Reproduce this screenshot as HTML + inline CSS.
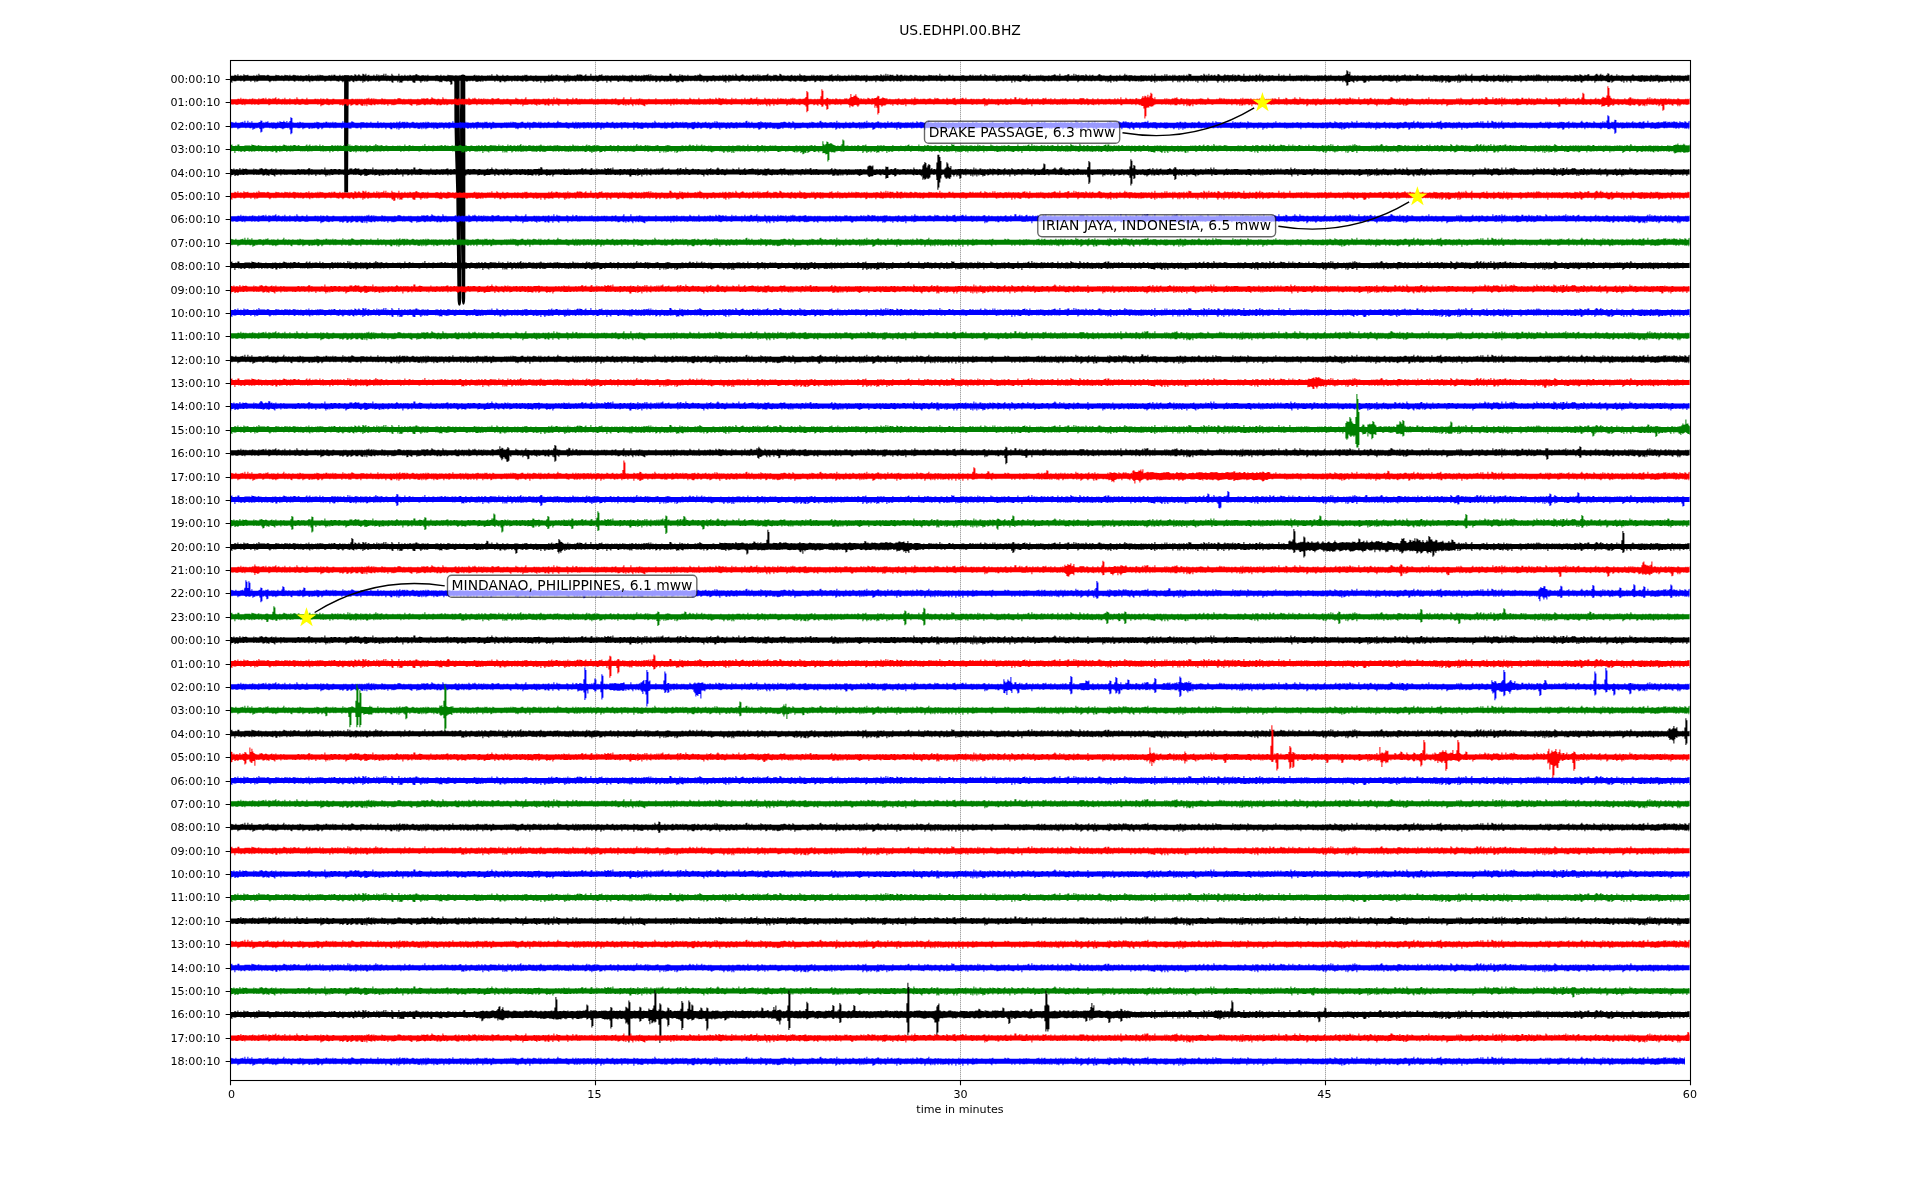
<!DOCTYPE html><html><head><meta charset="utf-8"><title>US.EDHPI.00.BHZ dayplot</title>
<style>html,body{margin:0;padding:0;background:#fff;overflow:hidden}svg{display:block}text{font-family:"DejaVu Sans","Liberation Sans",sans-serif;fill:#000}svg{will-change:transform}</style></head><body>
<svg width="1920" height="1200" viewBox="0 0 1920 1200">
<rect width="1920" height="1200" fill="#fff"/>
<defs><path id="nb0" d="M0 0v-2.5h4v-1h1v.5h1v.5h1v-1.5h1v1.5h2v-.5h1v.5h2v-1.5h1v1h3v-.5h1v1h5v-.5h1v.5h2v-1h1v1h1v-2h1v1.5h6v.5h1v-.5h1v-.5h1v.5h1v.5h6v-1h1v.5h3v.5h2v-.5h1v.5h2v-1h1v.5h3v.5h1v-1h1v1h2v-.5h1v-.5h1v.5h2v.5h1v-.5h1v.5h2v-.5h1v.5h4v-.5h2v.5h1v-1.5h1v1.5h2v-.5h1v.5h3v-.5h1v.5h1v-1h1v1h1v-1h1v.5h3v.5h5v-.5h2v.5h1v-1h1v1h1v-1h2v1h4v-1h1v1h2v-.5h1v.5h1v-.5h1v.5h3v-.5h1v.5h1v-.5h2v.5h2v-1.5h1v.5h1v1h1v-.5h1v-1h1v1h1v.5h2v-2h1v.5h1v1h1v-1.5h1v2h1v-.5h1v-.5h1v1h4v-1h1v1h2v-1.5h1v1.5h1v-1h1v1h1v-.5h3v-1.5h1v2h1v-2h1v2h1v-.5h1v.5h3v-2h1v1.5h1v.5h5v-2h1v2h2v-.5h1v.5h2v-1h1v1h2v-.5h1v.5h1v-1h1v.5h1v.5h1v-.5h3v-1h2v1h2v.5h2v-.5h3v.5h1v-.5h1v.5h1v-1h1v1h7v-.5h3v.5h2v-1h1v1h2v-.5h1v.5h3v-1h1v.5h2v.5h2v-.5h1v.5h2v-.5h1v.5h3v-.5h1v.5h3v-.5h1v.5h9v-.5h1v-.5h1v1h1v-.5h1v.5h1v-.5h1v.5h2v-.5h1v.5h5v-.5h1v.5h1v-.5h1v.5h1v-1.5h1v1.5h4v-1.5h1v1h1v.5h4v-1h1v1h3v-.5h2v.5h6v-.5h1v.5h2v-.5h1v.5h4v-.5h1v.5h1v-1h1v.5h1v-.5h1v1h3v-.5h1v.5h4v-.5h1v.5h12v-1h1v1h1v-.5h1v-1h1v1.5h1v-.5h1v.5h1v-1h2v.5h1v.5h1v-.5h1v.5h3v-.5h1v.5h1v-.5h1v.5h1v-1.5h1v1.5h1v-.5h1v.5h4v-.5h1v.5h1v-1h1v-.5h1v1h1v-1h1v.5h2v1h2v-.5h1v-1h1v1.5h4v-2h1v2h4v-.5h1v.5h2v-.5h1v-.5h1v.5h1v-1h1v1.5h3v-.5h1v.5h1v-.5h1v.5h3v-.5h1v.5h2v-.5h1v.5h1v-.5h1v.5h2v-.5h1v.5h2v-1h1v1h1v-.5h1v.5h4v-.5h1v.5h1v-1h1v.5h1v.5h2v-1h1v1h2v-.5h1v.5h2v-.5h1v.5h1v-1h1v.5h2v-.5h1v.5h1v-1h1v1.5h1v-1.5h1v1.5h1v-.5h1v.5h2v-.5h1v.5h5v-.5h1v.5h7v-2h2v1.5h1v.5h2v-.5h1v.5h4v-1.5h1v1.5h1v-1h1v.5h1v.5h1v-.5h1v.5h2v-1h1v1h6v-.5h2v.5h1v-1h1v.5h1v-1.5h1v1h1v.5h1v.5h10v-.5h2v.5h5v-.5h1v.5h2v-1h1v1h1v-.5h1v-.5h1v1h2v-1h1v.5h2v.5h1v-1h1v1h2v-2h1v1.5h1v.5h3v-.5h1v-.5h1v-.5h1v1h1v.5h2v-.5h1v.5h2v-.5h1v.5h2v-1h2v1h1v-1h1v1h1v-1.5h1v1.5h1v-1h1v1h2v-.5h4v-.5h1v-1h1v2h1v-.5h1v.5h3v-1h1v.5h1v-.5h1v.5h1v.5h2v-2h1v.5h1v1h1v.5h1v-.5h1v.5h3v-.5h1v.5h2v-.5h1v-.5h1v1h2v-.5h1v.5h2v-.5h1v.5h1v-2h1v1.5h2v.5h1v-.5h2v.5h6v-1h1v1h1v-1h1v1h2v-.5h2v.5h1v-.5h2v.5h1v-.5h1v.5h6v-1h1v.5h1v-1h1v1.5h3v-.5h1v.5h1v-1.5h1v1.5h1v-.5h1v.5h4v-.5h1v.5h3v-1h1v1h2v-1h1v1h1v-.5h1v.5h1v-1h1v.5h3v.5h2v-.5h1v.5h1v-.5h2v.5h1v-1h1v1h6v-.5h1v.5h1v-.5h3v.5h2v-1.5h1v1h1v.5h1v-1h1v1h1v-2h1v2h1v-1.5h1v1.5h1v-1h2v.5h1v-.5h1v1h3v-1.5h1v.5h1v1h1v-.5h1v-.5h2v1h2v-1h1v1h1v-.5h1v.5h2v-.5h1v-.5h1v.5h1v.5h2v-1h1v.5h2v.5h2v-.5h1v.5h3v-.5h1v.5h4v-1h1v.5h3v.5h1v-.5h1v.5h1v-.5h2v.5h2v-2h1v2h1v-.5h1v.5h6v-1h2v1h2v-1h1v1h8v-.5h3v.5h5v-1h1v.5h1v.5h1v-1h1v1h2v-.5h1v.5h1v-.5h1v.5h1v-.5h1v-1h1v1.5h3v-1.5h1v1h2v.5h2v-.5h1v.5h2v-1.5h1v1.5h1v-1.5h1v1.5h2v-.5h1v.5h1v-.5h2v.5h3v-.5h3v.5h1v-1h1v1h1v-.5h1v.5h1v-.5h2v.5h1v-.5h1v.5h1v-.5h2v.5h3v-1h2v-.5h1v1.5h1v-1h1v1h2v-1.5h1v1.5h6v-.5h1v.5h1v-.5h1v.5h1v-1h1v1h1v-.5h1v.5h5v-.5h1v.5h2v-.5h2v-.5h1v-.5h1v1h1v.5h1v-.5h1v.5h1v-2h1v2h4v-.5h3v-1h2v1.5h2v-.5h1v.5h1v-2h1v2h1v-1.5h1v1h2v-.5h1v1h1v-.5h4v.5h1v-1.5h1v1h1v.5h2v-1h1v1h1v-.5h1v-.5h1v1h4v-.5h1v-1h2v1h2v.5h1v-.5h1v.5h5v-.5h1v-.5h1v1h5v-.5h1v.5h2v-1h1v1h3v-.5h1v-1.5h1v1.5h1v-.5h1v1h1v-.5h4v.5h2v-.5h1v.5h5v-.5h2v.5h1v-.5h1v.5h1v-.5h1v.5h2v-.5h1v.5h2v-1h1v1h2v-2h1v2h6v-.5h1v.5h2v-1.5h1v1.5h1v-1.5h1v1.5h2v-.5h1v.5h2v-1h1v1h1v-1h1v1h3v-.5h2v.5h1v-.5h1v.5h1v-1h1v1h2v-1h1v1h1v-2h1v.5h2v1.5h9v-.5h2v.5h1v-2h1v1h1v1h1v-1h1v1h1v-2h1v2h1v-.5h1v-.5h1v1h1v-.5h1v-.5h1v1h2v-1.5h2v1h1v.5h3v-.5h1v-1h1v1h2v-.5h1v.5h4v-1h1v1.5h1v-1h1v.5h1v.5h1v-1h2v.5h1v.5h3v-2h1v2h5v-1h1v1h2v-.5h1v.5h2v-1h2v1h1v-.5h1v-1.5h1v2h1v-1h1v.5h1v.5h3v-.5h1v.5h1v-.5h2v.5h1v-.5h2v.5h5v-2h1v2h2v-.5h1v.5h1v-1h1v1h5v-2h1v2h6v-.5h1v.5h1v-.5h1v.5h1v-.5h2v.5h2v-1h1v1h1v-1h1v1h1v-.5h1v.5h8v-.5h1v.5h1v-.5h1v.5h1v-.5h1v.5h2v-1h1v.5h1v.5h2v-.5h1v.5h1v-1h1v1h7v-.5h1v.5h4v-.5h1v.5h1v-.5h1v.5h1v-1h1v1h1v-.5h1v.5h1v-.5h1v.5h2v-.5h1v.5h2v-.5h1v.5h4v-.5h1v.5h1v-.5h1v.5h4v-.5h2v.5h3v-.5h1v.5h3v-.5h2v-.5h1v1h2v-.5h4v.5h1v-1h1v.5h1v.5h1v-.5h1v.5h1v-1h1v1h2v-.5h1v-.5h1v1h3v-.5h3v-1h1v1h1v.5h1v-.5h1v.5h1v-1h1v.5h1v.5h1v-.5h1v.5h3v-1.5h2v1.5h1v-.5h1v.5h1v-.5h1v-.5h1v1h6v-.5h1v.5h3v-1h1v.5h3v.5h3v-.5h3v.5h2v-.5h1v.5h1v-.5h2v.5h6v-.5h1v.5h1v-.5h1v-1h1v1h1v.5h1v-1h1v1h1v-1h1v1h1v-2h1v1.5h1v.5h3v-.5h1v-1.5h1v2h9v-.5h2v-.5h1v1h2v-1.5h1v1.5h6v-1h1v1h3v-.5h1v-.5h1v1h1v-.5h1v.5h2v-1.5h1v1.5h2v-1h1v1h1v-.5h1v.5h1v-.5h1v.5h8v-.5h2v.5h4v-.5h1v.5h1v-1h1v.5h1v.5h1v-.5h2v.5h1v-1h1v1h1v-.5h1v-1h1v1h1v-1h1v1h2v.5h2v-.5h1v.5h2v-1h1v1h1v-.5h1v.5h2v-.5h2v.5h1v-.5h1v.5h1v-.5h1v.5h1v-.5h2v.5h3v-.5h1v.5h1v-.5h3v.5h1v-.5h1v.5h4v-1h1v.5h3v.5h1v-1.5h1v.5h1v.5h1v.5h2v-1h1v.5h2v-1h2v1.5h5v-.5h1v-1h1v-.5h1v1h1v1h1v-1h1v-1h1v1.5h1v-.5h1v1h3v-1h1v1h3v-.5h1v-.5h1v1h4v-1.5h1v1.5h1v-.5h1v.5h2v-.5h2v.5h8v-.5h1v-1h1v1h1v.5h4v-.5h1v.5h1v-.5h3v.5h1v-.5h1v.5h1v-.5h1v.5h3v-1h1v.5h1v.5h1v-.5h1v.5h1v-1h1v.5h1v-.5h1v1h1v-.5h1v.5h7v-.5h1v.5h3v-1h1v.5h1v.5h1v-.5h1v.5h2v-.5h1v.5h1v-.5h1v.5h5v-.5h1v.5h1v-1h1v.5h1v-.5h1v8h-1v-2h-2v.5h-1v-.5h-2v1h-1v-.5h-1v-.5h-2v1.5h-1v-1.5h-1v.5h-1v-.5h-1v.5h-1v-.5h-1v1.5h-1v-1.5h-2v2h-1v-1.5h-1v-.5h-2v.5h-2v.5h-1v-1h-1v1h-2v-.5h-1v.5h-1v1h-1v-1.5h-1v-.5h-1v.5h-3v.5h-1v-1h-1v1h-2v-1h-1v.5h-3v.5h-2v-1h-1v1h-3v-.5h-2v-.5h-3v.5h-1v-.5h-2v2h-1v-1.5h-1v-.5h-2v1.5h-1v-1.5h-2v2h-1v-2h-1v1h-1v-.5h-1v-.5h-6v.5h-1v.5h-1v1h-1v-2h-1v1.5h-3v-1h-2v-.5h-3v.5h-2v-.5h-1v.5h-1v-.5h-1v.5h-2v1.5h-1v-2h-2v.5h-1v-.5h-3v.5h-1v-.5h-3v.5h-2v1.5h-1v-.5h-1v-1.5h-1v.5h-2v-.5h-1v1h-2v-.5h-3v.5h-1v-1h-2v1h-1v-1h-4v.5h-1v.5h-1v-1h-1v.5h-1v-.5h-1v.5h-1v-.5h-2v.5h-1v-.5h-2v.5h-1v-.5h-3v2h-1v-2h-1v.5h-1v-.5h-1v.5h-1v-.5h-2v.5h-1v-.5h-1v.5h-1v-.5h-1v.5h-2v-.5h-1v1h-1v-1h-6v.5h-2v-.5h-3v.5h-1v1h-1v-1.5h-1v.5h-1v-.5h-6v2h-1v-2h-1v.5h-2v1.5h-1v-1.5h-1v.5h-1v-1h-1v.5h-1v1h-1v-1h-1v.5h-2v-.5h-1v-.5h-2v.5h-2v1h-1v-1h-1v-.5h-1v1h-1v-1h-2v1h-2v-.5h-3v-.5h-2v.5h-1v1h-1v-1h-1v-.5h-1v.5h-1v-.5h-1v.5h-1v-.5h-2v2h-1v-1.5h-1v-.5h-1v.5h-1v-.5h-1v.5h-2v-.5h-2v.5h-1v-.5h-1v1h-1v1h-1v-2h-1v2h-1v-2h-2v1h-1v-1h-1v.5h-1v-.5h-1v1h-1v.5h-1v.5h-1v-1h-1v-.5h-1v1.5h-1v-2h-2v1h-1v1h-1v-2h-1v1.5h-1v-1.5h-1v1h-1v-.5h-1v.5h-1v-.5h-1v-.5h-1v1h-1v-1h-1v1h-1v-1h-2v.5h-1v-.5h-1v.5h-1v-.5h-2v.5h-2v-.5h-10v.5h-1v-.5h-1v.5h-1v-.5h-1v.5h-1v-.5h-6v.5h-1v.5h-1v-1h-1v2h-1v-1.5h-1v-.5h-2v.5h-2v.5h-1v-.5h-2v-.5h-4v.5h-1v.5h-1v-1h-13v1h-1v-1h-2v1.5h-1v.5h-2v-1.5h-1v-.5h-4v.5h-1v.5h-1v-1h-2v2h-1v-1h-1v-.5h-2v-.5h-4v.5h-1v-.5h-2v1.5h-1v-1.5h-2v.5h-1v-.5h-3v.5h-2v-.5h-5v.5h-1v-.5h-1v1h-1v-.5h-1v-.5h-3v.5h-1v-.5h-2v.5h-2v-.5h-2v1h-1v-1h-4v.5h-1v-.5h-1v.5h-2v-.5h-2v.5h-1v-.5h-1v.5h-2v-.5h-4v.5h-1v-.5h-1v.5h-2v-.5h-1v.5h-1v-.5h-4v.5h-2v.5h-1v-1h-1v.5h-2v-.5h-1v.5h-1v-.5h-4v.5h-1v-.5h-3v.5h-2v.5h-1v-1h-1v.5h-1v-.5h-1v.5h-1v1h-1v-1.5h-2v1h-1v-1h-2v1h-2v-.5h-1v-.5h-1v.5h-2v-.5h-1v.5h-1v.5h-1v-.5h-2v.5h-3v-.5h-2v.5h-1v-1h-3v.5h-2v.5h-1v-1h-1v.5h-2v-.5h-1v.5h-1v1h-1v-1.5h-2v.5h-1v-.5h-1v2h-1v-2h-1v1h-1v-1h-2v.5h-1v1.5h-1v-1.5h-1v-.5h-9v1.5h-1v-1.5h-2v1.5h-1v-1.5h-1v.5h-1v-.5h-3v2h-1v-2h-1v1h-1v-1h-2v.5h-1v-.5h-1v.5h-1v-.5h-2v1h-1v-1h-3v1.5h-1v-1.5h-3v1.5h-1v-1.5h-1v1.5h-1v-1.5h-4v1.5h-1v-1.5h-6v.5h-1v-.5h-1v.5h-1v-.5h-1v1h-1v-1h-1v.5h-1v-.5h-2v1h-1v-1h-1v2h-1v-1.5h-1v-.5h-1v1h-2v-1h-3v.5h-1v-.5h-2v.5h-3v.5h-1v-1h-1v1h-1v-1h-1v.5h-3v-.5h-1v.5h-1v-.5h-2v1h-1v-.5h-1v-.5h-3v.5h-1v-.5h-7v1h-1v-.5h-1v-.5h-1v1h-1v-1h-2v2h-1v-1.5h-2v1h-1v-1.5h-1v1h-1v-1h-3v.5h-3v-.5h-4v.5h-1v-.5h-2v.5h-2v-.5h-1v.5h-1v-.5h-3v.5h-2v-.5h-4v.5h-1v1h-1v-1.5h-9v1h-1v-.5h-1v-.5h-6v.5h-2v-.5h-1v.5h-1v-.5h-1v.5h-1v-.5h-2v.5h-2v-.5h-1v.5h-2v-.5h-2v1h-1v-.5h-2v-.5h-3v.5h-1v-.5h-1v.5h-1v-.5h-4v.5h-1v-.5h-1v.5h-1v.5h-1v-.5h-1v-.5h-1v.5h-1v-.5h-4v1h-2v-.5h-2v-.5h-2v1.5h-1v-1.5h-2v2h-1v-2h-4v.5h-1v-.5h-2v.5h-2v-.5h-3v.5h-1v-.5h-1v1h-1v-.5h-1v-.5h-8v.5h-1v-.5h-2v.5h-1v-.5h-16v.5h-1v.5h-1v-1h-1v.5h-1v-.5h-1v.5h-1v-.5h-1v.5h-1v-.5h-4v.5h-2v-.5h-8v1h-1v-1h-2v.5h-2v-.5h-3v.5h-1v-.5h-7v.5h-1v-.5h-4v.5h-1v.5h-1v-1h-1v.5h-2v-.5h-1v.5h-1v-.5h-3v.5h-1v-.5h-2v.5h-1v-.5h-1v.5h-1v-.5h-1v.5h-1v-.5h-3v.5h-1v-.5h-1v1h-1v-.5h-1v-.5h-1v.5h-2v-.5h-2v1h-1v-1h-2v.5h-2v-.5h-3v.5h-1v-.5h-1v.5h-1v.5h-1v-.5h-3v-.5h-3v1.5h-1v-1.5h-3v.5h-1v-.5h-1v.5h-1v-.5h-2v1h-1v.5h-1v-1.5h-4v.5h-1v-.5h-4v.5h-1v-.5h-8v.5h-2v-.5h-2v.5h-2v-.5h-1v1h-1v-1h-2v.5h-1v-.5h-3v1h-1v-.5h-1v-.5h-1v.5h-2v-.5h-5v1h-1v-1h-1v1h-1v-.5h-1v-.5h-3v1h-1v.5h-1v-1.5h-4v.5h-1v-.5h-2v.5h-1v.5h-3v-1h-1v.5h-3v-.5h-3v1h-1v-.5h-2v-.5h-2v1h-1v-.5h-2v-.5h-5v.5h-2v-.5h-3v.5h-2v-.5h-2v.5h-1v-.5h-2v1h-1v-1h-3v.5h-1v-.5h-2v.5h-1v-.5h-2v.5h-1v-.5h-1v1h-1v-1h-5v1h-1v-1h-2v.5h-1v.5h-1v-1h-2v.5h-1v-.5h-5v1h-1v-.5h-1v-.5h-7v.5h-1v-.5h-1v1.5h-1v-1.5h-2v2h-1v-1.5h-1v.5h-1v-1h-4v.5h-1v-.5h-3v1h-1v-1h-2v.5h-2v-.5h-2v1h-1v.5h-1v-1.5h-2v1.5h-1v-1.5h-1v.5h-3v-.5h-2v.5h-1v-.5h-1v.5h-1v-.5h-3v.5h-1v-.5h-2v.5h-1v-.5h-1v.5h-1v-.5h-1v.5h-1v1h-1v-.5h-1v-.5h-1v-.5h-1v1.5h-1v-.5h-1v1h-1v-1.5h-1v-.5h-2v.5h-1v-.5h-1v1h-1v-1h-1v.5h-2v.5h-1v-1h-1v1h-1v-.5h-1v-.5h-2v.5h-1v1h-1v-1.5h-2v1h-1v.5h-1v-1.5h-2v.5h-1v-.5h-2v1h-1v-1h-1v.5h-1v-.5h-2v.5h-1v.5h-1v-1h-1v.5h-1v.5h-1v-1h-1v.5h-4v-.5h-3v1.5h-1v-1h-1v1h-1v-1h-3v-.5h-1v.5h-2v-.5h-2v.5h-1v-.5h-1v1h-2v-1h-6v1.5h-1v-1h-1v-.5h-2v2h-1v-2h-3v.5h-1v-.5h-3v.5h-1v.5h-2v-1h-2v.5h-2v-.5h-4v.5h-1v-.5h-1v.5h-2v-.5h-2v.5h-2v-.5h-1v.5h-1v-.5h-2v1h-1v-.5h-1v-.5h-1v.5h-1v-.5h-2v.5h-1v.5h-1v-1h-1v1h-1v-.5h-1v1.5h-1v-1.5h-1v-.5h-4v1h-1v-1h-5v1h-1v-.5h-3v.5h-1v-.5h-3v1.5h-1v-1.5h-1v-.5h-2v2h-1v-2h-1v.5h-2v.5h-1v-.5h-1v-.5h-1v1h-1v-.5h-1v-.5h-4v.5h-2v.5h-1v-1h-2v1h-1v-.5h-2v-.5h-2v.5h-2v-.5h-1v.5h-1v-.5h-2v1h-1v-1h-2v.5h-1v-.5h-1v.5h-2v1h-1v-1h-2v-.5h-1v1.5h-2v-1.5h-1v.5h-1v-.5h-2v1h-1v-1h-8v.5h-1v-.5h-2v1h-1v-1h-1v1h-1v-.5h-2v.5h-3v-1h-2v.5h-1v-.5h-2v.5h-1v-.5h-1v.5h-1v.5h-1v-.5h-1v-.5h-9v.5h-1v.5h-1v-.5h-1v-.5h-4v.5h-2v.5h-1v-.5h-2v-.5h-2v1.5h-1v-.5h-1v.5h-1v-1h-2v-.5h-1v.5h-1v-.5h-7v.5h-1v.5h-1v-1h-1v1h-1v-1h-1v.5h-2v1.5h-1v-1.5h-1v-.5h-4v2h-2v-.5h-1v-1.5h-4v.5h-1v-.5h-4v.5h-1v1.5h-1v-.5h-1v.5h-1v-2h-1v1.5h-1v-1.5h-4v2h-1v-.5h-1v-1.5h-1v.5h-1v-.5h-2v.5h-1v-.5h-6v.5h-1v.5h-1v-1h-2v.5h-1v-.5h-4v.5h-1v-.5h-1v.5h-1v.5h-1v-1h-2v1h-1v-.5h-1v1.5h-1v-2h-1v.5h-1v-.5h-3v.5h-2v-.5h-1v1.5h-1v-.5h-1v-1h-2v1h-1v-.5h-2v-.5h-3v.5h-1v1h-1v-1h-1v-.5h-2v1h-1v-.5h-2v-.5h-5v.5h-1v-.5h-4v.5h-1v.5h-1v-1h-5v.5h-1v-.5h-1v.5h-1v-.5h-3v.5h-2v-.5h-1v1.5h-1v-1h-1v-.5h-1v.5h-1v-.5h-2v.5h-1v.5h-1v-1h-1v.5h-1v-.5h-1v.5h-1v-.5h-3v1h-1v-.5h-1v-.5h-4v.5h-1v-.5h-4v.5h-1v-.5h-7v.5h-1v-.5h-1v.5h-1v-.5h-2v.5h-1v1h-1v-1h-1v-.5h-10v.5h-1v.5h-1v-1h-1v1.5h-1v-1.5h-3v1h-1v-1h-5v.5h-1v.5h-1v-1h-2v.5h-1v-.5h-4v.5h-3v-.5h-1v2h-1v-1h-1z"/><path id="nb1" d="M0 0v-3.5h1v.5h2v.5h2v-1h1v1h4v-.5h2v-.5h1v1h1v-2h1v2h2v-2h1v2h1v-.5h1v.5h1v-1.5h1v1.5h6v-.5h3v.5h2v-.5h1v.5h1v-1h1v.5h1v-1h1v1.5h3v-.5h1v.5h1v-.5h1v.5h3v-1h1v1h4v-.5h1v-1.5h1v2h1v-.5h1v.5h2v-.5h1v.5h3v-.5h1v.5h4v-.5h1v.5h1v-1h1v.5h1v.5h1v-.5h1v.5h11v-.5h1v.5h1v-1h1v.5h2v.5h4v-.5h1v.5h1v-1h2v1h1v-.5h1v.5h1v-.5h1v.5h1v-1h1v1h1v-.5h2v.5h6v-1.5h1v1.5h1v-.5h1v.5h3v-.5h1v.5h1v-.5h1v-1h1v.5h1v.5h1v.5h6v-.5h4v.5h2v-.5h1v.5h3v-1h1v1h6v-1.5h1v1.5h2v-.5h1v.5h2v-.5h1v.5h6v-.5h1v.5h2v-.5h1v.5h2v-1h1v1h1v-.5h1v-1h1v1.5h1v-.5h1v-.5h1v.5h1v-.5h1v1h1v-1h1v.5h1v.5h3v-.5h1v-.5h1v.5h1v.5h2v-.5h1v.5h3v-.5h1v.5h1v-.5h2v.5h1v-1h1v1h1v-1h1v.5h1v.5h2v-.5h1v.5h1v-.5h1v.5h1v-.5h1v.5h3v-.5h1v.5h1v-.5h1v.5h3v-.5h1v.5h2v-.5h2v.5h2v-1.5h1v1.5h6v-.5h2v.5h1v-.5h1v.5h2v-1h1v1h1v-.5h1v.5h4v-.5h1v.5h2v-.5h2v-.5h1v.5h1v.5h1v-.5h1v.5h1v-.5h1v.5h1v-1h1v.5h1v-.5h1v1h2v-.5h1v.5h2v-1h1v.5h1v.5h10v-.5h1v.5h1v-.5h1v.5h1v-.5h1v.5h1v-1h1v1h1v-1h1v.5h3v.5h4v-.5h1v-.5h2v1h4v-1h1v1h1v-.5h1v.5h2v-.5h1v-.5h1v.5h2v.5h2v-1h1v1h1v-1h1v1h3v-.5h1v.5h2v-.5h1v-.5h1v1h4v-.5h1v.5h2v-.5h1v-1.5h1v1.5h3v.5h4v-.5h2v.5h5v-1h1v1h2v-1h1v1h1v-.5h2v.5h1v-.5h1v.5h1v-.5h3v.5h1v-.5h3v.5h1v-1h1v1h2v-.5h1v.5h2v-.5h3v.5h2v-.5h1v.5h4v-1h1v.5h1v.5h3v-.5h1v-.5h1v1h3v-.5h1v.5h3v-.5h2v.5h1v-.5h3v.5h1v-.5h1v.5h5v-1h1v.5h1v.5h1v-.5h2v.5h3v-.5h1v.5h3v-.5h1v.5h6v-.5h1v.5h1v-2h1v1.5h1v.5h2v-.5h1v.5h5v-1h1v1h2v-.5h1v.5h3v-.5h1v-.5h1v1h2v-1h1v.5h2v.5h1v-.5h2v.5h1v-1h1v1h1v-.5h3v.5h4v-.5h3v-.5h1v1h2v-1h1v.5h1v.5h3v-.5h1v.5h1v-.5h1v-.5h1v1h2v-.5h1v.5h3v-.5h1v.5h1v-1.5h1v1.5h1v-1.5h1v1h1v.5h1v-.5h1v.5h1v-.5h1v.5h1v-.5h1v.5h3v-.5h1v.5h2v-.5h2v.5h3v-.5h2v.5h2v-.5h1v.5h3v-.5h1v.5h1v-1.5h1v-.5h1v2h1v-1h1v1h2v-1h1v1h6v-.5h1v.5h1v-1.5h1v1h2v.5h1v-.5h2v.5h1v-.5h1v.5h1v-.5h2v.5h9v-.5h3v-.5h2v.5h1v.5h2v-1h1v.5h1v.5h2v-1.5h1v1h1v.5h8v-.5h1v.5h6v-.5h1v.5h1v-1h1v.5h2v.5h3v-.5h1v.5h1v-1.5h1v-.5h1v1.5h2v.5h1v-.5h2v.5h3v-.5h3v.5h1v-.5h2v.5h1v-2h1v2h1v-.5h1v.5h6v-1h1v1h3v-.5h1v.5h2v-1h1v.5h1v.5h4v-.5h2v.5h1v-.5h1v.5h1v-.5h1v-.5h1v1h1v-2h1v2h1v-.5h1v.5h2v-.5h2v.5h2v-.5h2v-1h1v.5h1v1h1v-.5h1v.5h3v-.5h1v.5h2v-1.5h1v1.5h2v-.5h1v-.5h1v1h2v-.5h1v.5h1v-.5h2v-.5h1v1h1v-.5h1v.5h4v-.5h1v.5h1v-.5h1v.5h2v-.5h1v.5h1v-1h1v1h3v-1.5h1v1h1v.5h1v-.5h1v-.5h1v.5h2v.5h3v-.5h2v-1.5h1v2h1v-.5h1v.5h3v-.5h2v.5h1v-.5h2v.5h1v-.5h1v.5h4v-.5h1v.5h2v-.5h1v.5h3v-.5h1v.5h5v-1h1v1h3v-.5h1v.5h4v-.5h1v.5h4v-1h1v1h2v-.5h2v.5h4v-.5h1v.5h7v-.5h1v.5h1v-.5h1v-.5h1v1h11v-1h1v.5h1v.5h1v-1h1v.5h1v.5h10v-.5h1v.5h3v-.5h1v.5h1v-.5h2v.5h1v-.5h1v.5h7v-.5h2v-.5h1v1h2v-1h1v1h1v-.5h1v-.5h1v1h5v-.5h1v.5h4v-1h1v1h2v-.5h1v.5h1v-1h1v1h1v-.5h1v.5h1v-1h1v1h2v-.5h1v.5h2v-.5h2v.5h3v-2h1v1.5h1v-.5h1v1h2v-.5h2v.5h3v-.5h1v.5h1v-.5h1v-1h1v1.5h2v-.5h2v.5h1v-1.5h1v1.5h2v-.5h1v.5h9v-1h1v1h1v-1.5h1v1h2v.5h1v-.5h4v.5h1v-1.5h1v1h2v.5h1v-1h1v-.5h1v1h1v-1h1v1h3v.5h1v-.5h1v-.5h1v1h3v-.5h2v.5h1v-.5h1v.5h2v-.5h3v-.5h2v.5h1v-1.5h1v2h2v-.5h1v.5h1v-.5h4v.5h4v-.5h1v.5h3v-.5h1v.5h1v-.5h1v.5h9v-.5h2v.5h1v-1h2v1h1v-.5h1v.5h1v-1h1v.5h1v.5h5v-.5h2v.5h1v-.5h1v.5h2v-.5h1v-1h1v1h1v.5h5v-1h1v1h2v-.5h1v.5h3v-1.5h1v1.5h2v-1.5h1v1h5v.5h11v-1.5h1v1.5h1v-.5h2v.5h1v-.5h1v.5h1v-.5h1v-.5h1v1h1v-.5h1v.5h1v-.5h1v.5h2v-1.5h1v1h1v.5h1v-.5h1v.5h7v-.5h1v.5h1v-.5h1v.5h6v-.5h1v.5h5v-.5h1v.5h1v-1.5h1v1.5h3v-.5h1v.5h4v-.5h1v.5h7v-.5h1v.5h3v-.5h2v.5h2v-.5h1v.5h6v-.5h2v.5h3v-.5h1v.5h9v-.5h1v.5h2v-.5h1v.5h1v-.5h1v.5h1v-1h1v.5h1v.5h3v-1.5h1v1h2v.5h2v-.5h3v.5h2v-.5h1v.5h1v-.5h2v.5h3v-1.5h1v1h1v.5h1v-.5h1v.5h1v-2h1v2h3v-.5h2v.5h1v-.5h1v.5h2v-.5h1v.5h1v-1h1v.5h1v.5h1v-.5h1v.5h4v-1h1v1h1v-.5h1v.5h4v-.5h1v-.5h1v1h4v-.5h1v.5h1v-.5h1v.5h5v-.5h1v.5h1v-.5h2v.5h2v-.5h1v-.5h2v.5h1v.5h1v-.5h1v.5h1v-.5h3v-1.5h1v2h2v-.5h1v-1h1v1h1v.5h1v-1h1v1h2v-.5h1v.5h2v-.5h1v.5h1v-.5h1v.5h2v-1.5h1v1.5h4v-.5h1v-.5h1v.5h1v-.5h1v-1h1v2h3v-.5h3v.5h1v-.5h2v.5h3v-.5h1v.5h2v-.5h1v.5h1v-1h1v.5h1v.5h3v-.5h1v.5h5v-.5h1v.5h3v-.5h1v.5h1v-.5h2v-.5h1v1h2v-1.5h1v1.5h1v-1.5h1v1.5h4v-2h1v2h3v-2h1v.5h1v1h2v-.5h1v1h2v-1h1v1h1v-.5h1v-1.5h1v2h1v-.5h1v.5h1v-.5h1v.5h1v-.5h2v.5h3v-.5h1v.5h1v-1h1v.5h1v.5h3v-.5h1v.5h1v-.5h1v.5h3v-.5h1v.5h13v-.5h1v-.5h1v1h4v-1h1v1h1v-1h1v1h1v-1h1v.5h1v.5h3v-.5h1v.5h2v-.5h1v.5h1v-1h1v.5h1v-.5h1v1h1v-.5h1v.5h2v-.5h2v-1h1v1.5h3v-1h1v1h1v-.5h1v.5h5v-1h1v-1h1v1.5h1v.5h2v-.5h1v-.5h1v.5h1v.5h1v-.5h1v.5h3v-1.5h1v1h1v.5h5v-.5h1v.5h1v-1.5h1v1.5h1v-1h1v1h2v-1h1v.5h1v.5h2v-1h1v.5h1v.5h2v-.5h1v.5h1v-.5h1v.5h2v-.5h1v.5h1v-.5h1v.5h3v-1h1v1h1v-.5h1v.5h2v-.5h1v-1h1v1.5h1v-.5h1v.5h3v-.5h1v-.5h1v.5h1v.5h1v-1h1v-.5h1v1.5h3v-2h1v2h3v-.5h2v.5h3v-.5h2v-.5h1v1h1v-.5h3v-1h1v.5h1v-.5h1v1.5h1v-1h1v.5h1v-.5h1v1h1v-1h1v.5h1v-1h1v.5h1v.5h1v-.5h1v1h2v-1.5h1v1h3v.5h1v-1.5h1v.5h1v1h2v-1.5h1v-.5h1v7h-1v1.5h-1v-1.5h-1v1h-1v-.5h-1v.5h-1v-1h-1v.5h-1v-.5h-3v1h-1v-1h-1v.5h-1v.5h-1v-1h-1v.5h-1v-.5h-6v.5h-1v-.5h-1v.5h-2v-.5h-3v.5h-2v.5h-1v-.5h-1v.5h-2v-.5h-3v.5h-1v-1h-6v1h-1v-.5h-1v.5h-1v-.5h-3v-.5h-1v.5h-2v-.5h-1v.5h-2v-.5h-2v.5h-1v-.5h-1v.5h-2v-.5h-1v.5h-3v.5h-1v-1h-2v.5h-1v-.5h-3v.5h-1v-.5h-1v1h-1v-.5h-2v1h-1v-1h-1v-.5h-3v.5h-1v-.5h-2v.5h-1v1h-1v-1h-2v-.5h-1v.5h-1v-.5h-2v.5h-1v-.5h-1v.5h-1v-.5h-3v.5h-1v-.5h-2v1.5h-1v-1.5h-2v.5h-1v-.5h-4v1h-1v-1h-2v.5h-1v-.5h-4v1h-1v-1h-8v.5h-2v.5h-1v-1h-7v.5h-1v.5h-1v-.5h-1v-.5h-2v.5h-1v-.5h-1v.5h-1v-.5h-5v1h-1v-1h-1v.5h-1v-.5h-2v.5h-1v-.5h-1v1h-1v-1h-2v.5h-1v-.5h-3v.5h-1v-.5h-7v.5h-1v-.5h-1v.5h-1v-.5h-1v.5h-1v-.5h-6v1h-2v-1h-3v1h-1v-1h-2v1h-1v-1h-1v1h-1v-1h-4v.5h-2v-.5h-3v.5h-2v-.5h-10v.5h-1v-.5h-3v.5h-1v.5h-1v-1h-1v.5h-1v-.5h-2v2h-1v-2h-4v1h-1v-1h-1v.5h-1v-.5h-1v1h-1v-1h-1v.5h-1v-.5h-4v.5h-2v-.5h-2v1.5h-2v-1.5h-1v1h-1v-1h-1v.5h-1v-.5h-2v.5h-1v-.5h-2v.5h-1v.5h-1v-1h-5v.5h-1v.5h-1v-.5h-2v.5h-1v-1h-4v1h-1v-1h-1v.5h-2v-.5h-1v1.5h-1v.5h-1v-2h-4v.5h-2v-.5h-2v.5h-2v1h-1v-.5h-1v-1h-1v.5h-3v-.5h-2v1h-1v-.5h-1v-.5h-2v1h-1v-1h-5v1h-1v-.5h-3v1.5h-1v-2h-1v.5h-1v-.5h-2v1h-1v-1h-1v.5h-1v-.5h-1v.5h-2v-.5h-9v.5h-1v-.5h-1v.5h-1v-.5h-4v1h-1v-1h-2v.5h-1v.5h-1v.5h-1v-1.5h-1v2h-1v-1.5h-1v.5h-1v-.5h-2v-.5h-1v.5h-1v-.5h-1v.5h-3v-.5h-3v.5h-1v.5h-1v-1h-2v.5h-4v-.5h-2v1h-1v-1h-1v.5h-1v-.5h-1v.5h-2v-.5h-6v.5h-1v-.5h-4v1.5h-1v-1.5h-1v.5h-1v-.5h-5v.5h-1v-.5h-1v.5h-1v-.5h-1v.5h-1v-.5h-1v1h-1v-1h-1v.5h-1v-.5h-11v.5h-2v-.5h-4v1h-1v-1h-1v.5h-2v1.5h-1v-2h-4v1h-1v-1h-3v1h-1v-1h-4v.5h-1v-.5h-1v1.5h-1v-1.5h-6v.5h-4v-.5h-1v1h-1v-1h-2v.5h-2v-.5h-9v.5h-1v-.5h-2v.5h-1v-.5h-3v.5h-2v-.5h-1v.5h-1v-.5h-2v.5h-1v.5h-1v-1h-1v.5h-1v-.5h-2v.5h-2v-.5h-1v.5h-1v-.5h-3v.5h-2v-.5h-1v.5h-2v-.5h-2v.5h-1v-.5h-1v.5h-1v.5h-1v-.5h-1v1.5h-1v-2h-1v1h-1v-1h-1v2h-1v-2h-1v.5h-1v-.5h-1v.5h-1v1h-1v-1h-1v-.5h-1v.5h-1v-.5h-2v.5h-2v.5h-1v-.5h-2v-.5h-3v.5h-1v-.5h-2v1.5h-1v-1h-2v-.5h-1v.5h-1v-.5h-3v.5h-1v.5h-1v-1h-1v.5h-1v-.5h-1v.5h-1v-.5h-3v1.5h-1v-1.5h-5v2h-1v-1h-1v-1h-2v1.5h-1v-1h-2v-.5h-5v1.5h-1v-1.5h-2v.5h-1v-.5h-1v.5h-2v.5h-1v-.5h-1v-.5h-3v1h-1v.5h-1v-1h-3v-.5h-1v.5h-2v-.5h-3v.5h-1v-.5h-1v1.5h-2v-1.5h-1v2h-1v-1.5h-1v-.5h-3v.5h-1v1h-1v-1h-1v-.5h-3v.5h-1v.5h-1v1h-1v-2h-1v.5h-1v-.5h-1v1h-1v-1h-2v.5h-2v-.5h-4v.5h-1v-.5h-1v.5h-1v-.5h-1v.5h-1v1h-1v-1.5h-3v1.5h-1v-1h-1v.5h-1v-1h-1v.5h-1v-.5h-2v1h-1v-1h-1v1h-1v-1h-1v.5h-1v-.5h-1v.5h-3v-.5h-1v1h-1v-1h-1v.5h-2v-.5h-1v.5h-1v-.5h-2v1h-1v-1h-6v.5h-1v-.5h-1v.5h-3v-.5h-2v1h-1v-1h-4v1h-1v-1h-2v1h-1v-1h-15v.5h-1v-.5h-3v1.5h-1v-1h-1v-.5h-4v.5h-1v-.5h-8v.5h-1v-.5h-1v.5h-2v.5h-1v-.5h-1v-.5h-3v1.5h-1v-1.5h-4v2h-1v-2h-2v.5h-1v.5h-1v-1h-2v2h-1v-2h-3v1.5h-1v-1.5h-2v1.5h-1v-1h-1v-.5h-1v.5h-3v.5h-1v-1h-1v1h-1v-1h-2v1h-1v-1h-2v1.5h-1v-1.5h-1v1h-1v-1h-1v1.5h-1v-1h-1v-.5h-1v.5h-1v-.5h-1v.5h-1v1.5h-1v-2h-2v.5h-2v-.5h-3v.5h-1v-.5h-2v.5h-1v-.5h-1v1h-1v-1h-4v.5h-1v-.5h-1v.5h-1v-.5h-3v1h-2v-1h-2v2h-1v-2h-1v.5h-1v-.5h-8v1h-1v-.5h-1v-.5h-3v1h-1v-1h-1v.5h-1v-.5h-3v1h-1v.5h-1v.5h-1v-2h-5v.5h-2v-.5h-1v1h-1v-1h-1v1h-1v-1h-1v1.5h-1v-1.5h-2v.5h-2v-.5h-4v.5h-3v-.5h-2v.5h-1v-.5h-1v1h-1v-.5h-1v-.5h-2v1h-1v-.5h-1v-.5h-1v1h-1v1h-1v-2h-2v.5h-1v-.5h-5v.5h-1v-.5h-4v1h-1v-1h-3v.5h-1v-.5h-4v.5h-1v-.5h-2v.5h-1v-.5h-1v1h-1v-.5h-1v-.5h-5v.5h-6v1.5h-1v-2h-3v1h-1v-1h-1v.5h-1v-.5h-5v1h-1v-1h-1v.5h-1v.5h-2v.5h-1v-.5h-1v-1h-1v1h-1v-.5h-1v.5h-1v-1h-2v.5h-1v-.5h-2v1h-1v.5h-1v-1.5h-4v1h-1v-1h-1v.5h-1v-.5h-2v.5h-1v-.5h-1v1h-1v-1h-3v.5h-1v-.5h-2v.5h-1v-.5h-9v1h-1v-1h-1v.5h-3v-.5h-2v1h-1v-.5h-1v-.5h-1v1h-2v-1h-3v.5h-1v-.5h-1v2h-1v-1.5h-1v-.5h-1v.5h-2v-.5h-3v.5h-1v.5h-1v.5h-1v-1.5h-1v.5h-2v-.5h-4v.5h-1v.5h-1v-1h-2v.5h-2v-.5h-1v.5h-1v1h-2v-.5h-1v-1h-1v.5h-1v-.5h-1v1.5h-1v-1.5h-3v.5h-1v-.5h-5v.5h-1v-.5h-3v.5h-2v.5h-1v-1h-4v1h-1v-.5h-1v.5h-1v-1h-1v.5h-3v-.5h-5v.5h-1v-.5h-1v.5h-2v-.5h-3v1h-1v-1h-4v1h-3v-.5h-2v.5h-1v-1h-3v2h-1v-2h-5v1h-1v-1h-5v1.5h-1v-1.5h-3v.5h-2v-.5h-1v1h-1v-.5h-1v-.5h-2v.5h-1v-.5h-6v1h-1v-1h-1v.5h-1v1.5h-1v-2h-3v.5h-1v1h-1v-1.5h-3v1h-1v-1h-2v.5h-1v-.5h-2v.5h-1v-.5h-1v1h-1v-1h-3v1h-1v-1h-1v.5h-1v.5h-1v-1h-1v1h-1v-.5h-1v-.5h-4v1h-1v-.5h-2v-.5h-9v.5h-1v-.5h-1v.5h-1v-.5h-7v.5h-1v-.5h-2v.5h-1v-.5h-2v.5h-2v-.5h-6v.5h-1v-.5h-2v2h-1v-2h-3v1h-1v-.5h-1v-.5h-3v.5h-1v-.5h-1v.5h-1v1h-1v-1h-1v.5h-1v-1h-8v.5h-1v-.5h-4v.5h-2v-.5h-4v.5h-1v-.5h-1v.5h-1v-.5h-1v1h-1v.5h-1v-1.5h-2v.5h-2v-.5h-1v.5h-1v-.5h-1v1.5h-1v-1.5h-5v1.5h-1v-1.5h-2v1h-1v-1h-2v1h-1v-1h-1v.5h-1v.5h-1v-.5h-1v-.5h-2v1h-1v-1h-2v1h-1v-1h-3v.5h-1v-.5h-2v.5h-1v-.5h-3v.5h-1v.5h-1v-1h-1v.5h-1v-.5h-2v1.5h-1v-1.5h-3v.5h-1v-.5h-1v1h-2v-.5h-1v-.5h-1v1.5h-1v-1.5h-1v.5h-1v-.5h-3v.5h-2v1h-1v-1.5h-1v1h-1v-1h-1v1.5h-1v-1.5h-1v1h-3v-1h-1v.5h-3v-.5h-3v1h-1v-1h-2v.5h-1v-.5h-1v.5h-1v.5h-1v-1h-2v.5h-2v1.5h-1v-2h-1v1.5h-1v-1.5h-1v.5h-2v-.5h-1v1.5h-2v-1h-1v-.5h-3v1.5h-1v-1.5h-3v.5h-1v-.5h-2v.5h-2v-.5h-1v.5h-1v-.5h-2v.5h-1v-.5h-5v.5h-1v-.5h-5v1.5h-1v-1.5h-2v.5h-3v-.5h-4v1h-1v-.5h-1v.5h-1v-1h-2v.5h-1v-.5h-3v1h-1v-1h-5v.5h-1v-.5h-1v.5h-1v-.5h-3v.5h-1v-.5h-6v.5h-1v1h-1v-1.5h-2v1h-1v.5h-1v-1h-1v-.5h-1v.5h-3v.5h-1v-1h-1v1h-2v-1h-3v.5h-2v1h-1v-1.5h-2v.5h-3v-.5h-5v1.5h-1v-.5h-1v-1h-2v.5h-1v-.5h-2v.5h-1v-.5h-6v.5h-2v1h-1v-1h-2v.5h-1v-.5h-1v-.5h-1v.5h-1v-.5h-5v.5h-1v.5h-1v-1h-5v.5h-1v-.5h-1v1h-2v1h-1v-2h-1v.5h-2v-.5h-3v.5h-1v-.5h-5v.5h-2v1h-1v-1.5h-5v.5h-1v-.5h-1z"/><path id="nb2" d="M0 0v-3h2v.5h1v-1h1v1h2v-.5h1v.5h2v-1.5h1v1.5h2v-1h1v.5h2v-.5h1v.5h1v.5h6v-1h1v1h1v-.5h1v.5h3v-1h2v-.5h1v1h1v.5h1v-.5h1v-.5h1v.5h1v.5h3v-.5h1v-.5h1v1h1v-.5h1v.5h1v-1h1v1h4v-.5h1v.5h2v-.5h1v.5h13v-.5h2v.5h2v-.5h1v.5h1v-.5h1v.5h3v-.5h1v-1h1v.5h1v1h1v-.5h1v.5h9v-.5h1v.5h2v-2h1v2h5v-.5h2v.5h1v-.5h3v.5h2v-.5h2v.5h4v-.5h1v.5h4v-1h3v1h1v-.5h1v-.5h1v-.5h1v1h1v-.5h2v1h4v-.5h1v-.5h1v.5h2v.5h1v-.5h1v.5h1v-.5h1v.5h1v-2h1v2h2v-.5h1v.5h6v-.5h1v.5h5v-.5h1v.5h2v-.5h1v.5h3v-.5h1v-1h1v1h1v.5h2v-.5h1v.5h2v-.5h1v.5h1v-.5h1v.5h1v-.5h1v.5h3v-.5h1v.5h1v-2h2v2h3v-.5h1v-.5h1v.5h2v.5h8v-1h1v1h5v-.5h1v.5h4v-.5h1v.5h1v-.5h1v.5h1v-.5h1v-.5h2v1h2v-.5h1v.5h2v-.5h2v.5h1v-.5h1v.5h4v-.5h1v.5h5v-.5h2v.5h1v-.5h1v.5h1v-.5h3v.5h3v-.5h2v.5h6v-.5h1v-.5h1v1h1v-.5h2v-1.5h1v1.5h1v.5h2v-1h1v.5h1v.5h4v-.5h1v.5h2v-1h1v.5h1v.5h1v-1h1v1h1v-.5h1v.5h3v-.5h1v.5h1v-.5h2v.5h2v-.5h1v.5h1v-.5h2v.5h1v-.5h1v.5h2v-.5h2v.5h1v-.5h1v.5h2v-.5h5v-.5h1v.5h1v.5h1v-.5h1v.5h4v-.5h1v.5h8v-.5h1v.5h2v-.5h1v.5h2v-.5h1v.5h1v-1h1v.5h1v.5h1v-.5h1v.5h1v-1h1v1h6v-.5h1v.5h2v-.5h1v.5h1v-.5h1v-1h1v.5h1v1h1v-.5h1v-.5h1v1h4v-1h1v-.5h1v1.5h4v-1h1v1h1v-.5h1v.5h2v-.5h1v.5h2v-1.5h1v1h2v-1h1v.5h1v.5h1v-1h1v1.5h1v-2h1v2h6v-.5h2v.5h2v-.5h2v.5h2v-.5h1v.5h1v-.5h1v-.5h1v1h1v-.5h2v.5h3v-1.5h1v1.5h1v-.5h1v.5h2v-.5h1v.5h1v-1.5h1v1.5h1v-1.5h1v1.5h3v-1h1v1h3v-.5h1v.5h1v-1h1v1h1v-1h1v1h1v-1h2v-1h1v2h2v-.5h1v.5h1v-.5h1v-.5h1v1h7v-.5h1v-1h1v1.5h1v-1h1v-.5h1v1.5h1v-.5h2v.5h1v-2h1v1.5h2v.5h3v-.5h1v-.5h1v.5h1v.5h1v-.5h1v.5h1v-.5h2v.5h7v-1h1v1h1v-.5h2v-1h1v1.5h1v-.5h1v.5h3v-1h1v-1h1v1h1v1h2v-.5h2v.5h3v-1h1v1h5v-1h1v.5h1v.5h2v-.5h1v.5h1v-2h1v2h4v-.5h1v-1h1v1.5h3v-.5h3v-.5h2v.5h1v.5h1v-.5h1v.5h1v-1h1v1h2v-.5h1v.5h3v-1h1v.5h2v-.5h2v1h3v-.5h1v.5h6v-.5h1v-.5h1v.5h2v-.5h2v1h5v-.5h1v.5h5v-.5h1v.5h4v-.5h2v.5h2v-1h1v1h1v-.5h1v.5h1v-1h1v-.5h1v1.5h2v-.5h1v.5h1v-.5h2v.5h13v-.5h1v-1h1v1.5h2v-1h1v.5h1v.5h3v-.5h1v.5h5v-.5h1v.5h2v-.5h1v.5h6v-.5h1v.5h1v-.5h1v.5h1v-.5h2v.5h2v-.5h1v.5h3v-.5h1v.5h8v-.5h1v.5h2v-.5h1v.5h2v-.5h1v.5h2v-.5h1v.5h4v-.5h2v.5h1v-.5h2v.5h2v-.5h1v.5h4v-.5h3v.5h2v-.5h1v.5h2v-.5h1v.5h2v-2h1v1.5h1v.5h1v-.5h1v.5h2v-.5h1v.5h2v-.5h3v.5h1v-.5h1v.5h3v-.5h1v-1h1v1.5h1v-.5h2v.5h1v-1h2v1h2v-.5h1v.5h4v-.5h1v.5h1v-.5h1v.5h7v-.5h1v.5h1v-.5h3v.5h1v-.5h2v.5h1v-.5h1v-.5h1v1h1v-.5h1v.5h2v-.5h1v.5h2v-2h1v2h1v-1h1v1h3v-1h2v1h1v-.5h1v.5h1v-.5h1v.5h2v-.5h1v.5h1v-1h1v.5h1v.5h1v-1h1v.5h2v.5h2v-1h1v.5h2v.5h3v-.5h1v-1h1v1.5h3v-.5h1v.5h2v-1.5h1v1h1v.5h4v-.5h2v.5h2v-.5h1v-.5h1v.5h1v.5h3v-1.5h1v1.5h1v-.5h1v.5h2v-.5h1v-.5h1v1h7v-.5h2v.5h3v-.5h2v.5h4v-.5h1v-.5h1v-1h1v1h1v1h3v-1.5h1v1.5h1v-.5h1v.5h1v-1h1v1h4v-.5h2v.5h3v-1h1v1h2v-.5h1v-.5h1v.5h1v.5h8v-1.5h1v1.5h9v-.5h1v.5h1v-.5h1v.5h2v-.5h1v.5h1v-.5h1v.5h1v-.5h1v.5h1v-.5h1v.5h3v-1h1v1h8v-.5h1v.5h5v-.5h1v.5h2v-.5h1v.5h1v-.5h1v.5h2v-.5h1v.5h6v-.5h1v.5h4v-.5h2v-.5h1v1h2v-1.5h1v1.5h3v-1h1v1h2v-.5h1v-.5h1v1h6v-.5h2v-1h1v1h1v.5h2v-1h1v1h2v-.5h1v.5h2v-.5h1v.5h2v-.5h1v.5h7v-.5h1v.5h1v-.5h1v-.5h1v1h6v-.5h1v.5h4v-1h1v1h1v-.5h2v.5h1v-2h1v1.5h1v.5h1v-2h1v2h1v-.5h1v.5h9v-.5h1v-.5h1v1h1v-.5h1v.5h2v-.5h1v.5h1v-.5h5v.5h9v-.5h3v.5h3v-.5h1v.5h4v-1h1v1h3v-.5h1v.5h3v-.5h2v.5h3v-.5h1v.5h2v-1h1v1h2v-1h1v1h2v-1h1v1h4v-.5h3v.5h2v-2h1v1.5h1v.5h1v-.5h1v-1h1v1.5h1v-.5h1v.5h1v-.5h1v.5h2v-.5h1v.5h1v-.5h1v.5h2v-.5h1v.5h2v-.5h2v.5h2v-1h2v1h1v-.5h2v.5h3v-.5h1v.5h2v-1h1v.5h2v.5h3v-.5h1v.5h1v-.5h1v.5h1v-.5h1v.5h2v-1h1v1h7v-.5h1v.5h3v-.5h1v.5h8v-.5h2v.5h5v-.5h2v.5h1v-.5h2v.5h1v-.5h1v.5h2v-.5h1v.5h1v-1.5h1v1.5h5v-.5h1v-.5h1v1h1v-.5h1v.5h8v-1.5h1v.5h1v1h2v-.5h1v-.5h1v1h2v-1h1v.5h1v.5h2v-2h1v1.5h1v.5h7v-.5h1v.5h1v-.5h1v.5h1v-.5h1v-1h2v1.5h1v-.5h1v.5h2v-1h1v1h5v-1h1v1h4v-.5h2v.5h5v-.5h1v.5h2v-.5h3v.5h1v-.5h2v.5h4v-.5h1v.5h6v-.5h1v.5h10v-.5h1v.5h3v-1h1v1h1v-.5h1v.5h1v-.5h1v-1.5h1v1h1v1h1v-1h2v1h1v-.5h1v.5h1v-.5h1v-1h1v1h1v-.5h3v.5h1v.5h2v-2h1v2h3v-2h1v2h1v-.5h1v.5h1v-1h2v-.5h1v1h1v-1.5h1v1h1v.5h2v.5h4v-.5h1v.5h5v-.5h1v.5h5v-1h1v.5h1v.5h1v-2h1v1.5h2v.5h1v-1h1v.5h1v.5h1v-1.5h1v1h1v.5h1v-.5h2v-.5h1v1h2v-.5h1v.5h1v-2h1v1h2v1h2v-.5h1v.5h1v-1.5h1v1.5h1v-1.5h2v1.5h1v-.5h1v-1.5h1v2h1v-.5h1v.5h1v-.5h1v-.5h1v-.5h1v.5h1v-.5h1v1h1v.5h4v-.5h2v.5h1v-1.5h1v1h1v.5h2v-.5h1v.5h2v-1h2v1h2v-.5h1v.5h3v-.5h1v-1h1v1.5h4v-.5h1v-.5h1v1h8v-.5h1v-.5h1v1h3v-1h1v1h2v-.5h2v.5h1v-.5h1v.5h3v-2h1v1.5h1v-.5h1v1h2v-.5h2v.5h4v-.5h1v.5h3v-1h1v1h1v-.5h1v.5h4v-.5h1v.5h1v-.5h1v.5h2v-.5h2v.5h1v-.5h2v.5h1v-.5h1v.5h1v-1h1v1h1v-.5h1v.5h4v-.5h2v.5h10v-.5h1v.5h4v-.5h1v.5h1v5h-3v1.5h-1v-1.5h-3v1h-1v-1h-2v.5h-1v-.5h-3v.5h-1v-.5h-2v.5h-2v1.5h-1v-2h-1v1h-1v-1h-3v.5h-1v-.5h-2v.5h-3v-.5h-6v1h-1v-1h-1v.5h-3v-.5h-3v.5h-1v-.5h-6v.5h-2v.5h-1v-1h-1v.5h-1v-.5h-5v.5h-1v-.5h-1v.5h-1v-.5h-1v1h-1v-.5h-1v1.5h-1v-1.5h-1v-.5h-1v.5h-2v1h-1v-1h-1v-.5h-1v.5h-2v-.5h-4v1h-1v1h-1v-2h-5v1h-1v-1h-1v.5h-1v-.5h-1v.5h-1v-.5h-7v.5h-1v-.5h-1v1h-1v-1h-2v.5h-2v-.5h-1v.5h-1v-.5h-1v1.5h-1v-1.5h-1v1.5h-1v-1.5h-3v.5h-1v-.5h-3v.5h-2v-.5h-2v.5h-2v1h-1v-.5h-1v-1h-1v.5h-1v-.5h-2v1.5h-1v-1.5h-1v.5h-1v.5h-1v-.5h-2v-.5h-7v.5h-1v-.5h-9v.5h-1v.5h-1v-1h-4v.5h-1v-.5h-1v.5h-1v-.5h-1v.5h-1v-.5h-2v.5h-1v-.5h-2v.5h-1v-.5h-4v1h-1v-1h-1v.5h-1v-.5h-3v.5h-1v-.5h-3v.5h-1v-.5h-1v.5h-2v.5h-1v-.5h-1v-.5h-4v.5h-1v1h-1v-1h-1v-.5h-2v.5h-1v-.5h-12v.5h-2v1.5h-1v-2h-2v.5h-1v-.5h-2v.5h-1v-.5h-2v.5h-1v-.5h-6v.5h-2v-.5h-6v.5h-1v-.5h-1v1h-1v-1h-9v.5h-1v-.5h-2v.5h-1v-.5h-2v1h-1v-.5h-1v-.5h-3v.5h-1v1h-1v-1.5h-1v1h-1v-1h-2v1h-2v-.5h-1v.5h-1v-1h-2v2h-1v-1h-1v-1h-2v.5h-1v.5h-2v-.5h-1v-.5h-1v.5h-1v-.5h-1v.5h-2v-.5h-6v.5h-1v-.5h-3v1h-1v-1h-1v.5h-1v.5h-1v-.5h-1v-.5h-1v.5h-1v-.5h-2v1h-1v-1h-2v1h-1v-.5h-1v1h-1v-1.5h-1v1h-1v-1h-2v.5h-2v1h-1v-1.5h-1v2h-1v-2h-5v.5h-2v1h-1v-.5h-1v-1h-1v.5h-1v-.5h-1v1h-1v-.5h-1v-.5h-3v.5h-1v-.5h-2v.5h-1v-.5h-2v.5h-1v.5h-1v-.5h-1v-.5h-2v1h-1v-1h-8v.5h-1v-.5h-1v1h-1v-1h-2v.5h-1v-.5h-2v.5h-1v-.5h-3v.5h-1v-.5h-4v.5h-1v1h-1v-1.5h-5v.5h-4v-.5h-4v1.5h-1v-1.5h-5v2h-1v-1.5h-1v-.5h-1v.5h-1v-.5h-3v.5h-1v-.5h-10v.5h-1v-.5h-2v.5h-2v-.5h-2v.5h-1v-.5h-1v.5h-1v-.5h-1v1h-1v-1h-1v1h-1v-1h-1v.5h-1v-.5h-3v.5h-1v-.5h-3v1.5h-1v-1h-2v-.5h-1v.5h-2v-.5h-3v.5h-1v-.5h-1v.5h-1v-.5h-1v.5h-1v-.5h-2v.5h-1v-.5h-1v.5h-1v-.5h-1v.5h-1v-.5h-2v.5h-2v-.5h-1v.5h-1v.5h-1v-1h-6v.5h-3v-.5h-2v1.5h-1v-1.5h-8v.5h-1v-.5h-3v.5h-1v.5h-1v-1h-1v2h-1v-1h-1v-.5h-2v-.5h-3v.5h-1v-.5h-1v2h-1v-2h-1v.5h-2v-.5h-1v1.5h-1v-1h-1v-.5h-1v1h-1v-1h-1v.5h-1v.5h-1v-1h-1v1.5h-1v-1.5h-5v.5h-2v-.5h-1v.5h-1v-.5h-1v1h-1v-1h-3v1h-1v-.5h-2v-.5h-1v1h-2v-1h-1v1h-1v-1h-2v.5h-1v.5h-1v1h-1v-1.5h-1v.5h-1v-.5h-1v-.5h-2v.5h-1v-.5h-2v.5h-2v-.5h-1v.5h-2v-.5h-1v.5h-2v-.5h-1v1h-1v-.5h-1v-.5h-3v1h-1v-1h-2v.5h-2v.5h-1v-1h-3v1h-1v.5h-1v-1.5h-2v1h-1v-1h-2v.5h-1v-.5h-2v1h-1v-.5h-1v1.5h-1v-2h-9v.5h-2v-.5h-2v1h-1v.5h-1v-1.5h-1v.5h-1v-.5h-2v.5h-1v-.5h-1v.5h-1v-.5h-2v.5h-1v-.5h-1v.5h-1v-.5h-1v1h-1v-.5h-1v-.5h-3v1h-1v-.5h-2v.5h-1v-.5h-1v-.5h-5v.5h-1v-.5h-2v.5h-1v-.5h-6v1h-1v-1h-6v.5h-1v-.5h-1v.5h-3v-.5h-1v.5h-1v1h-1v-1.5h-3v.5h-1v-.5h-8v1h-1v-1h-4v.5h-1v-.5h-1v1.5h-1v-1.5h-4v2h-1v-2h-1v.5h-1v-.5h-3v1h-1v-1h-2v.5h-1v-.5h-1v.5h-1v.5h-1v-1h-4v1h-1v-1h-3v.5h-1v.5h-1v-1h-2v1.5h-1v-.5h-1v1h-1v-1.5h-2v-.5h-1v1h-1v-1h-1v2h-1v-2h-1v1h-1v-1h-1v2h-1v-2h-1v1.5h-1v-1.5h-4v1h-1v-1h-1v.5h-1v-.5h-5v.5h-1v1.5h-1v-2h-1v.5h-1v1.5h-1v-1.5h-1v-.5h-2v.5h-1v-.5h-1v.5h-1v1h-1v-1.5h-1v1h-1v-1h-2v.5h-2v-.5h-1v2h-1v-1h-1v1h-1v-2h-2v.5h-1v-.5h-3v.5h-1v.5h-1v-.5h-1v-.5h-2v.5h-1v-.5h-1v.5h-1v1.5h-1v-1h-1v-.5h-1v-.5h-1v.5h-3v-.5h-1v1h-1v-.5h-1v-.5h-6v.5h-1v-.5h-5v.5h-1v-.5h-3v.5h-1v.5h-1v-.5h-2v-.5h-2v.5h-7v-.5h-2v1h-1v-.5h-1v-.5h-3v.5h-3v-.5h-4v1.5h-1v-1.5h-6v.5h-2v1h-1v-.5h-1v-.5h-1v-.5h-3v.5h-1v-.5h-1v.5h-1v-.5h-1v.5h-1v-.5h-1v.5h-1v.5h-1v-1h-3v1h-1v-1h-1v1h-1v-1h-1v1h-3v-1h-1v1h-2v.5h-1v-1.5h-3v.5h-1v-.5h-5v.5h-1v-.5h-3v.5h-2v-.5h-1v.5h-1v-.5h-1v.5h-1v-.5h-1v.5h-2v-.5h-5v.5h-1v-.5h-3v1h-1v-1h-1v.5h-1v-.5h-5v1h-1v-1h-1v1h-1v-1h-1v1h-1v-.5h-1v-.5h-2v.5h-1v-.5h-2v1h-1v-1h-3v.5h-2v-.5h-1v.5h-1v-.5h-1v.5h-1v.5h-1v-.5h-2v-.5h-2v1h-3v-.5h-1v.5h-1v-1h-2v.5h-2v.5h-1v-1h-1v.5h-1v-.5h-9v.5h-2v-.5h-1v.5h-1v-.5h-1v.5h-2v-.5h-13v.5h-1v.5h-1v-.5h-1v-.5h-1v.5h-1v-.5h-2v.5h-3v-.5h-3v.5h-1v-.5h-1v.5h-1v-.5h-2v1h-1v-.5h-1v-.5h-2v2h-1v-1.5h-2v-.5h-3v.5h-1v-.5h-7v.5h-2v-.5h-3v.5h-1v-.5h-4v.5h-1v-.5h-1v1h-1v-1h-6v.5h-1v-.5h-4v.5h-1v-.5h-6v.5h-1v-.5h-2v.5h-1v-.5h-4v1h-1v-.5h-1v-.5h-2v1h-1v-1h-2v.5h-1v-.5h-1v2h-1v-2h-1v.5h-2v1h-1v-1.5h-1v1h-1v-.5h-4v1.5h-2v-1.5h-1v-.5h-1v.5h-1v-.5h-3v.5h-1v-.5h-1v.5h-1v.5h-1v-1h-1v.5h-1v-.5h-1v.5h-2v-.5h-3v.5h-1v-.5h-1v.5h-1v-.5h-1v.5h-2v-.5h-8v.5h-1v-.5h-2v.5h-1v-.5h-1v.5h-3v-.5h-6v.5h-1v-.5h-5v.5h-1v-.5h-2v.5h-1v-.5h-2v.5h-2v-.5h-1v.5h-5v-.5h-2v.5h-1v-.5h-6v.5h-1v1.5h-1v-2h-1v.5h-1v.5h-1v-.5h-2v1h-1v-1h-1v-.5h-5v.5h-1v1h-1v-1.5h-2v1h-1v-1h-2v1h-2v-.5h-3v.5h-1v-1h-1v.5h-2v-.5h-3v.5h-2v-.5h-2v.5h-1v-.5h-4v.5h-2v.5h-1v-1h-2v.5h-1v-.5h-2v1h-1v-.5h-1v-.5h-3v1h-1v-.5h-1v-.5h-2v1.5h-1v-1.5h-4v.5h-5v1h-1v-.5h-1v-1h-1v.5h-1v-.5h-1v.5h-2v.5h-1v-1h-7v.5h-1v-.5h-3v1h-2v-.5h-2v.5h-1v-1h-2v.5h-1v1h-1v-1h-1v-.5h-5v.5h-1v-.5h-2v1h-1v-1h-4v.5h-1v-.5h-2v.5h-1v-.5h-3v.5h-2v-.5h-1v.5h-1v-.5h-3v1h-1v-1h-1v.5h-1v-.5h-5v.5h-2v-.5h-1v.5h-1v-.5h-1v.5h-1v-.5h-3v1h-1v-1h-2v.5h-1v.5h-1v-1h-4v2h-1v-2h-3v.5h-1v-.5h-2v.5h-2v-.5h-1v.5h-1v-.5h-3v.5h-1v.5h-1v-1h-1v.5h-1v-.5h-1v1h-1v-.5h-1v.5h-1v-1h-1v1.5h-1v-.5h-1v-1h-1v.5h-2v.5h-1v-1h-1v.5h-1v-.5h-3v.5h-2v1h-1v-.5h-1v.5h-1v-1.5h-2v.5h-1v1h-1v-1h-2v-.5h-2v.5h-1v-.5h-1v.5h-1v-.5h-4v.5h-2v.5h-1v1h-1v-2h-1v.5h-1v-.5h-4v.5h-1v-.5h-5v.5h-2v-.5h-1v1h-1v-1h-1v1h-1v-.5h-1v1.5h-1v-1.5h-1v-.5h-4v.5h-1v-.5h-3v1.5h-1v-1.5h-3v.5h-1v-.5h-2v1h-1v-1h-3v.5h-1v-.5h-4v.5h-1v-.5h-3v.5h-2v-.5h-1v.5h-1v-.5h-5v.5h-1v-.5h-1v.5h-1v-.5h-3v1h-1v-1h-3v.5h-1v-.5h-1v2h-1v-1h-1v-.5h-2v-.5h-2v1.5h-1v-1h-1v.5h-1v-1h-1v.5h-1v.5h-2v-1h-3v.5h-1v-.5h-1v.5h-1v-.5h-2v.5h-1v-.5h-6v.5h-1v-.5h-2v.5h-2v-.5h-1v.5h-1v-.5h-1v.5h-1v1h-1v-1h-1v.5h-1v.5h-1v-1.5h-1v.5h-2v1.5h-1z"/><path id="nb3" d="M0 0v-2.5h7v-.5h2v.5h1v-1.5h1v1.5h1v-.5h2v.5h1v-.5h1v.5h3v-.5h1v.5h1v-.5h1v-.5h1v1h1v-.5h1v.5h3v-1h1v1h1v-.5h2v-.5h2v1h1v-1.5h1v1.5h2v-1h1v.5h2v.5h1v-1h1v.5h1v-.5h1v-1h1v2h1v-.5h1v-.5h1v1h3v-.5h1v.5h1v-1.5h1v1.5h4v-1h1v1h4v-.5h1v.5h1v-2h1v1.5h1v.5h3v-.5h2v.5h3v-1.5h1v1.5h7v-.5h2v.5h1v-.5h1v.5h2v-1h1v1h1v-.5h2v.5h2v-1h1v.5h1v.5h4v-.5h2v.5h9v-.5h1v.5h1v-.5h1v.5h5v-.5h2v.5h2v-.5h1v.5h1v-.5h1v.5h1v-.5h1v.5h1v-.5h1v.5h2v-.5h1v.5h1v-1h1v.5h1v-1h1v1.5h1v-.5h1v-.5h1v1h1v-1h1v1h1v-.5h1v.5h5v-1h1v.5h1v.5h1v-.5h1v.5h9v-.5h1v.5h2v-1h3v.5h1v.5h2v-.5h1v.5h4v-.5h1v.5h1v-.5h1v.5h6v-.5h1v.5h3v-1h1v.5h1v-.5h1v.5h2v-.5h2v1h2v-.5h1v-1.5h1v1h1v.5h2v.5h2v-.5h2v.5h3v-2h1v1.5h1v.5h1v-.5h1v.5h8v-.5h1v-.5h1v1h2v-1h1v1h2v-.5h2v.5h1v-.5h1v.5h1v-.5h1v.5h1v-1.5h1v1h1v.5h2v-1h1v.5h1v-1h1v1h1v.5h2v-1h1v1h1v-.5h2v.5h1v-1h1v1h1v-.5h1v.5h1v-.5h1v.5h3v-1h2v.5h1v.5h1v-.5h2v-.5h2v1h4v-.5h1v.5h2v-.5h2v.5h7v-1.5h1v1h2v.5h3v-.5h1v.5h2v-.5h1v-1.5h1v2h7v-.5h2v.5h1v-.5h1v.5h1v-.5h1v.5h3v-.5h2v.5h1v-.5h1v.5h1v-.5h1v-.5h1v1h2v-.5h1v.5h1v-2h1v2h2v-1.5h1v1h3v.5h6v-1h1v.5h1v.5h4v-1.5h1v1.5h2v-1h2v1h2v-.5h1v.5h1v-.5h1v.5h2v-.5h1v.5h4v-.5h1v.5h1v-1h1v1h5v-.5h1v.5h3v-.5h1v.5h1v-.5h2v.5h1v-.5h1v.5h4v-.5h2v.5h1v-.5h1v-.5h1v1h6v-.5h1v-1.5h1v2h6v-2h1v2h5v-.5h1v.5h1v-.5h1v-.5h1v1h1v-.5h1v.5h6v-.5h1v.5h6v-1h1v1h8v-.5h1v.5h2v-.5h1v.5h2v-.5h1v.5h1v-.5h3v.5h1v-1h1v1h4v-.5h1v.5h1v-.5h1v.5h5v-1.5h1v1h1v.5h2v-.5h1v.5h4v-1.5h1v1.5h5v-.5h1v.5h2v-.5h1v.5h1v-1h1v.5h1v.5h1v-.5h1v.5h2v-1.5h1v1h1v.5h1v-1.5h1v.5h1v.5h2v-.5h1v.5h1v.5h1v-1h1v1h5v-1.5h1v1.5h1v-.5h1v.5h1v-1h1v1h5v-.5h1v.5h2v-1.5h1v1.5h2v-.5h1v.5h1v-.5h1v-1h1v.5h1v1h1v-.5h3v-1.5h1v2h1v-.5h1v.5h5v-1.5h1v1h1v.5h1v-.5h3v.5h2v-1h1v1h1v-.5h1v.5h2v-1.5h1v1.5h1v-.5h1v-.5h1v.5h3v.5h1v-1h1v1h2v-.5h1v.5h1v-1h1v.5h1v-1h1v1h1v-.5h1v1h3v-.5h3v.5h1v-.5h2v-.5h2v1h2v-.5h1v.5h1v-.5h1v.5h3v-.5h1v.5h2v-.5h1v.5h1v-.5h1v.5h9v-.5h1v.5h2v-.5h1v.5h2v-1h1v.5h1v.5h2v-.5h1v.5h4v-1h1v.5h1v-.5h1v1h2v-.5h2v.5h5v-.5h1v.5h3v-1h1v.5h1v.5h1v-1h1v1h1v-.5h1v.5h1v-1.5h1v.5h1v.5h1v.5h1v-1h2v.5h1v-.5h1v1h2v-.5h1v.5h2v-.5h1v.5h1v-.5h2v-.5h1v.5h1v-.5h1v1h2v-.5h1v.5h5v-.5h1v.5h1v-.5h1v-.5h1v1h3v-.5h1v.5h1v-1h1v.5h1v.5h5v-1h1v1h1v-.5h1v-1.5h1v1.5h3v.5h2v-.5h1v.5h1v-.5h3v.5h2v-.5h2v-.5h1v.5h1v.5h3v-1.5h1v1h1v-.5h2v.5h1v.5h3v-.5h2v.5h2v-1.5h1v1h1v.5h1v-.5h1v.5h2v-1h2v-.5h1v1.5h2v-.5h1v.5h1v-.5h2v-.5h1v-.5h1v1h1v.5h1v-1.5h1v1.5h4v-.5h2v.5h1v-.5h1v.5h2v-.5h1v.5h1v-.5h1v.5h3v-.5h1v-.5h2v1h3v-1h1v1h2v-.5h1v.5h5v-.5h1v.5h2v-.5h1v.5h3v-.5h1v-.5h1v1h4v-1h1v1h3v-2h2v2h2v-.5h1v-1h1v1.5h1v-1h1v1h3v-1h1v-.5h1v1.5h2v-.5h1v.5h2v-1h1v1h2v-.5h1v.5h1v-1h1v1h4v-1h2v.5h1v-1h1v1.5h2v-.5h1v.5h1v-1h1v1h3v-1h1v1h5v-.5h1v.5h1v-1h1v1h1v-.5h1v-.5h1v1h3v-.5h1v.5h3v-1h1v1h5v-1h5v1h2v-1h1v.5h1v.5h4v-1h1v1h4v-1h1v1h3v-.5h1v.5h3v-.5h1v.5h2v-.5h2v.5h4v-1h1v1h2v-1h1v1h2v-2h1v2h4v-1.5h1v1h1v.5h2v-.5h2v.5h1v-.5h1v.5h2v-1h2v1h1v-.5h1v.5h2v-.5h1v-1h1v1.5h1v-2h1v1h1v-1h2v2h1v-.5h1v.5h2v-.5h1v.5h1v-2h1v2h9v-1h1v1h1v-1h1v1h1v-.5h1v.5h2v-.5h1v-.5h1v.5h1v-1h1v.5h1v-1h1v1.5h1v.5h2v-1h2v1h1v-.5h1v.5h2v-1h1v1h1v-.5h1v.5h3v-.5h1v.5h3v-.5h1v.5h1v-.5h2v-.5h1v.5h2v.5h4v-1.5h1v1h1v.5h7v-.5h1v.5h1v-.5h1v-1h1v1h1v-.5h1v1h1v-1h1v.5h1v.5h1v-.5h1v.5h1v-.5h1v.5h2v-.5h1v.5h2v-.5h2v.5h4v-1h1v1h1v-1.5h1v1.5h1v-.5h5v.5h1v-1h1v1h2v-.5h1v.5h2v-.5h2v.5h1v-1h1v1h1v-.5h1v.5h1v-1.5h1v1.5h2v-.5h1v.5h1v-.5h1v.5h1v-.5h2v-.5h1v1h1v-1h1v.5h1v.5h2v-2h1v2h4v-.5h1v.5h1v-1.5h1v.5h1v1h5v-.5h2v-1.5h1v1.5h2v.5h2v-2h1v1.5h4v.5h2v-.5h2v.5h4v-.5h2v.5h1v-.5h1v.5h1v-1h1v1h5v-.5h1v-1h1v1.5h5v-.5h1v.5h3v-.5h1v-1h1v1.5h1v-.5h2v-.5h1v.5h1v.5h1v-1h1v.5h1v-.5h1v1h1v-1h1v.5h2v-1.5h1v1h1v1h1v-1h1v1h1v-.5h1v.5h3v-2h1v2h4v-.5h1v-.5h1v1h1v-.5h2v.5h1v-1h1v-.5h1v1h1v.5h2v-1h1v1h2v-.5h2v.5h1v-.5h1v.5h1v-.5h1v.5h5v-.5h2v-1.5h2v1h1v.5h2v.5h1v-.5h2v.5h1v-1.5h1v1.5h1v-.5h3v.5h2v-1h2v1h1v-.5h1v.5h1v-1h1v.5h1v.5h8v-.5h2v.5h2v-.5h2v.5h1v-2h1v2h2v-.5h1v.5h3v-.5h1v.5h6v-.5h2v.5h12v-1h1v1h1v-1h1v1h1v-1.5h1v1h1v.5h9v-.5h1v-1h1v1.5h2v-.5h2v.5h1v-.5h2v.5h1v-1h1v.5h1v.5h3v-.5h2v.5h4v-2h1v2h1v-.5h1v-.5h2v1h1v-1h2v1h1v-2h1v1.5h2v-1h1v1.5h1v-.5h1v.5h2v-.5h1v.5h2v-1h1v1h1v-.5h2v-.5h1v.5h2v.5h2v-1.5h2v1.5h1v-.5h3v.5h1v-1.5h1v1h1v.5h1v-1h1v1h1v-.5h1v.5h2v-1h2v1h1v-1h1v.5h1v.5h4v-2h1v1h1v1h2v-.5h1v.5h1v-.5h1v.5h2v-1h1v1h1v-.5h1v.5h1v-1h1v.5h1v.5h1v-.5h2v-.5h1v.5h1v-1.5h1v2h1v-1h1v1h1v-.5h2v.5h1v-1h2v1h2v-.5h1v-.5h1v-.5h1v1.5h4v-.5h2v.5h5v-.5h1v.5h3v-.5h1v-1h1v1.5h1v-.5h2v.5h3v-.5h1v.5h2v-.5h1v-.5h1v.5h1v.5h5v-1h1v1h3v-.5h1v.5h6v-1h1v1h3v-1h1v1h1v-1h1v1h1v-1h1v1h1v-.5h1v.5h2v-.5h1v.5h8v-.5h1v-1h1v1.5h1v-2h1v2h1v-1h1v1h1v-.5h1v-.5h1v.5h1v.5h1v-.5h1v.5h2v-1h1v1h3v-.5h1v-.5h1v1h2v-1h1v1h1v-.5h1v.5h2v-.5h1v.5h3v-1h1v.5h1v.5h6v-.5h1v.5h1v-.5h1v.5h1v-1h1v6h-2v.5h-3v-.5h-1v.5h-1v-.5h-2v.5h-1v1.5h-1v-1.5h-1v1.5h-1v-1.5h-1v-.5h-3v1.5h-1v-.5h-1v-1h-1v.5h-1v-.5h-2v.5h-3v-.5h-4v1h-1v1h-1v-2h-1v1h-1v-.5h-1v-.5h-1v.5h-3v-.5h-1v.5h-1v-.5h-2v1.5h-1v-1.5h-1v2h-1v-1h-1v.5h-1v-1.5h-1v1h-1v.5h-1v.5h-1v-1.5h-1v-.5h-2v1h-2v-.5h-2v-.5h-2v1h-1v-.5h-3v-.5h-2v.5h-2v-.5h-2v1h-1v-.5h-1v-.5h-3v1h-1v.5h-1v-1.5h-2v1h-1v-.5h-3v-.5h-1v.5h-2v-.5h-3v.5h-2v-.5h-2v.5h-1v-.5h-4v1h-1v-.5h-1v-.5h-2v.5h-2v-.5h-6v.5h-1v-.5h-2v1h-1v-1h-8v.5h-2v-.5h-13v.5h-1v-.5h-7v.5h-1v-.5h-7v.5h-2v.5h-1v-1h-1v.5h-2v-.5h-2v.5h-1v.5h-1v-1h-5v.5h-3v.5h-2v-1h-2v.5h-1v-.5h-1v.5h-1v-.5h-5v.5h-1v-.5h-1v.5h-1v-.5h-1v2h-1v-2h-2v.5h-1v-.5h-1v.5h-3v-.5h-7v.5h-3v-.5h-4v.5h-1v.5h-1v-1h-6v.5h-2v.5h-1v-.5h-1v-.5h-1v.5h-1v.5h-1v-1h-2v.5h-2v-.5h-1v1h-1v-1h-4v.5h-1v-.5h-1v.5h-5v.5h-1v1h-1v-2h-4v1h-1v-1h-3v.5h-2v-.5h-2v.5h-1v-.5h-5v.5h-1v-.5h-3v.5h-1v-.5h-3v1h-1v-1h-2v.5h-1v-.5h-8v.5h-1v.5h-1v.5h-1v-1.5h-1v1.5h-1v-1h-1v-.5h-1v.5h-3v-.5h-1v.5h-1v-.5h-5v.5h-3v.5h-1v-1h-1v.5h-2v-.5h-2v.5h-1v-.5h-1v.5h-1v-.5h-1v.5h-1v1.5h-1v-1.5h-2v-.5h-5v.5h-1v.5h-1v-1h-6v.5h-2v-.5h-6v.5h-1v-.5h-4v.5h-3v-.5h-5v1h-1v-.5h-1v-.5h-5v.5h-1v-.5h-2v.5h-1v-.5h-2v.5h-1v-.5h-2v.5h-1v-.5h-1v.5h-3v-.5h-2v.5h-1v1h-1v-1h-1v-.5h-1v.5h-1v-.5h-1v.5h-1v-.5h-2v1h-1v1h-1v-2h-2v.5h-1v-.5h-4v.5h-3v-.5h-1v.5h-1v-.5h-3v.5h-1v-.5h-3v1h-1v-1h-1v.5h-1v-.5h-5v.5h-1v-.5h-4v.5h-1v-.5h-1v.5h-2v-.5h-5v.5h-2v.5h-1v-1h-4v1h-1v-1h-1v.5h-1v-.5h-3v2h-1v-2h-1v.5h-1v.5h-1v-1h-3v1h-1v-1h-1v1h-1v.5h-1v-1.5h-1v1.5h-1v-1.5h-2v1h-1v-1h-4v1h-1v-1h-4v.5h-1v-.5h-13v.5h-2v-.5h-5v.5h-2v-.5h-1v.5h-1v-.5h-1v.5h-1v-.5h-3v.5h-2v-.5h-2v2h-1v-2h-1v1h-1v1h-1v-.5h-1v-1h-1v1.5h-1v-2h-2v1.5h-1v-1.5h-3v.5h-1v-.5h-2v1h-3v-1h-1v.5h-1v-.5h-1v1h-1v-1h-1v.5h-1v-.5h-2v.5h-1v-.5h-3v.5h-1v-.5h-6v.5h-1v-.5h-1v.5h-1v-.5h-2v1h-1v-1h-3v1h-1v-1h-2v.5h-1v-.5h-2v1h-1v-.5h-1v-.5h-2v1h-1v-1h-3v.5h-1v-.5h-9v1h-2v-1h-4v.5h-1v-.5h-1v.5h-1v-.5h-2v.5h-1v-.5h-4v.5h-1v-.5h-1v.5h-1v-.5h-4v1h-1v-1h-2v.5h-1v-.5h-1v1h-1v-.5h-2v-.5h-2v.5h-1v.5h-1v-1h-2v.5h-1v-.5h-2v.5h-2v-.5h-2v.5h-1v-.5h-10v.5h-1v-.5h-1v.5h-1v-.5h-1v.5h-1v-.5h-2v.5h-1v-.5h-1v.5h-2v-.5h-3v.5h-1v-.5h-1v.5h-1v-.5h-6v.5h-2v-.5h-2v.5h-1v-.5h-7v2h-1v-2h-3v.5h-1v-.5h-1v.5h-5v-.5h-10v.5h-1v-.5h-2v.5h-3v-.5h-2v.5h-1v-.5h-3v1h-2v-1h-1v.5h-1v-.5h-7v.5h-1v1h-1v-1h-1v1.5h-1v-2h-7v.5h-1v-.5h-3v.5h-2v-.5h-15v1h-1v-.5h-2v-.5h-5v.5h-2v-.5h-12v.5h-1v-.5h-7v.5h-1v-.5h-9v.5h-2v.5h-1v-1h-1v.5h-1v-.5h-5v2h-1v-2h-1v.5h-4v-.5h-2v1h-1v-.5h-1v-.5h-3v1.5h-1v-1.5h-1v.5h-1v-.5h-4v.5h-1v1h-1v-1h-1v1h-1v-1.5h-4v1h-1v-1h-5v.5h-1v-.5h-5v.5h-1v-.5h-9v.5h-1v-.5h-2v1h-1v.5h-1v-1h-1v-.5h-9v1h-1v-1h-2v.5h-1v-.5h-1v.5h-2v-.5h-4v1h-1v-1h-3v1h-1v-1h-1v.5h-1v-.5h-5v1.5h-1v-1h-1v-.5h-1v.5h-1v.5h-1v-1h-4v.5h-2v.5h-1v-.5h-1v.5h-1v-.5h-1v-.5h-3v1h-1v-.5h-1v-.5h-1v.5h-1v-.5h-2v.5h-1v-.5h-2v.5h-2v-.5h-1v.5h-1v1h-1v-1.5h-8v.5h-2v-.5h-2v1.5h-1v-1.5h-3v2h-1v-1.5h-1v-.5h-1v2h-1v-1.5h-1v-.5h-2v.5h-1v-.5h-1v.5h-2v-.5h-1v1.5h-1v-1.5h-4v.5h-1v-.5h-2v.5h-2v-.5h-1v.5h-1v-.5h-4v1h-1v-1h-9v.5h-2v-.5h-3v.5h-1v-.5h-4v.5h-1v.5h-1v-.5h-2v-.5h-5v.5h-1v-.5h-2v.5h-1v-.5h-3v.5h-1v-.5h-1v.5h-1v-.5h-3v.5h-2v-.5h-1v.5h-1v-.5h-1v.5h-1v-.5h-1v.5h-1v-.5h-4v.5h-2v-.5h-1v.5h-1v-.5h-3v.5h-1v-.5h-3v.5h-1v-.5h-2v1h-1v-1h-2v1.5h-1v-1.5h-3v.5h-1v-.5h-4v.5h-1v-.5h-5v.5h-1v-.5h-8v.5h-1v-.5h-1v2h-1v-.5h-1v-.5h-1v-.5h-2v-.5h-1v1h-1v-.5h-1v-.5h-1v1h-1v-1h-2v2h-1v-1.5h-1v-.5h-2v1h-1v-.5h-1v-.5h-1v1.5h-1v-1.5h-1v1h-1v-.5h-1v-.5h-2v.5h-1v.5h-2v-1h-1v.5h-1v-.5h-3v.5h-1v-.5h-5v.5h-1v-.5h-7v.5h-1v-.5h-1v.5h-1v-.5h-1v.5h-1v-.5h-13v.5h-1v-.5h-1v.5h-1v-.5h-5v.5h-1v-.5h-3v1.5h-1v-1.5h-8v1.5h-1v-1h-1v-.5h-4v1.5h-1v-1.5h-3v1.5h-1v-.5h-1v-1h-1v1h-2v-1h-4v.5h-2v-.5h-1v1.5h-1v-1h-2v-.5h-2v.5h-1v-.5h-3v.5h-5v1.5h-1v-2h-1v.5h-1v-.5h-2v.5h-1v-.5h-6v1.5h-1v-1h-1v-.5h-6v.5h-1v-.5h-1v.5h-1v-.5h-7v1h-1v-1h-1v.5h-1v-.5h-3v.5h-1v-.5h-3v.5h-2v-.5h-4v1h-1v-1h-5v.5h-2v.5h-1v-1h-1v.5h-1v-.5h-2v1h-1v-1h-1v.5h-1v-.5h-2v1h-3v-.5h-1v-.5h-3v.5h-1v-.5h-3v.5h-1v.5h-1v-1h-1v.5h-2v-.5h-1v.5h-1v.5h-2v-1h-1v1h-2v-1h-1v.5h-1v-.5h-3v.5h-2v-.5h-1v.5h-1v-.5h-1v.5h-1v.5h-1v-.5h-1v-.5h-2v.5h-2v.5h-1v-.5h-1v1h-1v-1.5h-4v1.5h-1v-.5h-1v-.5h-1v-.5h-4v.5h-1v-.5h-1v.5h-1v-.5h-6v.5h-2v.5h-1v-.5h-1v.5h-1v-1h-3v1.5h-1v-1.5h-2v.5h-2v-.5h-1v.5h-1v-.5h-3v.5h-1v-.5h-2v1h-1v-.5h-1v-.5h-1v1h-2v-.5h-2v-.5h-1v2h-1v-2h-1v1.5h-1v-1.5h-1v1.5h-2v-.5h-1v-1h-2v1h-3v-1h-2v.5h-1v.5h-1v.5h-1v-1.5h-1v.5h-1v1h-2v-1.5h-2v.5h-1v1h-1v-1h-2v.5h-1v-1h-6v.5h-2v-.5h-1v.5h-1v.5h-1v-.5h-2v-.5h-2v.5h-1v.5h-2v1h-1v-2h-2v.5h-1v-.5h-9v.5h-4v-.5h-3v.5h-3v-.5h-2v.5h-2v-.5h-4v.5h-1v-.5h-2v.5h-1v-.5h-1v.5h-1v-.5h-2v.5h-1v-.5h-4v.5h-1v-.5h-6v.5h-1v.5h-1v-1h-9v.5h-2v-.5h-2v.5h-1v-.5h-2v.5h-1v-.5h-6v1h-1v-1h-1v.5h-2v-.5h-3v.5h-3v-.5h-2v.5h-1v-.5h-1v.5h-1z"/><path id="nb4" d="M0 0v-3.5h1v-.5h1v1.5h3v-.5h1v.5h1v-1.5h2v1.5h5v-.5h6v.5h1v-1.5h1v.5h2v.5h2v.5h1v-.5h1v-.5h1v1h1v-.5h1v.5h4v-.5h1v.5h6v-.5h1v.5h1v-.5h2v.5h3v-.5h1v.5h2v-.5h1v-1h1v.5h1v.5h2v.5h1v-.5h1v.5h1v-1h1v1h1v-.5h1v-.5h2v.5h1v.5h1v-.5h1v-.5h1v1h6v-.5h1v-1h1v1.5h1v-.5h1v-1h1v1.5h2v-.5h1v.5h1v-.5h3v.5h2v-1.5h1v1.5h2v-1h1v1h8v-1h1v.5h1v.5h1v-.5h2v.5h1v-1h1v1h1v-.5h2v.5h2v-1h1v1h3v-2h1v2h1v-1.5h1v1.5h1v-.5h1v.5h2v-.5h1v-.5h1v.5h2v.5h2v-1h1v1h1v-.5h1v.5h1v-.5h3v.5h2v-1h1v1h3v-.5h2v-1.5h1v1.5h1v-.5h1v1h1v-.5h2v-.5h1v1h3v-.5h2v.5h5v-.5h1v.5h4v-.5h1v.5h1v-.5h1v.5h4v-1.5h1v1.5h3v-.5h1v-.5h1v1h2v-.5h1v.5h9v-.5h1v.5h1v-2h1v2h3v-.5h1v.5h3v-.5h2v.5h3v-.5h1v.5h1v-.5h2v-.5h1v1h2v-1h1v.5h1v.5h1v-.5h1v.5h3v-.5h2v.5h1v-.5h2v.5h2v-.5h1v-.5h2v1h4v-1h1v1h4v-.5h2v.5h4v-.5h1v.5h1v-1h1v1h2v-1h1v1h2v-1h1v.5h1v.5h3v-.5h1v-.5h1v.5h5v.5h2v-1.5h1v1.5h1v-.5h1v.5h1v-1h1v1h4v-1.5h1v1.5h1v-.5h1v-.5h1v1h2v-.5h2v.5h2v-1h1v1h1v-1h1v-1h1v2h1v-.5h2v.5h1v-.5h1v.5h2v-1h1v.5h2v.5h1v-.5h2v.5h2v-.5h1v.5h1v-.5h2v-1h1v1h1v.5h1v-.5h1v.5h3v-.5h1v.5h1v-.5h2v.5h2v-.5h4v-.5h1v1h1v-.5h1v.5h4v-.5h1v.5h4v-.5h1v.5h2v-1.5h1v1h1v.5h1v-.5h1v.5h1v-.5h1v.5h4v-.5h1v.5h2v-.5h1v-1h1v1.5h1v-1h1v.5h1v.5h2v-.5h2v-.5h1v1h1v-1h1v.5h2v.5h6v-.5h1v.5h3v-.5h1v-.5h1v1h2v-.5h1v.5h3v-1h1v.5h1v.5h4v-.5h1v.5h3v-.5h1v.5h2v-.5h1v.5h2v-.5h1v.5h1v-.5h1v-1.5h1v2h1v-.5h1v.5h1v-1h1v1h3v-.5h1v-.5h1v1h1v-1h1v1h1v-.5h1v.5h5v-.5h2v-.5h1v1h7v-.5h2v-.5h1v.5h2v.5h11v-.5h2v.5h2v-.5h1v.5h2v-.5h1v-1h1v1h1v.5h1v-1h1v.5h1v.5h2v-1.5h1v1.5h1v-.5h1v.5h1v-.5h1v-1h1v1.5h1v-.5h2v.5h3v-.5h1v.5h1v-.5h1v.5h9v-.5h1v.5h7v-.5h1v.5h3v-.5h1v.5h3v-.5h4v.5h2v-.5h2v.5h3v-1.5h1v1.5h2v-.5h1v.5h5v-.5h1v-.5h1v1h3v-1h1v.5h1v.5h1v-.5h1v.5h4v-.5h2v.5h1v-.5h1v.5h1v-.5h2v.5h5v-.5h1v.5h6v-.5h1v.5h6v-.5h2v.5h2v-.5h1v.5h6v-.5h1v.5h2v-.5h2v-.5h1v1h2v-1h1v1h10v-.5h1v.5h4v-.5h2v.5h2v-.5h1v.5h2v-.5h1v.5h2v-.5h1v.5h3v-.5h1v.5h1v-.5h2v.5h3v-.5h1v.5h2v-.5h1v.5h2v-1h1v.5h1v.5h3v-1h1v.5h2v-1h1v1.5h11v-1h1v1h1v-.5h3v.5h1v-1h1v1h8v-1h1v1h7v-.5h1v.5h4v-.5h1v.5h1v-1h1v-.5h1v1.5h2v-.5h1v.5h6v-1.5h1v1.5h5v-1h1v1h1v-.5h1v-.5h1v.5h1v.5h1v-.5h1v.5h3v-.5h2v.5h4v-.5h2v.5h4v-1h1v1h4v-2h1v1h1v-.5h1v1.5h6v-.5h4v.5h1v-.5h2v.5h2v-.5h3v.5h2v-.5h1v.5h2v-1.5h1v1.5h1v-1h1v1h2v-.5h2v.5h6v-1.5h1v1h2v.5h3v-.5h1v.5h4v-.5h1v.5h1v-.5h2v.5h2v-.5h1v-.5h1v1h8v-1.5h1v1.5h5v-.5h1v.5h1v-.5h1v.5h1v-1h1v-.5h1v1.5h2v-2h1v2h1v-.5h2v.5h1v-.5h1v.5h3v-.5h1v-.5h1v1h1v-.5h2v.5h2v-1h1v1h2v-.5h2v-.5h1v1h4v-1.5h1v1.5h3v-1h1v1h3v-.5h3v.5h2v-2h1v1h1v.5h2v.5h1v-.5h1v.5h3v-2h1v1.5h1v.5h2v-1h1v1h2v-.5h1v-.5h1v1h3v-.5h1v.5h4v-.5h1v.5h1v-.5h1v.5h4v-.5h1v-.5h1v-.5h1v1.5h1v-1.5h2v1.5h1v-.5h1v.5h2v-.5h2v.5h1v-.5h1v.5h1v-1h1v1h2v-1h1v.5h1v.5h3v-.5h1v.5h1v-.5h1v.5h2v-.5h1v.5h2v-.5h1v.5h3v-.5h2v.5h2v-.5h1v-.5h1v1h3v-1h1v1h6v-.5h1v.5h1v-.5h2v.5h1v-.5h2v.5h2v-.5h1v.5h1v-.5h1v.5h5v-.5h1v.5h5v-.5h1v.5h2v-.5h1v.5h9v-.5h1v.5h1v-.5h1v.5h1v-.5h2v.5h2v-.5h1v-.5h1v1h2v-.5h1v-1h1v1.5h2v-.5h1v-.5h1v.5h1v.5h2v-.5h1v.5h1v-2h1v1.5h1v.5h1v-.5h1v.5h1v-.5h3v.5h2v-.5h1v-.5h1v.5h2v.5h10v-.5h2v.5h1v-.5h1v.5h3v-1h1v.5h1v.5h6v-1h1v1h2v-1h1v.5h1v-.5h1v1h3v-1h1v.5h2v.5h1v-.5h2v.5h2v-2h1v1.5h1v.5h1v-1h1v-.5h1v1.5h3v-.5h1v.5h1v-.5h1v-1h1v.5h1v.5h1v-.5h1v.5h1v.5h3v-1.5h1v1.5h1v-.5h1v.5h1v-1.5h1v1.5h1v-.5h1v.5h3v-1h2v1h1v-.5h1v.5h3v-.5h1v.5h2v-1.5h1v1.5h3v-.5h1v-.5h1v1h1v-.5h1v.5h5v-.5h1v-.5h1v1h1v-.5h2v.5h1v-.5h1v-.5h1v1h1v-2h1v2h1v-1.5h1v1.5h4v-1h1v1h5v-.5h1v.5h2v-.5h1v.5h1v-.5h3v.5h1v-1.5h1v1h1v-1.5h1v1.5h1v-.5h1v1h1v-.5h2v.5h11v-.5h1v.5h1v-.5h1v.5h1v-.5h3v.5h1v-.5h1v-1h1v-.5h1v1.5h1v.5h2v-.5h2v.5h6v-.5h1v.5h3v-1h3v.5h2v.5h2v-1h1v.5h1v.5h1v-.5h2v.5h3v-.5h1v.5h1v-.5h1v.5h2v-1.5h1v1.5h2v-.5h1v-.5h1v1h4v-1h1v.5h1v.5h1v-1.5h1v1.5h4v-1h1v1h1v-.5h1v-.5h1v1h2v-.5h1v-.5h1v.5h1v.5h1v-.5h1v.5h1v-.5h1v.5h3v-2h1v1h1v1h3v-.5h1v-1h1v1h2v.5h1v-.5h1v-.5h1v.5h2v.5h1v-1h1v1h1v-.5h1v.5h1v-.5h1v.5h4v-.5h2v-1.5h1v.5h1v1.5h1v-1h1v-1h1v2h1v-.5h1v-1h1v1.5h1v-.5h1v.5h1v-.5h1v-.5h1v1h1v-2h1v2h2v-1.5h1v1h1v.5h1v-.5h3v-.5h2v1h1v-1h1v.5h1v-1h2v1.5h1v-.5h1v.5h1v-1h2v1h1v-.5h2v.5h1v-.5h1v.5h4v-1h2v1h1v-1h1v1h1v-1h1v1h8v-.5h2v.5h2v-.5h1v.5h1v-1h1v1h1v-.5h2v.5h1v-.5h1v-.5h1v1h1v-.5h2v.5h3v-.5h1v-1.5h1v1h1v.5h1v.5h4v-1h1v1h3v-.5h1v.5h3v-.5h2v.5h1v-.5h2v.5h1v-1h1v1h1v-.5h2v.5h1v-.5h2v.5h1v-.5h1v.5h1v-.5h1v.5h1v-1h1v.5h2v.5h2v-1h2v1h4v-.5h1v.5h1v-.5h1v.5h2v-.5h1v.5h1v-1h1v1h1v-.5h1v.5h1v-.5h1v.5h4v-.5h1v.5h1v-.5h2v.5h1v-1h1v1h1v-.5h1v.5h2v-.5h1v.5h1v-1h1v.5h1v.5h1v-.5h1v-1.5h1v1.5h1v.5h2v-.5h1v.5h7v-.5h1v.5h2v-.5h1v.5h2v-.5h3v.5h2v-.5h1v.5h1v-.5h1v.5h1v-.5h1v.5h3v-.5h1v.5h5v-1h1v1h1v-.5h1v.5h4v-.5h1v.5h1v-.5h2v.5h4v-.5h1v.5h6v-.5h1v5.5h-7v.5h-1v-.5h-3v.5h-1v-.5h-1v.5h-1v-.5h-1v1h-1v-1h-2v.5h-1v-.5h-1v.5h-1v.5h-1v-1h-1v.5h-1v-.5h-2v.5h-1v-.5h-2v.5h-1v-.5h-1v.5h-1v.5h-1v-1h-1v.5h-1v-.5h-1v1.5h-1v-.5h-1v-1h-1v1h-1v-1h-1v.5h-2v-.5h-1v.5h-2v-.5h-1v.5h-1v.5h-1v-.5h-1v-.5h-2v1h-1v.5h-1v-1.5h-6v1h-1v-1h-4v.5h-1v.5h-1v1h-1v-2h-8v.5h-1v-.5h-1v.5h-1v-.5h-1v1.5h-1v-1.5h-5v1h-1v-.5h-1v-.5h-5v.5h-1v-.5h-2v.5h-1v-.5h-1v.5h-3v-.5h-2v1.5h-1v-1.5h-6v1h-1v.5h-1v-1h-2v-.5h-1v.5h-3v-.5h-3v1h-3v-1h-1v1h-1v-1h-7v1h-1v-.5h-1v1h-1v-1.5h-2v1h-2v-.5h-1v1h-1v-1.5h-1v1h-1v-1h-1v2h-1v-2h-1v1.5h-1v-1.5h-2v.5h-2v.5h-1v-1h-2v1.5h-1v-1.5h-1v.5h-1v-.5h-1v.5h-1v-.5h-4v.5h-2v-.5h-4v.5h-1v-.5h-3v.5h-1v-.5h-2v.5h-1v-.5h-2v.5h-1v-.5h-2v.5h-1v-.5h-3v.5h-1v-.5h-3v.5h-1v1h-1v-1.5h-1v.5h-1v1h-2v-1.5h-6v1.5h-1v-1.5h-2v1h-1v-1h-1v.5h-1v-.5h-2v.5h-1v.5h-1v-1h-2v1h-1v-1h-1v.5h-1v-.5h-1v1h-2v-.5h-1v-.5h-1v.5h-1v-.5h-1v1h-1v-1h-7v.5h-1v.5h-1v.5h-1v-1h-1v-.5h-2v1h-1v-1h-4v.5h-1v-.5h-1v1h-1v-1h-3v.5h-2v-.5h-6v.5h-1v-.5h-2v.5h-1v-.5h-9v.5h-1v-.5h-1v.5h-2v-.5h-7v.5h-2v-.5h-2v.5h-1v-.5h-3v.5h-1v-.5h-1v1.5h-1v-1h-2v-.5h-2v.5h-1v-.5h-1v1h-1v-1h-1v.5h-1v.5h-1v-.5h-1v-.5h-2v1.5h-1v-1.5h-1v.5h-1v-.5h-1v.5h-1v-.5h-1v1h-1v-1h-2v1h-1v-1h-2v.5h-1v-.5h-1v.5h-2v-.5h-4v.5h-1v-.5h-6v2h-1v-2h-2v.5h-1v.5h-2v-1h-2v.5h-1v1.5h-1v-2h-1v1.5h-1v-1.5h-3v.5h-1v-.5h-3v.5h-3v1h-1v-1h-2v-.5h-2v.5h-1v-.5h-2v.5h-1v1.5h-1v-2h-1v1.5h-1v-.5h-1v-1h-2v.5h-2v-.5h-1v.5h-1v-.5h-18v.5h-1v-.5h-2v.5h-1v-.5h-6v.5h-1v-.5h-2v.5h-1v-.5h-1v.5h-1v-.5h-4v.5h-1v-.5h-2v.5h-1v-.5h-4v.5h-2v-.5h-2v1h-1v-1h-1v.5h-1v-.5h-2v.5h-1v-.5h-2v2h-1v-1.5h-1v-.5h-1v1.5h-1v-1.5h-2v1h-1v-.5h-2v-.5h-5v.5h-2v-.5h-2v.5h-1v-.5h-1v.5h-1v-.5h-2v.5h-1v-.5h-3v.5h-1v-.5h-3v.5h-1v-.5h-8v.5h-2v-.5h-3v.5h-2v-.5h-3v1h-1v-1h-5v.5h-1v-.5h-4v.5h-1v.5h-1v-1h-7v1.5h-1v-1.5h-1v2h-1v-.5h-1v-1.5h-1v.5h-3v-.5h-1v1h-1v-.5h-1v-.5h-2v1h-1v-.5h-2v-.5h-2v.5h-1v-.5h-1v2h-1v-1.5h-1v-.5h-1v2h-1v-2h-1v.5h-1v1.5h-1v-1h-1v-.5h-1v-.5h-1v.5h-1v-.5h-2v1.5h-2v-.5h-3v-1h-1v1h-1v-1h-7v1h-1v-1h-1v.5h-1v-.5h-2v.5h-1v.5h-1v-1h-3v1.5h-1v-1.5h-11v.5h-1v-.5h-5v1h-1v-1h-1v.5h-2v-.5h-1v1h-1v-.5h-2v-.5h-3v1h-2v-1h-1v1h-1v-1h-2v.5h-2v-.5h-1v1h-1v-.5h-3v-.5h-1v.5h-2v-.5h-1v.5h-3v-.5h-2v.5h-1v.5h-1v-.5h-1v-.5h-1v.5h-1v-.5h-4v.5h-2v-.5h-1v1h-1v-1h-1v1h-1v-1h-1v.5h-1v-.5h-2v.5h-2v-.5h-1v1h-1v-1h-5v.5h-1v-.5h-8v.5h-1v-.5h-1v.5h-1v-.5h-3v.5h-2v-.5h-5v.5h-1v-.5h-7v2h-1v-2h-2v.5h-2v-.5h-3v1h-2v-.5h-2v-.5h-1v.5h-1v-.5h-3v1h-1v-1h-1v.5h-1v-.5h-1v.5h-3v.5h-2v-1h-1v.5h-1v-.5h-7v.5h-1v-.5h-2v1.5h-1v-1.5h-4v.5h-3v-.5h-2v.5h-2v-.5h-1v.5h-1v-.5h-2v1.5h-1v-1.5h-1v1h-1v-1h-3v1h-1v-.5h-1v.5h-1v-.5h-1v.5h-1v-1h-1v1.5h-1v-1.5h-3v.5h-1v-.5h-1v.5h-3v.5h-1v-1h-1v.5h-1v.5h-1v-1h-3v1.5h-1v-1h-1v-.5h-3v.5h-1v-.5h-2v1h-1v-1h-1v.5h-1v-.5h-5v1h-1v-.5h-3v-.5h-1v.5h-1v-.5h-7v1h-1v-1h-5v.5h-1v-.5h-5v.5h-1v-.5h-5v.5h-1v.5h-1v-1h-1v.5h-1v.5h-1v-1h-1v2h-1v-2h-3v.5h-2v-.5h-2v1.5h-1v-.5h-1v1h-1v-2h-1v1h-1v-.5h-1v-.5h-1v.5h-1v1h-1v-1.5h-1v1h-1v-.5h-1v1.5h-1v-1.5h-1v-.5h-1v.5h-1v1.5h-1v-2h-4v.5h-1v-.5h-13v.5h-1v-.5h-1v.5h-2v-.5h-3v.5h-1v-.5h-1v1h-1v-1h-2v1.5h-1v-1.5h-1v1h-1v-1h-1v.5h-1v.5h-1v-.5h-1v.5h-1v-.5h-1v-.5h-2v.5h-1v-.5h-1v1.5h-1v-1h-1v-.5h-1v.5h-1v.5h-2v-1h-3v.5h-1v.5h-1v1h-1v-2h-1v2h-1v-.5h-2v-1.5h-1v1h-1v1h-1v-2h-1v.5h-2v1h-1v-1.5h-1v1.5h-1v-.5h-1v-.5h-1v-.5h-4v.5h-1v-.5h-1v1h-1v-1h-4v.5h-2v.5h-2v-1h-9v1h-1v-1h-2v1.5h-1v-1.5h-1v.5h-1v-.5h-2v.5h-2v1h-1v-1.5h-2v.5h-1v-.5h-4v.5h-3v-.5h-2v1h-1v-1h-1v.5h-1v-.5h-1v.5h-2v-.5h-1v.5h-1v-.5h-1v.5h-1v-.5h-1v2h-1v-1.5h-1v1.5h-1v-2h-1v1h-1v-.5h-1v1h-1v-1h-1v-.5h-1v.5h-1v1.5h-1v-1.5h-2v-.5h-1v.5h-1v-.5h-5v.5h-2v1h-1v-.5h-1v-1h-1v.5h-2v-.5h-4v.5h-1v-.5h-6v.5h-1v-.5h-7v.5h-1v-.5h-4v.5h-1v-.5h-1v.5h-2v-.5h-1v1h-1v1h-1v-2h-1v1.5h-1v-1.5h-2v.5h-2v-.5h-1v.5h-1v.5h-1v-.5h-1v1h-1v-1.5h-1v1.5h-1v-1.5h-1v.5h-1v-.5h-1v2h-1v-2h-4v.5h-1v-.5h-1v.5h-1v-.5h-3v.5h-1v.5h-1v-1h-2v.5h-1v-.5h-9v.5h-1v.5h-1v-.5h-2v-.5h-1v.5h-1v-.5h-2v.5h-3v-.5h-3v.5h-1v-.5h-2v1.5h-1v-1.5h-2v.5h-1v-.5h-2v.5h-1v-.5h-6v1h-1v-1h-2v1h-2v.5h-1v-1.5h-2v.5h-3v.5h-1v-.5h-1v1.5h-1v-1.5h-1v.5h-1v-1h-2v.5h-1v.5h-2v-1h-1v.5h-1v-.5h-1v.5h-1v-.5h-1v.5h-2v-.5h-1v.5h-3v-.5h-2v1h-1v-1h-1v1h-1v-.5h-4v-.5h-2v.5h-1v-.5h-2v1h-1v-1h-2v.5h-1v-.5h-1v.5h-2v-.5h-6v.5h-1v.5h-1v-.5h-1v.5h-1v-1h-1v.5h-1v.5h-1v-1h-2v1h-1v-.5h-5v-.5h-4v.5h-2v-.5h-1v.5h-3v.5h-1v-1h-1v.5h-2v-.5h-1v1h-1v-1h-2v.5h-1v1h-1v-1.5h-4v1.5h-1v-1h-1v1h-1v-1.5h-1v1.5h-1v-1.5h-5v.5h-1v-.5h-1v.5h-1v-.5h-3v.5h-1v-.5h-1v1.5h-1v-1h-2v-.5h-1v.5h-1v-.5h-1v2h-1v-2h-2v.5h-1v-.5h-1v.5h-4v-.5h-4v1h-1v-1h-2v.5h-1v.5h-1v-1h-1v1.5h-1v-.5h-1v.5h-1v-1.5h-6v.5h-1v-.5h-1v.5h-1v-.5h-19v.5h-1v-.5h-5v.5h-1v-.5h-6v.5h-2v-.5h-9v.5h-1v-.5h-4v.5h-1v-.5h-2v1h-1v-1h-12v.5h-1v-.5h-3v.5h-1v-.5h-2v.5h-2v-.5h-1v.5h-1v-.5h-1v.5h-1v-.5h-1v1h-1v-1h-3v.5h-1v-.5h-1v1h-1v.5h-1v-1h-1v-.5h-1v.5h-2v-.5h-1v1h-1v-1h-1v.5h-1v-.5h-1v.5h-1v1h-1v-1.5h-1v1h-1v-1h-1v.5h-1v.5h-2v-1h-2v.5h-1v-.5h-1v.5h-1v-.5h-6v.5h-1v-.5h-4v1h-1v-1h-2v1.5h-1v-1.5h-3v.5h-1v-.5h-1v.5h-2v-.5h-1v.5h-1v-.5h-8v.5h-1v-.5h-1v.5h-1v-.5h-1v1h-1v-1h-2v.5h-1v-.5h-1v.5h-1v-.5h-1v.5h-1v-.5h-7v.5h-1v-.5h-1v.5h-2v-.5h-2v1h-1v-1h-4v.5h-1v-.5h-1v1h-1v-1h-2v1.5h-2v-1.5h-2v1h-1v-.5h-2v-.5h-2v.5h-2v-.5h-1v.5h-1v-.5h-2v1h-1v-1h-2v.5h-1v-.5h-3v.5h-2v-.5h-1v1h-1v-1h-1v.5h-2v-.5h-3v1h-1v-.5h-1v-.5h-1v.5h-1v.5h-1v-1h-1v.5h-1v-.5h-3v2h-1v-2h-3v.5h-1z"/><clipPath id="ax"><rect x="230.4" y="60.0" width="1459.2" height="1020.0"/></clipPath><clipPath id="ax42"><rect x="230.4" y="60.0" width="1454.6" height="1020.0"/></clipPath></defs>
<path d="M595.5 60.5V1080M960.5 60.5V1080M1325.5 60.5V1080" stroke="#000" stroke-width="0.7" stroke-dasharray="0.7 1.3" fill="none"/>
<g clip-path="url(#ax)">
<use href="#nb0" x="230.4" y="78.35" fill="#000000"/>
<path d="M449.4 78.3V75.8h1V75.3h1V75.4h1V84.2h-1V84.8h-1V82h-1zM1344.4 78.3V75.2h1V74.3h1V70.3h1V71.2h1V74h1V71.7h1V82.1h-1h-1V85.3h-1V85.8h-1V82.6h-1V81.2h-1zM1606.4 78.3V75.2h1V73.3h1V73.7h1V81.7h-1V81.8h-1V81.1h-1z" fill="#000000"/>
<path d="M344.1 75.3H348.7L348.3 150L348.1 192.6H344.3L344.1 150ZM454.3 75.8H459.6V98L460.5 200L460.75 235L461.3 298Q461.2 305.8 459.4 305.8Q457.6 305.8 457.5 298L456.7 235L456.3 196L455 150L454.4 120ZM460.4 75.5Q462.8 73.4 465.3 75.3L465.4 230L465.2 298Q465 304.8 463.5 304.8Q461.9 304.8 461.8 298L460.9 235L460.2 200L460 110L460.4 98Z" fill="#000"/>
<use href="#nb3" x="230.4" y="101.75" fill="#ff0000"/>
<path d="M805.4 101.8V96.9h1V91.1h1V92.3h1V111h-1V112.2h-1V106.6h-1zM820.4 101.8V96.3h1V89.2h1V90.7h1V106.4h-1V106.8h-1V104.9h-1zM825.4 101.8V98.9h1V97.8h1V98h1V108.9h-1V109.8h-1V105.8h-1zM848.4 101.8V98.7h1V97.7h1V94h1V96.9h1h1V95.8h1h1V94.2h1V96.5h1V97.6h1V97.9h1V105.5h-1V106.8h-1V105.5h-1V104.8h-1V105.1h-1V105.6h-1V106.7h-1V106.3h-1V105.6h-1V107.5h-1V104.9h-1zM874.4 101.8V98h1V97.9h1V97.2h1V95.8h1V96.3h1V98.9h1V98.7h1V98.2h1V97.2h1V98h1V98.6h1V104.8h-1V105.1h-1V105.5h-1V106.8h-1V105.4h-1V105.1h-1V112.9h-1V114.5h-1V107.7h-1V105.8h-1V107.8h-1zM1140.4 101.8V98.9h1V97.8h1V96.1h1V97.8h1V95.8h1V96.3h1V98.1h1V94.8h1V97.6h1V95.7h1V92.8h1V93.7h1V97.9h1V98.9h1V105.2h-1V106.2h-1V106.4h-1V106.8h-1V105.9h-1V107.4h-1V107.6h-1V107.8h-1V116.2h-1V118.4h-1V108.4h-1V106.1h-1V106.1h-1V105.2h-1zM1484.4 101.8V98.7h1V97.1h1V97.4h1V104.7h-1V104.8h-1V104.3h-1zM1557.4 101.8V99.2h1V98.8h1V98.8h1V106.4h-1V106.8h-1V104.9h-1zM1581.4 101.8V97.4h1V92.8h1V93.7h1V104.7h-1V104.8h-1V104.3h-1zM1601.4 101.8V98.1h1V96.7h1V97.3h1V97.8h1V97.7h1V95.4h1V86.2h1V88.1h1V95.8h1V97.8h1V98.5h1V104.8h-1V104.7h-1V105.5h-1V106.7h-1h-1V104.9h-1V105.1h-1V105.8h-1V106.3h-1V105.9h-1V106.8h-1zM1628.4 101.8V98.7h1V97.3h1V97.6h1V105.5h-1V105.8h-1V104.6h-1zM1661.4 101.8V99.2h1V98.8h1V98.8h1V109.8h-1V110.8h-1V106.1h-1z" fill="#ff0000"/>
<use href="#nb1" x="230.4" y="125.16" fill="#0000ff"/>
<path d="M259.4 125.2V122h1V120.4h1V120.7h1V131.8h-1V132.6h-1V129.1h-1zM279.4 125.2V121.3h1V121.8h1V122h1h1h1V121.9h1V128.1h-1V128.4h-1V129.2h-1V128.4h-1V128.3h-1V128.1h-1zM286.4 125.2V121h1V128.1h-1zM289.4 125.2V121.1h1V117.2h1V118h1V133.2h-1V134.2h-1V129.5h-1zM757.4 125.2V122.6h1V122.2h1V122.2h1V129.3h-1V129.7h-1V128.2h-1zM1561.4 125.2V122.6h1V122.2h1V122.2h1V129.3h-1V129.7h-1V128.2h-1zM1606.4 125.2V120.5h1V115.2h1V116.3h1V128.9h-1V129.2h-1V128h-1zM1613.4 125.2V121.8h1V119.7h1V120.1h1V132.8h-1V133.8h-1V129.4h-1z" fill="#0000ff"/>
<use href="#nb4" x="230.4" y="148.56" fill="#008000"/>
<path d="M801.4 148.6V146h1V145.6h1V145.7h1V153.8h-1V154.3h-1V152h-1zM822.4 148.6V141.3h1V144.3h1V145.2h1V144.1h1V141.6h1V142.1h1V143.7h1V143.8h1V143h1V143.8h1V144.6h1V144.9h1V145.4h1V152.4h-1h-1V152.1h-1h-1V151.8h-1V151.6h-1V160h-1V161.6h-1V154.1h-1V154.6h-1V153.3h-1V152.9h-1V153.3h-1zM841.4 148.6V144.2h1V139.5h1V140.5h1V151.5h-1V151.6h-1V151.1h-1zM1673.4 148.6V145h1h1V144.6h1V144.8h1V143.6h1V145h1V145.2h1V144.8h1V145.2h1V144.7h1V143.7h1V144.8h1V145.5h1V145.2h1V145.5h1V145.2h1V144.4h1V152h-1V152.1h-1V152.6h-1V152.3h-1V152.5h-1h-1V153h-1V152.1h-1V151.8h-1V152.5h-1V152.2h-1h-1h-1V152.5h-1V153.1h-1V153.6h-1V152.6h-1z" fill="#008000"/>
<use href="#nb2" x="230.4" y="171.97" fill="#000000"/>
<path d="M539.4 172V168.8h1V167h1V167.4h1V174.9h-1V175h-1V174.5h-1zM867.4 172V166.5h1V165.8h1V165.4h1V165.8h1V166.4h1V165.6h1V176.1h-1V176.4h-1V175.9h-1V177h-1V176.8h-1V175.6h-1zM885.4 172V166.4h1V167.1h1V166.7h1V178h-1V178.1h-1V178.8h-1zM894.4 172V168h1V168.2h1V176.1h-1V176.4h-1zM922.4 172V165.4h1V164.3h1V162h1V163.1h1V167.5h1V165.6h1V164h1V165h1V177.4h-1V178.4h-1V179h-1V177.8h-1V179h-1V179.8h-1V178.4h-1V179.7h-1zM936.4 172V162.5h1V154.8h1h1V157h1V161h1V178.5h-1V182.5h-1V187.5h-1V189.8h-1V180h-1zM944.4 172V168.6h1V167.4h1V162.3h1V163.4h1V166.8h1V168h1V166h1V177.2h-1V178.9h-1V178.6h-1V177.8h-1V178.7h-1V178.5h-1V177.3h-1zM958.4 172V169.4h1V169h1V169.1h1V178.1h-1V178.8h-1V175.7h-1zM1042.4 172V167.7h1V163.4h1V164.3h1V174.9h-1V175h-1V174.5h-1zM1059.4 172V168.9h1V167.3h1V167.6h1V174.9h-1V175h-1V174.5h-1zM1087.4 172V167h1V161h1V162.3h1V182.5h-1V184h-1V177.2h-1zM1129.4 172V166.4h1V159.2h1V160.7h1V168.2h1V165h1V165.7h1V178.3h-1V179h-1V175.7h-1V183.8h-1V185.5h-1V177.7h-1zM1173.4 172V168.8h1V167h1V167.4h1V179.1h-1V180h-1V176h-1z" fill="#000000"/>
<use href="#nb0" x="230.4" y="195.37" fill="#ff0000"/>
<path d="M392.4 195.4V192.8h1V192.4h1V192.5h1V200.6h-1V201.1h-1V198.8h-1z" fill="#ff0000"/>
<use href="#nb3" x="230.4" y="218.77" fill="#0000ff"/>
<use href="#nb1" x="230.4" y="242.18" fill="#008000"/>
<use href="#nb4" x="230.4" y="265.58" fill="#000000"/>
<use href="#nb2" x="230.4" y="288.99" fill="#ff0000"/>
<path d="M1660.4 289V286.4h1V286h1V286.1h1V293.2h-1V293.5h-1V292h-1z" fill="#ff0000"/>
<use href="#nb0" x="230.4" y="312.39" fill="#0000ff"/>
<use href="#nb3" x="230.4" y="335.79" fill="#008000"/>
<use href="#nb1" x="230.4" y="359.20" fill="#000000"/>
<path d="M817.4 359.2V356.6h1V356.2h1V356.3h1V363.4h-1V363.7h-1V362.2h-1zM1140.4 359.2V356h1V354.2h1V354.6h1V362.1h-1V362.2h-1V361.8h-1z" fill="#000000"/>
<use href="#nb4" x="230.4" y="382.60" fill="#ff0000"/>
<path d="M1307.4 382.6V379.5h1V379.3h1V378.9h1h1V378.6h1V378h1V377.4h1V378.8h1V376.9h1V377.5h1V377.7h1V377.1h1V378.2h1V378.6h1V379.3h1V379.6h1V385.6h-1V385.9h-1V386.6h-1V386h-1V385.7h-1V386.8h-1V388.6h-1V387h-1V386.2h-1V389.1h-1V388.8h-1V387.1h-1V386.3h-1V387h-1V386.8h-1V387.2h-1zM1543.4 382.6V380h1V379.6h1V379.7h1V387.6h-1V388.1h-1V385.9h-1z" fill="#ff0000"/>
<use href="#nb2" x="230.4" y="406.01" fill="#0000ff"/>
<path d="M259.4 406V402.8h1V401h1V401.4h1V408.9h-1V409h-1V408.6h-1zM267.4 406V402.8h1V401h1V401.4h1V408.9h-1V409h-1V408.6h-1z" fill="#0000ff"/>
<use href="#nb0" x="230.4" y="429.41" fill="#008000"/>
<path d="M1345.4 429.4V423h1V421.3h1V421.8h1h1V417h1V418.5h1V421.4h1V423.3h1V423.9h1h1V417.1h1V394h1V399h1V412h1V445.1h-1V447.4h-1h-1V444.1h-1V435.5h-1V436.8h-1V435.4h-1V435.7h-1V437.1h-1V435.8h-1V434.6h-1V438.5h-1V439.7h-1V438.4h-1zM1361.4 429.4V426.2h1V424.4h1V424.8h1V434h-1V434.4h-1V432.6h-1zM1367.4 429.4V424.4h1V424.6h1V423.7h1V424.4h1V423.9h1V421h1V421.9h1V424.4h1V425.5h1V435.1h-1V434.2h-1V434.3h-1V438.1h-1V439.2h-1V434.2h-1V434.3h-1V433.3h-1V436.4h-1zM1396.4 429.4V424.5h1V424.8h1V424.5h1V421.3h1V422.2h1V423.8h1V419.9h1V421h1V435.7h-1V436.4h-1V434.1h-1V434.3h-1V433.6h-1h-1V433.9h-1V433.4h-1zM1449.4 429.4V425.4h1V421.6h1V422.4h1V433.6h-1V433.9h-1V432.4h-1zM1591.4 429.4V426.8h1V426.4h1V426.5h1V435.7h-1V436.4h-1V433.2h-1zM1646.4 429.4V426.2h1V424.4h1V424.8h1V432.7h-1V432.9h-1V432.1h-1zM1654.4 429.4V426.8h1V426.4h1V426.5h1V436.1h-1V436.9h-1V433.3h-1zM1678.4 429.4V426.5h1h1V426.2h1V425.3h1V423.5h1V424.7h1V424.6h1V419.4h1V423.8h1V423.5h1V425.2h1V426.3h1V434.9h-1V434h-1h-1V433h-1V432.3h-1h-1V433h-1V434.1h-1V433.1h-1V435.1h-1V433.5h-1V433.6h-1z" fill="#008000"/>
<use href="#nb3" x="230.4" y="452.81" fill="#000000"/>
<path d="M406.4 452.8V449.8h1V449.9h1V456.9h-1V457.2h-1zM499.4 452.8V446.3h1V448.9h1V447.8h1V448.2h1V449.7h1V449.6h1V449.8h1V448.8h1V447h1V448.2h1V460.7h-1V461.7h-1h-1V459.3h-1V458.5h-1V456.9h-1V458.7h-1V460.3h-1V458.2h-1V456.7h-1zM526.4 452.8V450.2h1V449.8h1V449.9h1V458.7h-1V459.3h-1V456.4h-1zM553.4 452.8V448.8h1V445h1V445.8h1V460.7h-1V461.7h-1V457.2h-1zM567.4 452.8V449.6h1V447.8h1V448.2h1V455.7h-1V455.8h-1V455.4h-1zM757.4 452.8V448.5h1V446.8h1V448.2h1V449.3h1V449.8h1V456.2h-1V457h-1V456.7h-1V458.8h-1V458.1h-1zM777.4 452.8V450.2h1V449.8h1V449.9h1V457.8h-1V458.3h-1V456.1h-1zM1004.4 452.8V449.3h1V446.8h1V447.4h1V462.9h-1V464.3h-1V457.9h-1zM1024.4 452.8V450.2h1V449.8h1V449.9h1V457.4h-1V457.8h-1V456h-1zM1545.4 452.8V449.8h1V448.3h1V448.6h1V459.1h-1V459.8h-1V456.6h-1zM1578.4 452.8V449.2h1V446.3h1V446.9h1V457.4h-1V457.8h-1V456h-1z" fill="#000000"/>
<use href="#nb1" x="230.4" y="476.22" fill="#ff0000"/>
<path d="M622.4 476.2V469.9h1V460.6h1V462.6h1V479.1h-1V479.2h-1V478.8h-1zM638.4 476.2V473.2h1V471.7h1V472h1V480.6h-1V480.9h-1V479.3h-1zM972.4 476.2V471.8h1V467.2h1V468.2h1V479.1h-1V479.2h-1V478.8h-1zM986.4 476.2V473h1V471.2h1V471.6h1V479.1h-1V479.2h-1V478.8h-1zM1045.4 476.2V472.7h1V470.2h1V470.8h1V479.1h-1V479.2h-1V478.8h-1zM1110.4 476.2V472.2h1V473.1h1V472.9h1V472.4h1V472.6h1V473.1h1V479.6h-1V480h-1V482.2h-1V480.9h-1V481.7h-1V480.1h-1zM1132.4 476.2V470.8h1V470.3h1V471.6h1V472h1V471.9h1V471.7h1V470.6h1V470.8h1V469.6h1V471.5h1V469.2h1V479.4h-1V479.9h-1V480.8h-1V482.5h-1V480.8h-1V480h-1V479.8h-1V480.1h-1V483.5h-1V480.7h-1V479.7h-1zM1146.4 476.2V472.1h1V472.4h1V472.3h1V472.4h1V472h1V472.3h1V472.1h1V472.6h1V472.8h1V472.7h1h1V472.9h1h1V473.2h1V473.1h1V472.8h1V472.7h1V472.2h1V472.6h1V472.5h1V472h1V472.2h1V472h1V472.9h1V473.4h1h1V473.3h1V473.3h1V479.3h-1V479.4h-1V479.3h-1V479.4h-1V479.9h-1V479.7h-1V479.8h-1V479.3h-1V479.2h-1V479.5h-1V479.8h-1V479.8h-1V480.3h-1V480.1h-1V480.4h-1V479.8h-1V479.5h-1V479.2h-1V479.1h-1V479.1h-1V479.3h-1V479.2h-1V479.5h-1V480.1h-1V479.6h-1h-1V480.5h-1V480.2h-1zM1175.4 476.2V472.9h1V472.1h1V472.7h1V472.9h1h1V472.6h1V472.5h1V472.9h1V473h1V479.6h-1V480.3h-1V479.6h-1V479.3h-1V479.4h-1V479.7h-1V479.3h-1V479.1h-1h-1zM1188.4 476.2V473.2h1V473h1V473.2h1V473h1V472.4h1V473h1V479.3h-1V479.6h-1V479.3h-1V479.2h-1V479.1h-1h-1zM1195.4 476.2V473h1V472.3h1V472.7h1h1V472.1h1V472.4h1V472.2h1V472.8h1V473.1h1V472.8h1V472.5h1V472.9h1V473.1h1V473.3h1V472.8h1V472h1V472.2h1V472.6h1h1V472.2h1V472.4h1V472h1V472.8h1V473.2h1V473h1V472.9h1V472.7h1h1V472.9h1V472.9h1V472.2h1V472.3h1V472h1V472.5h1h1V472.6h1V472.2h1V472.5h1V471.2h1V471.6h1V472.9h1V472.4h1V472.7h1V472.6h1V472h1V472.9h1V473.3h1V472.9h1V472.1h1V471.9h1V473.2h1V473.3h1V473.2h1h1V473.1h1V472.9h1V472.8h1V472.3h1V473h1V473.3h1V472.9h1V472.1h1V472.9h1h1V472.1h1V472.5h1V472.4h1V471.5h1V471.9h1V472.9h1V473.1h1V472.6h1V472h1V472h1V472.6h1V479h-1h-1V479.5h-1V480.1h-1V479.7h-1h-1V481h-1V481.4h-1V480.4h-1V479.8h-1V479.7h-1V479.3h-1V479.5h-1V480.1h-1h-1V480h-1V480.4h-1V480.1h-1V479.4h-1V479.1h-1V479.2h-1V479.4h-1V479.7h-1V479.4h-1V479.2h-1V479.4h-1h-1V479.3h-1V479.4h-1h-1V479.7h-1V479.8h-1V480.3h-1V479.9h-1V480h-1V480.6h-1V480.9h-1V479.3h-1V479.4h-1V479.8h-1V479.8h-1V480.1h-1V479.5h-1V479.1h-1V479.2h-1V479.3h-1V479.5h-1h-1V479.7h-1V479.8h-1V479.9h-1V480.4h-1h-1V479.8h-1V479.4h-1V479.2h-1V479.5h-1V480.2h-1V479.7h-1V479.5h-1V479.7h-1V479.3h-1h-1V479.7h-1V479.4h-1V479.3h-1V479.1h-1V480.5h-1V479.3h-1V479.7h-1V480.1h-1V479.5h-1V479.2h-1V479.1h-1h-1zM1386.4 476.2V472.9h1V470.7h1V471.2h1V479.1h-1V479.2h-1V478.8h-1z" fill="#ff0000"/>
<use href="#nb4" x="230.4" y="499.62" fill="#0000ff"/>
<path d="M333.4 499.6V496.6h1V496.7h1V503.2h-1V503.4h-1zM395.4 499.6V496.3h1V494.1h1V494.6h1V505.3h-1V505.9h-1V503.2h-1zM539.4 499.6V496.5h1V494.9h1V495.3h1V505.3h-1V505.9h-1V503.2h-1zM1206.4 499.6V496.1h1V493.6h1V494.2h1V502.5h-1V502.6h-1V502.2h-1zM1217.4 499.6V497h1V496.6h1h1V496.7h1V507.5h-1V508.5h-1V507.9h-1V503.8h-1zM1226.4 499.6V495.4h1V491h1V492h1V502.5h-1V502.6h-1V502.2h-1zM1364.4 499.6V496.5h1V494.9h1V495.3h1V502.5h-1V502.6h-1V502.2h-1zM1456.4 499.6V496.5h1V494.9h1V495.3h1V504.2h-1V504.6h-1V502.8h-1zM1548.4 499.6V496.1h1V493.6h1V494.2h1V505.3h-1V505.9h-1V503.2h-1zM1576.4 499.6V495.8h1V492.3h1V493.1h1V502.5h-1V502.6h-1V502.2h-1zM1681.4 499.6V497h1V496.6h1V496.7h1V505.9h-1V506.6h-1V503.4h-1z" fill="#0000ff"/>
<use href="#nb2" x="230.4" y="523.03" fill="#008000"/>
<path d="M261.4 523V520.4h1V520h1V520.1h1V528.1h-1V528.5h-1V526.4h-1zM290.4 523V519.2h1V516h1V516.7h1V529.2h-1V529.8h-1V526.7h-1zM310.4 523V519.4h1V516.5h1V517.1h1V531.4h-1V532.4h-1V527.5h-1zM423.4 523V519.6h1V517.3h1V517.8h1V529.3h-1V530h-1V526.8h-1zM492.4 523V518.5h1V513.4h1V514.5h1V525.9h-1V526h-1V525.6h-1zM500.4 523V520.4h1V520h1V520.1h1V531.4h-1V532.4h-1V527.5h-1zM531.4 523V520h1V518.5h1V518.8h1V527.4h-1V527.7h-1V526.1h-1zM546.4 523V519.2h1V516h1V516.7h1V528.5h-1V529h-1V526.5h-1zM570.4 523V520h1V518.5h1V518.8h1V528.5h-1V529h-1V526.5h-1zM596.4 523V517.8h1V511.3h1V512.7h1V530.2h-1V531h-1V527.1h-1zM664.4 523V519.1h1V515.5h1V516.3h1V532.7h-1V534h-1V528h-1zM682.4 523V519.2h1V516h1V516.7h1V525.9h-1V526h-1V525.6h-1zM701.4 523V520.4h1V520h1V520.1h1V528.9h-1V529.5h-1V526.7h-1zM996.4 523V519.6h1V518.5h1V519.1h1V519.8h1V525.9h-1V526h-1V529.8h-1V528.6h-1zM1011.4 523V519.1h1V515.4h1V516.2h1V525.9h-1V526h-1V525.6h-1zM1318.4 523V519.1h1V515.5h1V516.3h1V525.9h-1V526h-1V525.6h-1zM1464.4 523V518.6h1V514h1V515h1V528.1h-1V528.5h-1V526.4h-1zM1580.4 523V518.9h1V515h1V515.9h1V527.4h-1V527.7h-1V526.1h-1zM1666.4 523V520h1V518.5h1V518.8h1V525.9h-1V526h-1V525.6h-1z" fill="#008000"/>
<use href="#nb0" x="230.4" y="546.43" fill="#000000"/>
<path d="M350.4 546.4V542.3h1V538.1h1V539h1V549.3h-1V549.4h-1V549h-1zM485.4 546.4V543h1V540.7h1V541.2h1V549.3h-1V549.4h-1V549h-1zM514.4 546.4V543.8h1V543.4h1V543.5h1V553h-1V553.7h-1V550.3h-1zM557.4 546.4V543.2h1V538.9h1V540.3h1V541.7h1V542.1h1V543h1V549.9h-1V550.9h-1V552.7h-1V551.4h-1V553.4h-1V551.9h-1zM719.4 546.4V542.6h1V542.9h1h1V543.3h1V543.2h1V542.7h1V542.9h1V542.9h1V543.3h1V543.5h1h1V543.4h1V543.2h1V543.1h1V543.4h1h1V543h1V543.3h1h1V542.9h1V543.3h1V543.1h1V542.6h1V543h1V543.4h1h1h1V543.4h1V543.5h1V553.6h-1V554.4h-1V550.5h-1V549.8h-1V549.6h-1V549.5h-1V549.4h-1h-1V549.6h-1V550h-1V550.2h-1V549.7h-1V549.5h-1V549.4h-1V549.3h-1h-1V549.4h-1V549.7h-1h-1V549.8h-1V549.5h-1V549.3h-1h-1V549.4h-1V549.6h-1V549.7h-1V550.1h-1V549.6h-1V549.3h-1zM749.4 546.4V543.6h1h1V543.5h1V543.2h1V541.4h1V541.8h1V542.9h1V543.3h1V543.5h1h1h1V542.2h1V543.6h1h1V543.4h1V543h1V543.2h1V539.8h1V529.8h1V532h1V543.5h1h1h1V543.3h1V542.8h1V543h1V542.9h1V543.2h1V543.4h1V543.1h1V542.7h1V543.2h1V543.4h1V543.1h1V542.6h1V542.7h1V542.3h1V542.9h1V543.2h1V543.4h1h1V543.3h1V543.4h1h1V543.3h1V543.4h1V543.5h1h1V543.4h1V542.9h1V543.2h1V543.4h1V543.3h1V543h1V543h1V543.4h1V543.6h1V543.5h1h1V543.1h1V542.4h1V543h1V543.3h1V543.4h1V543.3h1V543.5h1V543.5h1V543.5h1V543.3h1h1V543.2h1V543.4h1V543.6h1h1V549.5h-1V549.7h-1V550h-1V550.6h-1V549.8h-1V549.4h-1V549.8h-1V550.6h-1V549.8h-1V549.6h-1V550h-1V549.7h-1V549.5h-1V549.3h-1V549.6h-1V550h-1V550h-1V550.3h-1V551.2h-1V550h-1V553.7h-1V550.4h-1V552.2h-1V551.7h-1V550.3h-1V549.8h-1V549.6h-1h-1V549.7h-1V550.1h-1V549.8h-1V549.7h-1V549.8h-1V550.2h-1V549.9h-1h-1V549.5h-1V549.3h-1V549.4h-1V549.3h-1V549.2h-1h-1V549.5h-1V549.9h-1V549.7h-1V549.8h-1V550h-1V549.7h-1h-1V549.6h-1V549.7h-1V549.5h-1h-1h-1h-1V549.7h-1h-1V549.8h-1V550.2h-1V550.3h-1V550.1h-1V550.4h-1V549.7h-1h-1V550.1h-1V550.4h-1V549.7h-1V549.5h-1V549.8h-1V549.5h-1h-1V549.8h-1V550h-1V549.6h-1zM824.4 546.4V543.3h1V549.3h-1zM826.4 546.4V543.6h1V549.5h-1zM828.4 546.4V543.3h1V543.4h1h1V543.2h1V543.3h1V543.5h1V543.2h1V542.5h1V543h1V543.2h1V543.3h1h1V549.3h-1h-1V549.7h-1V550.3h-1V549.7h-1V549.7h-1V550.5h-1V549.8h-1V549.6h-1V550.1h-1V549.6h-1V549.4h-1zM841.4 546.4V543.5h1V543.4h1V543.2h1V542.7h1V542.9h1V543.3h1V543.4h1V543h1V542.3h1V543.1h1V543.6h1V543.3h1V542.9h1V543.1h1V543.4h1V549.5h-1V549.3h-1V549.6h-1V550h-1h-1V550.4h-1V549.9h-1V549.5h-1V549.7h-1V551.9h-1V552.4h-1V549.9h-1V549.6h-1V550.1h-1V549.6h-1zM857.4 546.4V543.2h1V549.3h-1zM859.4 546.4V543.5h1V543.3h1V543.5h1V543.6h1V543.1h1V540.9h1V541.4h1V543.2h1V542.5h1V543.2h1V543.5h1V543.2h1V542.5h1V542.7h1V542.9h1V542.6h1V543h1V543.2h1V543.5h1V543.4h1V543.1h1V542.9h1V542.4h1V542.7h1V542.7h1V542.8h1V542.4h1V542.2h1V543.1h1h1V542.2h1V542.4h1V543.1h1V549.3h-1h-1h-1V549.7h-1V550.4h-1V549.7h-1V549.6h-1V550.2h-1V549.6h-1V549.3h-1V549.3h-1h-1V549.7h-1V550.4h-1V549.7h-1V549.5h-1V549.6h-1h-1V549.4h-1V549.3h-1V549.5h-1V550h-1V549.9h-1V549.7h-1V549.8h-1h-1V550.1h-1V549.8h-1V549.4h-1V549.5h-1V549.9h-1V550.1h-1V549.6h-1zM893.4 546.4V543.6h1V543.2h1V542.5h1V542.9h1V542.5h1V541.4h1V541.6h1V542.3h1h1V542.1h1V541.5h1V542.7h1V543.3h1V543.1h1V540.9h1V543.3h1h1V543h1V543.4h1V549.5h-1V549.7h-1V550.1h-1V552.9h-1V551.4h-1V551h-1V552.9h-1V551.1h-1V551.8h-1V550.3h-1V549.4h-1V549.8h-1V550.7h-1V550.8h-1h-1V551.5h-1V549.5h-1h-1h-1zM913.4 546.4V543.5h1V543.3h1V542.9h1V543h1h1V543.2h1V543.4h1V549.2h-1V549.5h-1V549.9h-1V550h-1V550.4h-1V549.8h-1V549.5h-1zM1011.4 546.4V543.4h1V541.9h1V542.2h1V552.3h-1V552.9h-1V550.1h-1zM1288.4 546.4V541.3h1V540.6h1V541.6h1h1V539.5h1V529h1V531.3h1V542.5h1V543.4h1V543.1h1V542.5h1V542.4h1V541.7h1V542.2h1V541.8h1V536.4h1V537.6h1V542.6h1V542.5h1V541.4h1V542.1h1V543h1V542.6h1V541.2h1V542.5h1V542.8h1V542.8h1V542.6h1V542.2h1V541.2h1V542.6h1V549.3h-1V549.7h-1V550.3h-1V550.8h-1V552.2h-1V551.1h-1V550.9h-1V550.1h-1V550.2h-1V551.1h-1V550.2h-1V549.9h-1V550.7h-1V550.4h-1V556.3h-1V557.6h-1V551.5h-1V551.1h-1V551.9h-1V552.1h-1V550.6h-1V549.8h-1V550.3h-1V549.8h-1V552.3h-1V552.9h-1V550.2h-1V549.3h-1h-1V549.5h-1V549.8h-1zM1320.4 546.4V543.4h1V542.6h1V541.2h1V542.4h1V543h1V543.2h1V542.9h1V542.1h1V541.4h1V542.4h1V542.9h1V543.3h1V542.9h1V541.9h1V540.6h1V542.1h1V542.8h1V543.3h1V543.1h1V542.6h1V542.6h1V542.2h1V541.9h1V542.5h1V542.6h1V542.5h1V541.9h1V542.4h1V542.2h1V542.4h1V542.7h1V542.4h1V541.5h1V542h1V541.8h1V542.7h1V542.8h1V542.1h1V538.4h1V539.3h1V542.3h1V542h1V541.8h1V540.8h1V542.4h1V542.2h1V540.5h1V542.2h1V542.7h1V542.2h1V541.9h1V540.7h1V541.9h1V542.4h1V542.3h1V541.6h1V541h1V541.5h1V541h1V541.9h1V542h1V541.3h1V542.7h1V543h1V542.8h1V543.3h1V542.5h1V540.9h1V541.5h1V542.1h1V541.9h1V542.3h1V543h1V543.3h1h1V542.9h1V542.7h1V543.2h1V543.4h1V543.3h1V540.9h1V538.4h1V539.1h1V537.9h1V541.1h1V541.3h1V542.7h1V542.8h1V542h1V539.7h1V540.2h1V542.1h1V540.6h1V541.1h1V538.3h1V541.5h1V538.4h1V539.3h1V540.4h1V540h1V541.7h1V542.2h1V540.1h1V541.9h1V542.9h1V541.9h1V540.2h1V541.6h1V535.9h1V537.1h1V539.6h1V539.5h1V541.2h1V541.7h1V541.3h1V539.8h1V540.2h1V542.6h1V542.3h1h1V541.7h1h1V540.7h1V542.4h1V543.2h1V542.5h1V543h1V542.5h1V541h1V542.6h1V542.6h1V539.4h1V540.1h1V541.8h1V541.9h1V550.8h-1V550h-1V550.2h-1V550.4h-1h-1V550.2h-1V550.4h-1V550.8h-1V550.3h-1V549.7h-1V549.8h-1V550.7h-1V550.6h-1V551.2h-1V550.1h-1h-1V551.3h-1V550.5h-1V551h-1V553h-1V551.4h-1V555.5h-1V556.7h-1V551.2h-1V553.1h-1V551.9h-1V552.1h-1V553.4h-1V552.6h-1V550.9h-1V551h-1V550.9h-1V551.7h-1V552.9h-1V553.6h-1V551.7h-1V551.2h-1V552.7h-1V553.4h-1V551h-1h-1V550.4h-1V551.3h-1V550.8h-1V550.7h-1V551.2h-1V550.1h-1V550.5h-1V550.5h-1V551.3h-1V550.6h-1V551.2h-1V552.7h-1V553.4h-1V551.4h-1V552h-1V550.4h-1V549.4h-1V549.3h-1V549.2h-1V550.2h-1V551.7h-1V550.2h-1V549.6h-1V549.4h-1V549.7h-1V550.3h-1V551.7h-1V551.4h-1V552.2h-1V550.5h-1V549.7h-1V550.2h-1V549.6h-1V550.2h-1V551.6h-1V550.2h-1V549.8h-1h-1V549.7h-1V552.2h-1V549.6h-1V549.7h-1V550.4h-1V550.3h-1V550.7h-1V549.8h-1V549.3h-1h-1h-1V549.4h-1V550.5h-1V552.2h-1V551h-1V550.2h-1h-1V550.4h-1V550.2h-1V549.7h-1V550h-1V550.6h-1h-1V551.5h-1V551.1h-1V551.7h-1V551.3h-1V550.2h-1V549.6h-1V550h-1V550.8h-1V550.1h-1V549.7h-1V550.1h-1V550.8h-1V551.1h-1V551.4h-1V550.3h-1V549.8h-1V549.6h-1V550.3h-1V551.6h-1V551.3h-1V552h-1V550.9h-1V550.8h-1V551.7h-1V550.9h-1V551h-1V551.6h-1V550.4h-1h-1V551.8h-1V550.5h-1V549.7h-1V549.5h-1zM1621.4 546.4V540.2h1V531.1h1V533.1h1V552.3h-1V552.9h-1V550.1h-1z" fill="#000000"/>
<use href="#nb3" x="230.4" y="569.83" fill="#ff0000"/>
<path d="M253.4 569.8V566.4h1V564.6h1V566.2h1V566.5h1h1V566.8h1V573.2h-1V574.1h-1V573.3h-1V573.1h-1V575h-1V573h-1zM361.4 569.8V566.8h1V566.9h1V573.4h-1V573.6h-1zM1064.4 569.8V564.7h1V566h1V565.8h1V564h1V564.9h1V564.7h1V563.3h1V566.2h1V565.8h1V564h1V575.2h-1V574.1h-1V573.8h-1V574.1h-1V574.7h-1V576.4h-1V576.6h-1V576.1h-1V574.1h-1V573h-1zM1101.4 569.8V565.5h1V560.8h1V561.8h1V574.9h-1V575.3h-1V573.2h-1zM1110.4 569.8V567h1h1V566.9h1V566.6h1V565.9h1V566.5h1V566.8h1h1h1V566.6h1h1V565.3h1V566h1V566.6h1V566.2h1V565.5h1V572.8h-1V573.1h-1V572.9h-1V573.1h-1V573.7h-1V575.3h-1V573.8h-1V572.8h-1V575.3h-1V572.7h-1h-1V573h-1V573.7h-1V575.2h-1V574.1h-1V573.9h-1zM1399.4 569.8V566.5h1V564.3h1V564.8h1V575.7h-1V576.3h-1V573.5h-1zM1446.4 569.8V567.3h1V566.8h1V566.9h1V574.9h-1V575.3h-1V573.2h-1zM1558.4 569.8V567.3h1V566.8h1V566.9h1V576.4h-1V577.1h-1V573.7h-1zM1606.4 569.8V567.3h1V566.8h1V566.9h1V576.1h-1V576.8h-1V573.6h-1zM1641.4 569.8V565.2h1V562.6h1V561.5h1V564.6h1V564.7h1V565.5h1h1V566.1h1V566.7h1V564.8h1V561.6h1V573.9h-1V573.7h-1V575.3h-1V574.5h-1V573.8h-1h-1V575.1h-1V573.8h-1V573.5h-1V574.7h-1V573.5h-1zM1670.4 569.8V567.3h1V566.8h1V566.9h1V575.7h-1V576.3h-1V573.5h-1z" fill="#ff0000"/>
<use href="#nb1" x="230.4" y="593.24" fill="#0000ff"/>
<path d="M244.4 593.2V587.7h1V580.2h1V581.8h1V588h1V581.2h1V582.7h1V596.6h-1V596.7h-1V596h-1V596.6h-1V596.7h-1V596h-1zM259.4 593.2V589.8h1V587.5h1V588h1V601.2h-1V602.2h-1V597.6h-1zM265.4 593.2V590.7h1V590.2h1V590.3h1V598.7h-1V599.2h-1V596.7h-1zM281.4 593.2V589.5h1V586.2h1V586.9h1V596.1h-1V596.2h-1V595.8h-1zM302.4 593.2V589.8h1V587.5h1V588h1V596.1h-1V596.2h-1V595.8h-1zM582.4 593.2V590.7h1V590.2h1V590.3h1V597.8h-1V598.2h-1V596.4h-1zM1095.4 593.2V587.9h1V581h1V582.5h1V598.3h-1V598.7h-1V596.6h-1zM1167.4 593.2V590.1h1V588.2h1V588.6h1V596.1h-1V596.2h-1V595.8h-1zM1538.4 593.2V589.6h1V588.4h1V587h1V588h1V587.9h1V586.3h1V586.2h1V588.9h1V589.3h1V599.4h-1V597.5h-1V597.5h-1V599.4h-1V597.4h-1V596.2h-1V596.8h-1V601.2h-1V598.9h-1zM1559.4 593.2V589.3h1V585.7h1V586.5h1V597.6h-1V597.9h-1V596.3h-1zM1591.4 593.2V589.1h1V584.9h1V585.8h1V597.6h-1V597.9h-1V596.3h-1zM1618.4 593.2V589.8h1V587.5h1V588h1V597.6h-1V597.9h-1V596.3h-1zM1632.4 593.2V588.9h1V584.2h1V585.2h1V597h-1V597.2h-1V596.1h-1zM1642.4 593.2V589.5h1V586.2h1V586.9h1V597.6h-1V597.9h-1V596.3h-1zM1669.4 593.2V588.9h1V584.4h1V585.4h1V597.6h-1V597.9h-1V596.3h-1z" fill="#0000ff"/>
<use href="#nb4" x="230.4" y="616.64" fill="#008000"/>
<path d="M265.4 616.6V614.1h1V613.6h1V613.7h1V621.7h-1V622.1h-1V620h-1zM272.4 616.6V611.8h1V606.2h1V607.4h1V619.6h-1V619.6h-1V619.2h-1zM656.4 616.6V613.5h1V611.6h1V612h1V625h-1V626h-1V621.1h-1zM683.4 616.6V613.4h1V611.4h1V611.9h1V619.6h-1V619.6h-1V619.2h-1zM903.4 616.6V613.2h1V610.6h1V611.2h1V624.3h-1V625.2h-1V620.9h-1zM922.4 616.6V612.3h1V607.7h1V608.7h1V624.7h-1V625.6h-1V621h-1zM1105.4 616.6V613.4h1V611.4h1V611.9h1V623.2h-1V623.9h-1V620.5h-1zM1117.4 616.6V614.1h1V613.6h1V613.7h1V621h-1V621.3h-1V619.7h-1zM1123.4 616.6V613.4h1V611.4h1V611.9h1V623.2h-1V623.9h-1V620.5h-1zM1337.4 616.6V613.4h1V611.4h1V611.9h1V623.2h-1V623.9h-1V620.5h-1zM1419.4 616.6V612.7h1V609h1V609.8h1V622.1h-1V622.6h-1V620.1h-1zM1457.4 616.6V614.1h1V613.6h1V613.7h1V623.2h-1V623.9h-1V620.5h-1zM1502.4 616.6V612.5h1V608.3h1V609.2h1V619.6h-1V619.6h-1V619.2h-1zM1588.4 616.6V613.4h1V611.4h1V611.9h1V619.6h-1V619.6h-1V619.2h-1z" fill="#008000"/>
<use href="#nb2" x="230.4" y="640.05" fill="#000000"/>
<path d="M713.4 640V637.5h1V637h1V637.1h1V644.2h-1V644.5h-1V643.1h-1z" fill="#000000"/>
<use href="#nb0" x="230.4" y="663.45" fill="#ff0000"/>
<path d="M446.4 663.5V660.4h1V659h1V659.3h1V666.4h-1V666.5h-1V666h-1zM608.4 663.5V659.4h1V655.7h1V656.5h1V676h-1V677.8h-1V669.4h-1zM616.4 663.5V660.4h1V659h1V659.3h1V672.3h-1V673.5h-1V668.1h-1zM652.4 663.5V659.1h1V654.5h1V655.4h1V668.9h-1V669.5h-1V666.9h-1z" fill="#ff0000"/>
<use href="#nb3" x="230.4" y="686.85" fill="#0000ff"/>
<path d="M577.4 686.9V684h1h1V682.9h1V683.4h1V683.7h1V683.9h1V679.3h1V667.4h1V669.9h1V683.7h1V684h1V693.4h-1V690.6h-1V698.3h-1V699.9h-1V692.4h-1V690.3h-1V690.7h-1V690.4h-1V690.5h-1V690.7h-1V691.5h-1zM593.4 686.9V682.7h1V678.6h1V679.4h1V691.2h-1V691.6h-1V689.9h-1zM600.4 686.9V681.4h1V674.2h1V675.7h1V697.8h-1V699.4h-1V692.3h-1zM609.4 686.9V683.3h1V683.6h1h1h1V683.4h1V682.9h1V683.5h1V683.7h1V683.4h1V683.8h1V683.7h1V683.1h1V683.3h1V683.1h1V682.9h1V690.5h-1V690.9h-1V690.2h-1V690.2h-1V690.8h-1V690.6h-1V690.8h-1V690.4h-1V690.3h-1V690.6h-1V690.8h-1V690.1h-1V689.9h-1V690.3h-1V689.9h-1zM640.4 686.9V682.6h1V682.2h1V681h1V679.9h1V683.7h1V680.1h1V670h1V672.1h1V681.6h1V680.6h1V690.4h-1V691.1h-1V703.8h-1V706.4h-1V694.4h-1V691.4h-1V690.6h-1V693.9h-1V691.7h-1V690.5h-1zM663.4 686.9V680.6h1V671.5h1V673.4h1V684h1V682.9h1V683.1h1V692.3h-1V692.9h-1V690.3h-1V692.3h-1V692.9h-1V690.3h-1zM693.4 686.9V683.5h1V682.6h1V683.5h1h1V682.7h1V682.8h1V683.3h1V683.1h1V682.5h1V682.4h1V683.8h1V683.8h1V691.2h-1V690.6h-1V690.5h-1h-1V698.6h-1V694.1h-1V694h-1V695.9h-1V694.9h-1V696.5h-1V693.3h-1V691.8h-1zM844.4 686.9V684.3h1V683.9h1V683.9h1V691.2h-1V691.6h-1V689.9h-1zM1003.4 686.9V679.3h1V681.6h1V682.8h1V681.7h1V679.4h1V680.7h1V681.5h1V676.9h1V682.8h1V693h-1V691.1h-1V689.9h-1V690h-1V690.5h-1V694.9h-1V691.1h-1V693.2h-1V692.9h-1zM1016.4 686.9V684.3h1V683.9h1V683.9h1V692.7h-1V693.4h-1V690.5h-1zM1069.4 686.9V681.9h1V675.9h1V677.1h1V693.4h-1V694.2h-1V690.7h-1zM1081.4 686.9V683.5h1V683.6h1V683.4h1V683h1V680.4h1V680.9h1V681.4h1V680.5h1V689.9h-1h-1V690h-1V689.8h-1V689.7h-1V690.4h-1V689.9h-1V690.2h-1zM1108.4 686.9V683.2h1V680.4h1V681h1V693.4h-1V694.2h-1V690.7h-1zM1114.4 686.9V682.2h1V676.9h1V678h1V684.3h1V683.9h1V683.9h1V693.4h-1V694.2h-1V690.7h-1V692.7h-1V693.4h-1V690.5h-1zM1126.4 686.9V682.9h1V679.4h1V680.1h1V689.8h-1V689.9h-1V689.4h-1zM1145.4 686.9V683.8h1V682.4h1V682.7h1V689.8h-1V689.9h-1V689.4h-1zM1153.4 686.9V682.5h1V678h1V678.9h1V692.3h-1V692.9h-1V690.3h-1zM1162.4 686.9V683.7h1V683.1h1V683.7h1V689.7h-1h-1V689.7h-1zM1166.4 686.9V683.4h1V682.6h1V683.4h1V682.4h1V689.8h-1h-1h-1V689.9h-1zM1178.4 686.9V682.1h1V676.5h1V677.7h1V682.4h1V683h1V683.2h1V682.3h1V682.5h1V682.1h1V683h1V681.2h1V683.1h1V682.3h1V690.8h-1V690.4h-1V690.6h-1V692.4h-1V690.4h-1V690h-1V690.3h-1V690.9h-1V690.3h-1V690h-1V695.7h-1V696.9h-1V691.5h-1zM1401.4 686.9V682.9h1V683.1h1V689.8h-1V689.9h-1zM1491.4 686.9V680.2h1V682h1V682.8h1V680.9h1V681.4h1V683.9h1V683.6h1V683.1h1V683.2h1V682.8h1V681.3h1V680.1h1V670h1V672.1h1V683.7h1V683.6h1V682.8h1V682.2h1V680.7h1V679.9h1V681.8h1V682.9h1V682.7h1V681.1h1V690h-1V689.8h-1h-1V690.1h-1V691.4h-1V693.8h-1V691.9h-1V691.1h-1V690.8h-1V691.1h-1V695.2h-1V696.3h-1V691.4h-1V692.1h-1V691.4h-1V691.6h-1V690.4h-1V689.9h-1V690.4h-1V698.5h-1V700.2h-1V692.5h-1V693.4h-1V691.2h-1zM1538.4 686.9V684.3h1V683.9h1V683.9h1V694.9h-1V695.9h-1V691.2h-1zM1543.4 686.9V683.1h1V679.9h1V680.5h1V689.8h-1V689.9h-1V689.4h-1zM1593.4 686.9V680.6h1V671.5h1V673.4h1V694.5h-1V695.5h-1V691.1h-1zM1604.4 686.9V679.5h1V668.1h1V670.5h1V691.9h-1V692.4h-1V690.2h-1zM1612.4 686.9V684.3h1V683.9h1V683.9h1V694.5h-1V695.5h-1V691.1h-1zM1628.4 686.9V684h1V682.9h1V683.1h1V693.4h-1V694.2h-1V690.7h-1z" fill="#0000ff"/>
<use href="#nb1" x="230.4" y="710.26" fill="#008000"/>
<path d="M324.4 710.3V707.7h1V707.3h1V707.3h1V715.7h-1V716.3h-1V713.7h-1zM348.4 710.3V707.7h1V707.3h1V707.3h1V725.1h-1V727.3h-1V717h-1zM355.4 710.3V700.8h1V684.3h1V687.8h1V702.6h1V690.3h1V692.9h1V706.8h1V706.7h1V706.9h1h1V707h1V707.2h1V707.3h1V707.1h1V705.8h1V706.9h1V706.8h1V714.5h-1V714.4h-1V714.3h-1V714.7h-1V714h-1V713.8h-1V714h-1V714.1h-1V714.8h-1V713.3h-1V713.1h-1V725.1h-1V727.3h-1V717h-1V725.1h-1V727.3h-1V717h-1zM404.4 710.3V707.4h1V706.3h1V706.5h1V718.3h-1V719.3h-1V714.6h-1zM439.4 710.3V705.4h1V706.3h1V705.3h1V707.1h1V700.8h1V684.3h1V687.8h1V706.2h1V706.9h1V707.3h1V707h1V706.5h1V706.6h1V714.9h-1V714.3h-1V714.1h-1V714.5h-1V714.7h-1V715.7h-1V728.5h-1V731.3h-1V718.2h-1V714.8h-1V715.3h-1V715.8h-1V714.7h-1zM738.4 710.3V705.9h1V701.4h1V702.3h1V715.7h-1V716.3h-1V713.7h-1zM782.4 710.3V706.3h1V704.6h1V706.3h1V703.8h1V707.4h1h1h1V714.1h-1V714.2h-1V718.9h-1V713.7h-1V714.4h-1V716.4h-1V714.4h-1zM801.4 710.3V707.7h1V707.3h1V707.3h1V714.9h-1V715.3h-1V713.4h-1z" fill="#008000"/>
<use href="#nb4" x="230.4" y="733.66" fill="#000000"/>
<path d="M1668.4 733.7V728.8h1V728.3h1V729.6h1V729.3h1V728.2h1V726.1h1V728.5h1h1V727.2h1V738.1h-1V737.1h-1V739.2h-1V743.6h-1V740.4h-1V739.7h-1V739.2h-1V740.1h-1V737.9h-1zM1684.4 733.7V727.4h1V718.3h1V720.2h1V743.5h-1V744.9h-1V738.7h-1z" fill="#000000"/>
<use href="#nb2" x="230.4" y="757.07" fill="#ff0000"/>
<path d="M230.4 757.1V751.6h1V752h1V762.1h-1V762.6h-1zM243.4 757.1V753.9h1V752.1h1V752.5h1V763.6h-1V764.4h-1V760.9h-1zM249.4 757.1V747.5h1V752h1V748.7h1V751.6h1V753.1h1V753.8h1V765.7h-1V760.9h-1V761.3h-1V762.9h-1V762.5h-1V761.5h-1zM762.4 757.1V754.5h1V754.1h1V754.2h1V761.7h-1V762.1h-1V760.2h-1zM1149.4 757.1V747.5h1V752.7h1V753.9h1V753.6h1V752.6h1V753.6h1V761.2h-1V763.3h-1V761.9h-1V766.1h-1V761.4h-1V763.6h-1zM1183.4 757.1V754.1h1V751.6h1V753.1h1V761.2h-1V763.6h-1V760.4h-1zM1223.4 757.1V754.5h1V754.1h1V754.2h1V762.5h-1V763.1h-1V760.5h-1zM1270.4 757.1V745.8h1V725.3h1V729.7h1V761.7h-1V762.1h-1V760.2h-1zM1275.4 757.1V754.2h1V753.1h1V753.3h1V768.7h-1V770.4h-1V762.7h-1zM1288.4 757.1V752.1h1V746.1h1V747.4h1V753.9h1V752.1h1V752.5h1V766.8h-1V768.1h-1V762h-1V767.4h-1V768.8h-1V762.3h-1zM1325.4 757.1V754.5h1V754.1h1V754.2h1V762.5h-1V763.1h-1V760.5h-1zM1340.4 757.1V754.5h1V754.1h1V754.2h1V762.5h-1V763.1h-1V760.5h-1zM1379.4 757.1V747.1h1V753.6h1V752.6h1V752.8h1V753.7h1V752.6h1V750.2h1V751.2h1V750.8h1V762.6h-1V762.3h-1V763.2h-1V761.6h-1V760.9h-1V762.5h-1V767h-1V762.2h-1V760.1h-1zM1399.4 757.1V753.7h1V751.6h1V752h1V760h-1V760.1h-1V759.6h-1zM1412.4 757.1V754h1V752.6h1V752.9h1V760.8h-1V761.1h-1V759.9h-1zM1419.4 757.1V754.5h1V754.1h1V754.2h1V750.3h1V740.1h1V742.3h1V760h-1V760.1h-1V759.6h-1V765.3h-1V766.4h-1V761.5h-1zM1434.4 757.1V752.5h1V753.5h1V754.2h1V754.2h1V753.4h1V752h1V752.4h1V751.8h1V750.3h1V751.7h1V751.9h1V750.3h1V752.7h1V753.8h1V753.5h1V753.2h1V752.4h1V753h1V750.1h1V754h1V753.9h1V753.5h1V750.3h1V740.1h1V742.3h1V753h1V754h1V760h-1V760.7h-1V761.9h-1V761h-1V760.6h-1h-1V760.3h-1V760h-1V760.1h-1V760.4h-1V760.8h-1V760.4h-1V760.3h-1V760.7h-1V769.1h-1V770.8h-1V762.9h-1V760.8h-1V761.5h-1V763h-1V761.8h-1V761.5h-1V760.7h-1V763.1h-1V760.6h-1V760.7h-1V761.2h-1zM1464.4 757.1V753.7h1V751.6h1V752h1V760h-1V760.1h-1V759.6h-1zM1547.4 757.1V751.2h1V748.8h1V753.7h1V752.8h1V750.6h1V751.8h1h1V751.1h1V748.9h1V751.9h1V753.7h1V752.1h1V749.4h1V760.8h-1V763.1h-1V767.9h-1V767.7h-1V765.5h-1V766.2h-1V775.3h-1V778.1h-1V765h-1V764.5h-1V769.6h-1V762.5h-1V763.4h-1zM1572.4 757.1V753.7h1V751.6h1V752h1V769.1h-1V770.8h-1V762.9h-1z" fill="#ff0000"/>
<use href="#nb0" x="230.4" y="780.47" fill="#0000ff"/>
<use href="#nb3" x="230.4" y="803.87" fill="#008000"/>
<use href="#nb1" x="230.4" y="827.28" fill="#000000"/>
<path d="M657.4 827.3V823.9h1V821.6h1V822.1h1V832.5h-1V833h-1V830.7h-1z" fill="#000000"/>
<use href="#nb4" x="230.4" y="850.68" fill="#ff0000"/>
<use href="#nb2" x="230.4" y="874.09" fill="#0000ff"/>
<use href="#nb0" x="230.4" y="897.49" fill="#008000"/>
<use href="#nb3" x="230.4" y="920.89" fill="#000000"/>
<use href="#nb1" x="230.4" y="944.30" fill="#ff0000"/>
<use href="#nb4" x="230.4" y="967.70" fill="#0000ff"/>
<use href="#nb2" x="230.4" y="991.11" fill="#008000"/>
<path d="M1311.4 991.1V988.5h1V988.1h1V988.2h1V995.3h-1V995.6h-1V994.1h-1zM1571.4 991.1V988.5h1V988.1h1V988.2h1V997h-1V997.6h-1V994.7h-1z" fill="#008000"/>
<use href="#nb0" x="230.4" y="1014.51" fill="#000000"/>
<path d="M401.4 1014.5V1011.9h1V1011.5h1V1011.6h1V1018.7h-1V1019h-1V1017.5h-1zM429.4 1014.5V1011.9h1V1011.5h1V1011.6h1V1018.7h-1V1019h-1V1017.5h-1zM462.4 1014.5V1011.5h1V1010h1V1010.3h1V1017.4h-1V1017.5h-1V1017.1h-1zM479.4 1014.5V1011.5h1V1011.1h1V1010.9h1V1010.4h1V1011.1h1V1011.4h1V1011.1h1V1010.7h1V1011.3h1V1011.6h1V1011.4h1V1011h1V1010.9h1V1010.3h1V1010.8h1V1010.9h1V1011.1h1V1010.5h1V1008.9h1V1006.8h1V1006.2h1V1010.5h1V1008.9h1V1007.2h1V1009.9h1V1010.9h1V1010.6h1V1010.7h1V1010.4h1V1010.6h1V1011.2h1V1011.5h1V1011.6h1V1011.2h1V1010.5h1V1010.8h1V1010.7h1V1011.3h1V1011.4h1V1011.4h1V1010.9h1V1011.3h1V1011.6h1V1011.6h1V1011.2h1V1010.5h1V1010.8h1V1010.6h1V1011.2h1V1011.1h1V1010.6h1V1010.5h1V1010.4h1V1011.1h1V1011.4h1V1011.1h1V1010.6h1V1011.2h1V1011.6h1V1011.5h1V1011.3h1V1010.8h1V1011.2h1V1011.4h1V1011.2h1V1010.8h1V1011h1V1011.3h1V1011.3h1h1V1011.3h1V1010.8h1V1011.2h1V1011.2h1V1010.7h1V1007.6h1V997.1h1V999.4h1V1011.4h1V1011.2h1V1010.9h1V1010.9h1V1011.3h1V1011.1h1V1010.6h1V1010.9h1h1V1011.2h1V1011.3h1V1011.5h1V1011.4h1V1011.1h1h1V1010.9h1V1011.3h1V1011.4h1V1011.3h1V1010.9h1V1011.3h1h1V1011.2h1h1V1011h1V1010.7h1V1010.4h1V1010.7h1V1009.8h1V1004.4h1V1005.6h1V1011.3h1V1011.2h1V1011.2h1V1010.5h1V1010.8h1V1010.3h1V1010.6h1V1010.3h1V1011h1V1011.4h1V1011.1h1V1011h1V1011.4h1V1011.1h1V1011h1V1010.6h1V1010.7h1V1010.4h1V1011h1V1011.2h1V1011h1V1010.5h1V1006.9h1V1007.7h1V1010.9h1V1010.5h1V1011.1h1h1V1010.8h1V1011.1h1V1011h1V1010.3h1V1010.8h1V1010.9h1V1010.8h1V1011.3h1V1010.5h1V1006.7h1V1007.5h1V1008.6h1V1000.4h1V1002.2h1V1011.1h1h1V1011.3h1V1010.7h1V1010.4h1V1011.1h1V1011.1h1V1010.9h1V1010.5h1V1006.7h1V1007.5h1V1011.1h1V1010.9h1V1010.4h1V1010.9h1h1V1011.3h1V1011.2h1V1008.6h1V1009.8h1V1009.9h1h1V1008.5h1V1005.5h1V990h1V993.3h1V1010.6h1V1011h1V1009.4h1V1003.2h1V1004.5h1V1010.8h1V1010.6h1V1011h1V1011.3h1V1011.4h1V1010.7h1V1007.5h1V1008.2h1V1011.2h1h1V1011.3h1V1011.4h1V1011h1V1010.8h1V1011h1h1V1010.7h1V1011.1h1V1011.1h1V1008.8h1V1001.1h1V1002.8h1V1011.5h1h1V1011.2h1V1011.3h1V1008.7h1V1000.6h1V1002.3h1V1009.8h1V1004.5h1V1005.6h1V1011.1h1V1011.1h1V1010.9h1V1011.3h1V1011.4h1h1V1010.7h1V1007.5h1V1008.2h1V1010.4h1V1011h1V1010.9h1V1010.7h1V1007.5h1V1008.2h1V1011.2h1V1011.6h1V1011.4h1V1011h1V1010.5h1V1011h1h1V1010.4h1V1010.7h1V1010.4h1V1011.2h1V1011.6h1h1V1011.6h1V1011.4h1V1010.9h1V1011.3h1V1011.2h1V1010.6h1V1011.1h1h1V1010.8h1V1011.1h1V1011h1V1010.5h1V1011.2h1V1011.5h1V1011.2h1V1011.3h1h1V1011.1h1V1011.3h1V1011.2h1V1010.5h1V1010.6h1V1010.9h1V1010.9h1V1011.1h1V1011.1h1V1010.7h1V1011.1h1V1011h1V1010.5h1V1011.2h1V1011.5h1h1V1011.2h1V1010.7h1V1010.8h1V1011.2h1V1011.4h1h1V1010.7h1V1007.5h1V1008.2h1V1011.2h1V1011.1h1V1010.8h1V1010.8h1V1010.5h1V1011.2h1V1011.5h1V1011.3h1V1011.2h1V1009.9h1V1007.1h1V1009.8h1V1005.5h1V1011h1V1010h1V1010.2h1V1009.5h1V1010.8h1V1011.4h1h1V1010.9h1V1011.4h1V1011h1V1010.3h1V1005.6h1V990.5h1V993.8h1V1011h1V1010.8h1V1011.3h1V1011.4h1V1011.3h1V1010.8h1V1011.1h1V1011.2h1V1011.3h1V1011.1h1V1011.4h1h1V1011.1h1V1010.7h1V1011.3h1V1009h1V1001.7h1V1003.3h1V1011.1h1h1V1010.9h1V1010.9h1V1010.6h1V1011.3h1V1017.6h-1V1017.5h-1V1017.6h-1V1017.7h-1V1017.8h-1V1018.1h-1V1019.1h-1V1019.5h-1V1018.3h-1V1018.1h-1V1018.4h-1V1017.8h-1V1017.8h-1V1018.4h-1V1018.2h-1h-1V1018.5h-1V1018.2h-1V1018.1h-1V1018.3h-1V1017.9h-1V1017.7h-1V1017.8h-1V1018.1h-1V1028.1h-1V1030.1h-1V1020.9h-1V1017.8h-1V1017.7h-1V1017.9h-1V1018.5h-1V1017.8h-1V1017.6h-1V1020.6h-1V1024.5h-1V1021.4h-1V1020.4h-1V1021h-1V1018.8h-1V1018.2h-1V1018.5h-1V1018.3h-1V1019.1h-1V1017.6h-1V1017.8h-1V1018.6h-1V1017.8h-1V1017.3h-1V1017.5h-1V1017.9h-1V1018.3h-1V1018.1h-1V1018.3h-1V1017.8h-1V1017.5h-1V1017.4h-1h-1V1017.5h-1V1017.7h-1V1018.1h-1V1018.5h-1V1017.8h-1V1017.5h-1V1017.4h-1V1017.9h-1V1018.7h-1V1017.9h-1V1017.5h-1V1017.9h-1V1018.6h-1V1018.3h-1V1018.4h-1V1018.1h-1h-1V1018h-1V1018.2h-1V1017.8h-1h-1V1018.6h-1V1018h-1V1017.8h-1V1017.8h-1V1017.9h-1V1017.6h-1V1017.5h-1V1017.8h-1V1018.4h-1V1018.5h-1V1020h-1V1020.5h-1V1018.1h-1V1018.1h-1V1018.6h-1V1018.8h-1V1018.3h-1V1018.2h-1V1018.4h-1V1018.7h-1V1018.7h-1V1019.5h-1V1018.6h-1V1018.4h-1V1019.4h-1V1018.7h-1h-1h-1V1028.6h-1V1030.6h-1V1021h-1V1018.5h-1V1018.2h-1V1018.5h-1V1019.3h-1V1019h-1V1019.1h-1V1019.2h-1V1018.5h-1h-1V1017.8h-1V1018.3h-1V1019.5h-1V1020h-1V1020.5h-1V1018.7h-1V1019.1h-1V1019.5h-1V1019.7h-1V1019.1h-1V1018.1h-1V1018.2h-1V1018.3h-1V1028.1h-1V1030.1h-1V1020.9h-1V1019.4h-1h-1V1019h-1V1018.6h-1V1018.2h-1V1018.1h-1V1018h-1V1018.6h-1V1018.4h-1V1017.9h-1V1017.7h-1V1025.1h-1V1026.5h-1V1019.8h-1V1018.4h-1V1018.5h-1V1018.2h-1V1018.4h-1V1019.1h-1V1039.1h-1V1043h-1V1024.7h-1V1019.5h-1V1018.9h-1V1021.7h-1V1022.5h-1V1021.3h-1V1022.4h-1V1023.3h-1V1020.1h-1V1024.2h-1V1021.1h-1V1018.3h-1V1018.2h-1V1018.1h-1h-1V1018.5h-1V1018.9h-1V1018.7h-1V1021.1h-1V1021.8h-1V1018.7h-1V1018.3h-1h-1V1018.4h-1V1018.4h-1V1018.2h-1V1018.2h-1V1018.8h-1V1018.4h-1V1038.7h-1V1042.5h-1V1024.6h-1V1022.5h-1V1023.5h-1V1019.5h-1V1018.5h-1h-1V1019.1h-1V1019h-1V1018.3h-1V1018.6h-1V1019.5h-1V1018.8h-1V1018.9h-1V1018.2h-1V1018.6h-1V1018.7h-1V1026.9h-1V1028.6h-1V1020.4h-1V1019h-1V1019.6h-1V1019.4h-1V1019.1h-1V1019.7h-1V1018.9h-1h-1V1018.6h-1V1018.1h-1V1018.1h-1V1018.3h-1V1018.2h-1V1018.5h-1V1018.6h-1V1018.3h-1V1018.4h-1V1026h-1V1027.6h-1V1020.1h-1V1018.2h-1V1017.9h-1V1019.1h-1V1019.5h-1V1017.8h-1V1017.7h-1h-1V1017.9h-1V1018.5h-1V1018.4h-1h-1V1019.1h-1V1019h-1h-1V1018.3h-1V1017.9h-1V1018.3h-1V1019.4h-1V1018.4h-1V1018h-1h-1h-1V1018.1h-1V1018.4h-1V1019.2h-1V1018.1h-1V1017.9h-1V1018.2h-1V1018.6h-1V1019.4h-1V1018.9h-1V1019.3h-1V1019.6h-1V1019.4h-1V1019.5h-1V1018.4h-1V1019.4h-1V1018.9h-1V1018.7h-1V1018.4h-1V1018.8h-1V1018.3h-1V1018h-1V1018.3h-1V1018.6h-1V1018.3h-1V1019.1h-1V1018.4h-1h-1V1018.1h-1V1017.9h-1V1018.1h-1V1018.6h-1V1018.1h-1V1017.7h-1V1017.4h-1V1017.6h-1V1018h-1V1017.8h-1V1017.8h-1V1017.8h-1h-1V1018.1h-1V1017.9h-1V1017.7h-1V1017.5h-1V1017.7h-1V1018.3h-1V1018.1h-1h-1V1017.9h-1h-1V1017.8h-1V1017.9h-1V1017.9h-1V1018.1h-1V1018h-1V1018.2h-1h-1V1017.7h-1V1017.4h-1V1017.8h-1V1018.6h-1V1018h-1V1017.9h-1V1017.6h-1V1019.4h-1V1020.2h-1h-1V1019.4h-1V1019.8h-1V1018.8h-1V1020.5h-1V1018.2h-1V1018.3h-1V1018.4h-1V1017.6h-1h-1V1018h-1V1018.1h-1V1018.6h-1V1018.3h-1V1018.6h-1V1018.2h-1V1018.1h-1V1018.4h-1V1018.7h-1V1020.6h-1V1021.3h-1V1018.2h-1V1018.4h-1zM815.4 1014.5V1011.4h1V1011h1h1V1010.7h1V1011.1h1V1011.3h1V1011.5h1V1011.7h1V1011.5h1V1011.2h1V1010.6h1V1011.1h1h1V1010.6h1V1011.1h1V1011.3h1V1010h1V1004.9h1V1006h1V1011.4h1V1011.6h1h1V1011.5h1V1009.4h1V1003h1V1004.4h1V1011.3h1V1011h1V1011.2h1h1V1011.4h1h1V1011.1h1V1010.6h1V1011.1h1V1011.4h1V1011.3h1V1010h1V1004.9h1V1006h1V1011h1V1010.9h1V1011.4h1V1011.1h1V1010.4h1V1011.2h1V1011.5h1V1011.2h1V1010.7h1V1011.3h1V1011.5h1V1011.1h1V1011.3h1V1011.5h1V1011.4h1V1010.9h1V1011.4h1V1011.6h1V1011.4h1V1010.9h1V1011.4h1h1V1011h1V1011.1h1V1011.2h1V1011h1V1011.2h1V1011.3h1V1011.3h1V1011.2h1V1010.9h1V1010.5h1V1011.2h1V1011.6h1V1011.5h1V1011.3h1V1017.6h-1V1018h-1V1017.6h-1V1017.5h-1h-1V1017.4h-1V1017.5h-1V1017.7h-1V1017.8h-1V1018.2h-1V1017.7h-1V1017.4h-1h-1h-1V1017.6h-1V1017.4h-1V1017.4h-1V1017.6h-1V1018h-1V1017.7h-1V1017.8h-1V1018.5h-1V1018h-1V1017.8h-1V1017.6h-1V1017.5h-1V1017.4h-1V1017.6h-1V1018.1h-1V1017.8h-1h-1V1017.7h-1h-1V1017.9h-1h-1V1018.1h-1V1017.8h-1h-1h-1V1017.9h-1V1018.4h-1V1017.8h-1V1017.9h-1V1018.6h-1V1018h-1V1017.6h-1V1017.8h-1V1017.7h-1V1017.9h-1V1018h-1V1022.2h-1V1023.1h-1V1018.8h-1V1017.7h-1V1018.3h-1V1017.7h-1h-1V1018.7h-1V1019h-1V1017.8h-1V1017.6h-1h-1h-1V1017.7h-1V1018h-1V1018.6h-1V1018.3h-1V1018.4h-1V1017.8h-1V1017.5h-1V1017.9h-1V1017.6h-1V1017.9h-1V1018.7h-1V1018.4h-1V1017.7h-1zM892.4 1014.5V1011.7h1V1011.3h1V1010.7h1V1011h1V1011.4h1V1011.6h1h1V1011.3h1V1010.8h1V1011.2h1V1011.3h1V1011.5h1V1011.6h1V1011.5h1V1003.3h1V982.7h1V987.1h1V1011.5h1h1V1011.4h1h1V1011.3h1V1010.8h1V1010.9h1V1010.5h1V1010.7h1V1010.4h1h1V1010.9h1V1011.1h1V1011.3h1V1011.2h1V1010.6h1V1011.1h1V1011.2h1h1V1011.4h1V1011.5h1h1V1011.4h1V1010.9h1V1011.2h1V1010.7h1V1010.4h1V1006.5h1V1004.9h1V1003.5h1V1010.9h1V1011.3h1V1011.5h1V1011.2h1V1010.7h1V1011.1h1V1011.4h1V1011.6h1V1011.2h1V1010.6h1h1h1V1011.2h1V1011.4h1h1V1011.1h1V1011.5h1h1V1011.4h1V1017.5h-1V1017.8h-1V1018.6h-1V1017.9h-1V1017.8h-1V1018.4h-1V1017.8h-1V1017.5h-1h-1h-1V1017.6h-1V1017.7h-1V1017.8h-1V1017.5h-1V1017.7h-1V1018.3h-1V1018.3h-1V1018.1h-1V1018.4h-1V1021.6h-1V1032.5h-1V1035.3h-1V1022.4h-1h-1V1019.4h-1V1018.5h-1V1018h-1V1017.7h-1V1017.6h-1V1018h-1V1017.7h-1V1017.9h-1V1018.6h-1V1018.4h-1V1018.7h-1V1018.2h-1h-1V1017.7h-1V1017.4h-1h-1V1017.7h-1V1017.5h-1V1017.6h-1V1018.1h-1V1017.6h-1V1017.3h-1h-1V1017.7h-1V1018.2h-1V1032.5h-1V1035.3h-1V1022.4h-1V1018.1h-1V1017.8h-1V1017.7h-1h-1V1017.5h-1V1017.4h-1V1017.8h-1V1018.5h-1V1018h-1V1017.9h-1V1017.6h-1V1017.7h-1V1018.2h-1V1017.7h-1zM959.4 1014.5V1011.3h1V1010.8h1V1011h1V1010.9h1V1011.1h1h1V1011.2h1V1011.1h1V1011.4h1V1011.7h1V1011.6h1V1011.4h1V1011.1h1V1011.5h1V1011.4h1V1010.9h1V1010.5h1V1010.7h1V1010.4h1V1008.8h1V1009.3h1V1010.9h1h1h1V1011.3h1V1017.5h-1h-1V1017.7h-1V1018.2h-1h-1V1018.6h-1V1017.9h-1V1017.6h-1V1018h-1V1018.6h-1V1018.2h-1V1017.7h-1V1017.3h-1V1017.7h-1V1018.3h-1V1018.1h-1V1018.1h-1V1017.9h-1h-1V1018.2h-1V1018.5h-1V1017.8h-1V1017.5h-1h-1h-1zM985.4 1014.5V1010.3h1V1011.1h1V1010.7h1V1011.3h1V1011.7h1V1011.6h1V1011.3h1V1010.8h1V1011h1V1010.8h1V1010.4h1V1010.7h1V1010.5h1V1011.1h1h1V1010.8h1h1V1007.5h1V1008.2h1V1011.5h1V1017.5h-1V1017.7h-1V1017.8h-1V1018.1h-1V1017.6h-1V1017.3h-1V1017.4h-1V1017.5h-1V1017.9h-1V1018.7h-1V1017.9h-1V1017.6h-1V1017.8h-1V1018.2h-1V1017.7h-1h-1V1017.9h-1V1018h-1V1018.3h-1V1017.7h-1zM1006.4 1014.5V1011.5h1V1011.3h1V1011.4h1V1011.2h1V1010.6h1V1010.7h1V1011h1h1V1010.9h1V1010.6h1V1010.8h1V1010.5h1V1011.1h1V1011.4h1h1V1011.3h1V1011.1h1h1V1010.7h1V1011.3h1V1011.6h1h1V1011.5h1V1011.1h1V1008.8h1V1009.3h1V1011.5h1V1011.6h1V1011.3h1V1010.9h1V1011.1h1V1011.2h1V1011.3h1h1V1011.5h1V1011.4h1V1010.9h1V1010.9h1V1005.6h1V990.5h1V993.8h1V1004.5h1V1005.6h1V1011.5h1V1011.4h1V1011.5h1V1011.6h1h1V1011.5h1V1011.3h1V1011.5h1V1011.7h1V1011.4h1V1011h1h1V1011.4h1V1011.1h1V1010.5h1V1010.7h1V1011.3h1V1011.6h1V1011.4h1V1011.5h1h1h1V1011.2h1V1010.6h1V1011.2h1V1011.5h1V1011.3h1V1010.6h1V1011.2h1V1011.4h1h1V1011.1h1V1011.4h1V1011.2h1V1010.4h1V1010.8h1V1011.1h1V1011h1V1010.5h1V1011.1h1V1009.9h1V1007.1h1V1003h1V1007.7h1V1005.3h1V1010.9h1V1010.4h1V1010.7h1V1010.6h1V1010.8h1V1010.5h1V1010.9h1h1V1011.3h1V1011.4h1V1011.3h1V1011.1h1V1010.5h1V1010.8h1V1010.7h1V1011.3h1V1011.7h1h1V1011.5h1V1011.3h1h1V1011.1h1V1010.7h1V1010.5h1V1011.2h1V1011.1h1V1008.8h1V1009.3h1V1011.1h1V1011.4h1V1011.5h1V1011.6h1V1011.3h1V1010.6h1V1011.2h1V1011.5h1V1018.2h-1V1017.7h-1V1017.8h-1V1018.5h-1V1018h-1V1017.7h-1V1017.9h-1V1018.1h-1V1021.1h-1V1021.8h-1V1018.4h-1V1018.7h-1V1017.9h-1V1017.7h-1V1017.8h-1V1018h-1V1018.5h-1V1018.2h-1V1018h-1h-1V1022.2h-1V1023.1h-1V1018.8h-1V1017.9h-1V1017.7h-1V1017.5h-1h-1V1017.7h-1V1017.9h-1V1017.8h-1V1017.8h-1V1017.6h-1V1017.5h-1V1017.7h-1h-1V1018h-1V1018.1h-1V1018.4h-1V1019.8h-1V1018.3h-1V1020.5h-1V1017.7h-1V1017.6h-1V1021.1h-1V1021.8h-1V1018.4h-1h-1V1017.7h-1h-1V1017.9h-1V1017.5h-1h-1V1017.6h-1V1017.7h-1V1017.9h-1V1017.9h-1V1018.1h-1V1018.4h-1V1018.1h-1V1017.8h-1V1017.7h-1V1017.8h-1V1017.9h-1V1018.4h-1V1018.1h-1V1018.2h-1V1017.7h-1V1017.4h-1h-1V1017.6h-1V1017.9h-1V1017.9h-1V1018.3h-1V1018.6h-1V1018.2h-1V1018.4h-1V1018.3h-1V1018.6h-1V1018.2h-1h-1h-1V1029.3h-1V1031.5h-1V1029.3h-1V1031.5h-1V1021.3h-1V1017.5h-1V1017.7h-1V1018.4h-1V1017.8h-1V1017.4h-1h-1V1017.3h-1V1017.5h-1V1017.7h-1V1018h-1V1018.6h-1V1018h-1h-1V1018.6h-1V1018.4h-1V1018.6h-1V1017.9h-1V1017.6h-1h-1V1017.8h-1V1017.5h-1V1017.4h-1V1017.4h-1V1017.7h-1V1018.1h-1V1017.7h-1V1017.5h-1V1017.9h-1V1018.5h-1V1018.7h-1V1018h-1V1017.7h-1V1017.6h-1V1017.4h-1V1022.9h-1V1024h-1V1019h-1V1017.8h-1zM1213.4 1014.5V1011.7h1V1011h1V1010h1V1011h1h1V1010.4h1V1011.1h1V1010h1V1011h1V1017.8h-1V1018.6h-1V1019.7h-1V1017.7h-1V1018.3h-1V1017.9h-1h-1h-1V1017.5h-1zM1230.4 1014.5V1008.6h1V1000.5h1V1002.2h1V1017.4h-1V1017.5h-1V1017.1h-1zM1297.4 1014.5V1011.5h1V1010h1V1010.3h1V1017.4h-1V1017.5h-1V1017.1h-1zM1317.4 1014.5V1011.9h1V1011.5h1V1011.6h1V1021.5h-1V1022.3h-1V1018.5h-1zM1323.4 1014.5V1010.7h1V1007.5h1V1008.2h1V1017.4h-1V1017.5h-1V1017.1h-1zM1378.4 1014.5V1011.5h1V1010h1V1010.3h1V1017.4h-1V1017.5h-1V1017.1h-1z" fill="#000000"/>
<use href="#nb3" x="230.4" y="1037.91" fill="#ff0000"/>
<path d="M1686.4 1037.9V1034.4h1V1031.9h1V1032.5h1V1040.8h-1V1040.9h-1V1040.5h-1z" fill="#ff0000"/>
<g clip-path="url(#ax42)"><use href="#nb1" x="230.4" y="1061.32" fill="#0000ff"/></g>
</g>
<rect x="230.5" y="60.5" width="1460" height="1020" fill="none" stroke="#000" stroke-width="1.1"/>
<path d="M230.5 79.5h-4.86M230.5 102.5h-4.86M230.5 126.5h-4.86M230.5 149.5h-4.86M230.5 173.5h-4.86M230.5 196.5h-4.86M230.5 219.5h-4.86M230.5 243.5h-4.86M230.5 266.5h-4.86M230.5 290.5h-4.86M230.5 313.5h-4.86M230.5 336.5h-4.86M230.5 360.5h-4.86M230.5 383.5h-4.86M230.5 406.5h-4.86M230.5 430.5h-4.86M230.5 453.5h-4.86M230.5 477.5h-4.86M230.5 500.5h-4.86M230.5 523.5h-4.86M230.5 547.5h-4.86M230.5 570.5h-4.86M230.5 593.5h-4.86M230.5 617.5h-4.86M230.5 640.5h-4.86M230.5 664.5h-4.86M230.5 687.5h-4.86M230.5 710.5h-4.86M230.5 734.5h-4.86M230.5 757.5h-4.86M230.5 781.5h-4.86M230.5 804.5h-4.86M230.5 827.5h-4.86M230.5 851.5h-4.86M230.5 874.5h-4.86M230.5 897.5h-4.86M230.5 921.5h-4.86M230.5 944.5h-4.86M230.5 968.5h-4.86M230.5 991.5h-4.86M230.5 1014.5h-4.86M230.5 1038.5h-4.86M230.5 1061.5h-4.86M230.5 1080.5v4.86M595.5 1080.5v4.86M960.5 1080.5v4.86M1325.5 1080.5v4.86M1690.5 1080.5v4.86" stroke="#000" stroke-width="1.1" fill="none"/>
<text x="220.4" y="83.40" text-anchor="end" font-size="11.11">00:00:10</text><text x="220.4" y="106.40" text-anchor="end" font-size="11.11">01:00:10</text><text x="220.4" y="130.40" text-anchor="end" font-size="11.11">02:00:10</text><text x="220.4" y="153.40" text-anchor="end" font-size="11.11">03:00:10</text><text x="220.4" y="177.40" text-anchor="end" font-size="11.11">04:00:10</text><text x="220.4" y="200.40" text-anchor="end" font-size="11.11">05:00:10</text><text x="220.4" y="223.40" text-anchor="end" font-size="11.11">06:00:10</text><text x="220.4" y="247.40" text-anchor="end" font-size="11.11">07:00:10</text><text x="220.4" y="270.40" text-anchor="end" font-size="11.11">08:00:10</text><text x="220.4" y="294.40" text-anchor="end" font-size="11.11">09:00:10</text><text x="220.4" y="317.40" text-anchor="end" font-size="11.11">10:00:10</text><text x="220.4" y="340.40" text-anchor="end" font-size="11.11">11:00:10</text><text x="220.4" y="364.40" text-anchor="end" font-size="11.11">12:00:10</text><text x="220.4" y="387.40" text-anchor="end" font-size="11.11">13:00:10</text><text x="220.4" y="410.40" text-anchor="end" font-size="11.11">14:00:10</text><text x="220.4" y="434.40" text-anchor="end" font-size="11.11">15:00:10</text><text x="220.4" y="457.40" text-anchor="end" font-size="11.11">16:00:10</text><text x="220.4" y="481.40" text-anchor="end" font-size="11.11">17:00:10</text><text x="220.4" y="504.40" text-anchor="end" font-size="11.11">18:00:10</text><text x="220.4" y="527.40" text-anchor="end" font-size="11.11">19:00:10</text><text x="220.4" y="551.40" text-anchor="end" font-size="11.11">20:00:10</text><text x="220.4" y="574.40" text-anchor="end" font-size="11.11">21:00:10</text><text x="220.4" y="597.40" text-anchor="end" font-size="11.11">22:00:10</text><text x="220.4" y="621.40" text-anchor="end" font-size="11.11">23:00:10</text><text x="220.4" y="644.40" text-anchor="end" font-size="11.11">00:00:10</text><text x="220.4" y="668.40" text-anchor="end" font-size="11.11">01:00:10</text><text x="220.4" y="691.40" text-anchor="end" font-size="11.11">02:00:10</text><text x="220.4" y="714.40" text-anchor="end" font-size="11.11">03:00:10</text><text x="220.4" y="738.40" text-anchor="end" font-size="11.11">04:00:10</text><text x="220.4" y="761.40" text-anchor="end" font-size="11.11">05:00:10</text><text x="220.4" y="785.40" text-anchor="end" font-size="11.11">06:00:10</text><text x="220.4" y="808.40" text-anchor="end" font-size="11.11">07:00:10</text><text x="220.4" y="831.40" text-anchor="end" font-size="11.11">08:00:10</text><text x="220.4" y="855.40" text-anchor="end" font-size="11.11">09:00:10</text><text x="220.4" y="878.40" text-anchor="end" font-size="11.11">10:00:10</text><text x="220.4" y="901.40" text-anchor="end" font-size="11.11">11:00:10</text><text x="220.4" y="925.40" text-anchor="end" font-size="11.11">12:00:10</text><text x="220.4" y="948.40" text-anchor="end" font-size="11.11">13:00:10</text><text x="220.4" y="972.40" text-anchor="end" font-size="11.11">14:00:10</text><text x="220.4" y="995.40" text-anchor="end" font-size="11.11">15:00:10</text><text x="220.4" y="1018.40" text-anchor="end" font-size="11.11">16:00:10</text><text x="220.4" y="1042.40" text-anchor="end" font-size="11.11">17:00:10</text><text x="220.4" y="1065.40" text-anchor="end" font-size="11.11">18:00:10</text><text x="231.45" y="1097.7" text-anchor="middle" font-size="11.11">0</text><text x="594.40" y="1097.7" text-anchor="middle" font-size="11.11">15</text><text x="960.50" y="1097.7" text-anchor="middle" font-size="11.11">30</text><text x="1324.40" y="1097.7" text-anchor="middle" font-size="11.11">45</text><text x="1689.90" y="1097.7" text-anchor="middle" font-size="11.11">60</text><text x="960" y="1112.7" text-anchor="middle" font-size="11.11">time in minutes</text><text x="960" y="34.8" text-anchor="middle" font-size="13.89">US.EDHPI.00.BHZ</text>
<polygon points="1262.40,94.37 1260.53,100.13 1254.48,100.13 1259.37,103.68 1257.50,109.44 1262.40,105.88 1267.30,109.44 1265.43,103.68 1270.32,100.13 1264.27,100.13" fill="#ffff00" stroke="#ffff00" stroke-width="1.39" stroke-linejoin="miter"/><polygon points="1417.40,188.47 1415.53,194.23 1409.48,194.23 1414.37,197.78 1412.50,203.54 1417.40,199.98 1422.30,203.54 1420.43,197.78 1425.32,194.23 1419.27,194.23" fill="#ffff00" stroke="#ffff00" stroke-width="1.39" stroke-linejoin="miter"/><polygon points="306.50,609.47 304.63,615.23 298.58,615.23 303.47,618.78 301.60,624.54 306.50,620.98 311.40,624.54 309.53,618.78 314.42,615.23 308.37,615.23" fill="#ffff00" stroke="#ffff00" stroke-width="1.39" stroke-linejoin="miter"/><path d="M1122.47 132.75Q1193.32 144.45 1254.17 107.89" stroke="#000" stroke-width="1.39" fill="none"/><rect x="924.50" y="121.25" width="195.19" height="22.05" rx="4.17" fill="#fff" fill-opacity="0.6" stroke="#000" stroke-opacity="0.6" stroke-width="1.39"/><text x="928.70" y="136.75" font-size="13.89">DRAKE PASSAGE, 6.3 mww</text><path d="M1278.35 226.21Q1348.63 238.04 1409.15 201.97" stroke="#000" stroke-width="1.39" fill="none"/><rect x="1037.80" y="214.70" width="237.79" height="22.05" rx="4.17" fill="#fff" fill-opacity="0.6" stroke="#000" stroke-opacity="0.6" stroke-width="1.39"/><text x="1041.80" y="229.75" font-size="13.89">IRIAN JAYA, INDONESIA, 6.5 mww</text><path d="M444.74 585.82Q374.36 575.34 314.64 612.48" stroke="#000" stroke-width="1.39" fill="none"/><rect x="447.50" y="575.20" width="249.34" height="22.10" rx="4.17" fill="#fff" fill-opacity="0.6" stroke="#000" stroke-opacity="0.6" stroke-width="1.39"/><text x="451.60" y="589.60" font-size="13.89">MINDANAO, PHILIPPINES, 6.1 mww</text>
</svg></body></html>
